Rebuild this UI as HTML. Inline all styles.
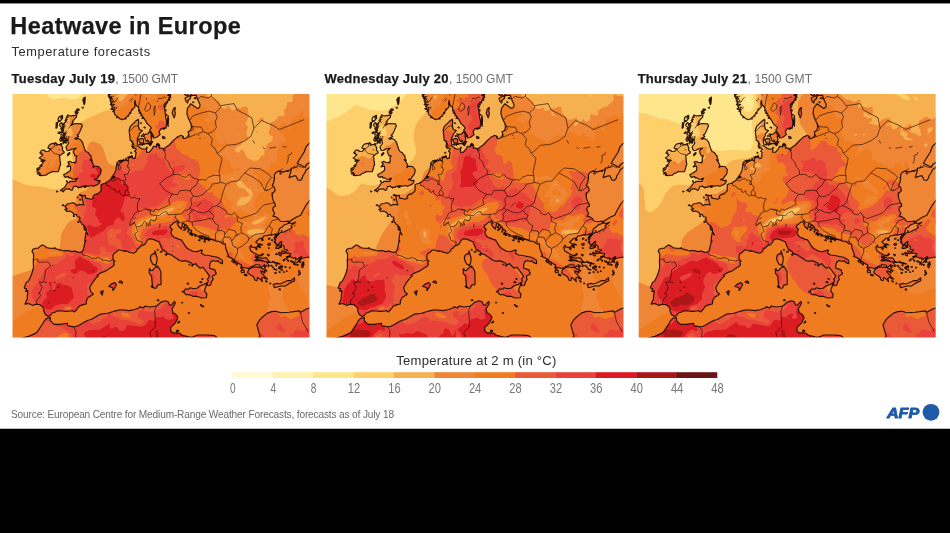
<!DOCTYPE html>
<html lang="en"><head><meta charset="utf-8"><title>Heatwave in Europe</title>
<style>
html,body{margin:0;padding:0;background:#fff}
body{width:950px;height:533px;position:relative;overflow:hidden}
.top{position:absolute;left:0;top:0;width:950px;height:3.4px;background:#000}
.bot{position:absolute;left:0;top:428.7px;width:950px;height:105px;background:#000}
svg{position:absolute;left:0;top:0}
text{font-family:"Liberation Sans",sans-serif;fill:#1a1a1a;white-space:pre}
.b{font-weight:bold}
.g{fill:#6e6e6e}
.d{fill:#2e2e2e}
.num{fill:#777}
.src{fill:#6a6a6a}
.afp{font-weight:bold;font-style:italic;fill:#1f5aa8;stroke:#1f5aa8;stroke-width:0.9px;stroke-linejoin:round}
.b{stroke:#1a1a1a;stroke-width:0.25px}
</style></head><body>
<svg width="950" height="533" viewBox="0 0 950 533">
<defs>
<filter id="soft" x="-5%" y="-5%" width="110%" height="110%"><feGaussianBlur stdDeviation="0.5"/></filter>
<clipPath id="frame"><rect x="0" y="0" width="297" height="243.5"/></clipPath>
<clipPath id="landclip"><path clip-rule="evenodd" d="M48.0 96.6 L49.3 95.4 L51.7 93.8 L52.5 92.7 L55.0 88.7 L56.8 88.3 L57.3 87.2 L60.8 87.4 L63.4 87.5 L63.5 86.3 L65.1 84.2 L63.4 84.5 L62.5 85.4 L59.6 85.0 L58.3 83.8 L56.4 84.1 L56.0 82.5 L54.3 82.9 L53.1 83.4 L51.8 82.6 L51.2 80.5 L53.0 79.7 L54.6 78.8 L57.9 76.5 L58.1 73.8 L57.8 72.0 L54.5 72.9 L56.8 70.1 L55.4 68.3 L57.1 67.4 L59.4 68.3 L61.3 68.5 L63.2 68.9 L62.7 68.0 L63.6 67.6 L63.6 65.8 L63.5 64.3 L64.6 61.8 L62.7 61.9 L60.8 58.0 L61.1 56.7 L63.7 54.2 L61.0 54.8 L58.8 55.4 L57.0 56.2 L54.7 56.5 L53.4 53.0 L54.9 51.0 L56.1 49.2 L55.3 47.5 L55.6 44.8 L53.5 45.0 L50.4 50.0 L51.3 46.2 L51.9 43.1 L52.5 40.4 L49.0 37.2 L51.0 35.0 L51.7 32.6 L51.3 31.2 L52.0 28.7 L53.8 27.2 L53.5 24.2 L55.4 20.9 L56.5 21.5 L58.1 22.0 L59.9 21.5 L62.0 21.6 L62.7 21.0 L64.2 21.4 L63.9 23.1 L61.3 25.8 L59.7 28.1 L60.7 28.1 L59.5 29.6 L58.7 31.2 L60.3 30.4 L63.0 29.5 L68.8 29.9 L69.9 31.7 L68.5 34.8 L67.9 36.5 L66.7 38.7 L66.1 40.1 L64.6 40.9 L66.1 42.5 L62.2 44.8 L63.3 45.1 L65.4 44.4 L68.2 45.8 L68.9 47.1 L69.9 48.0 L71.8 54.1 L72.1 55.0 L73.0 56.8 L73.4 57.4 L75.9 58.7 L77.0 60.6 L78.6 62.0 L78.1 62.4 L79.7 66.8 L77.6 65.7 L78.8 66.9 L81.1 70.7 L80.4 73.6 L81.9 72.4 L86.1 72.5 L88.5 75.4 L88.7 76.5 L87.9 80.1 L86.8 81.3 L85.7 82.8 L84.7 84.5 L83.4 85.1 L81.8 85.6 L83.8 85.9 L85.2 86.6 L87.5 86.4 L87.2 88.5 L85.1 90.6 L82.9 91.2 L81.2 92.3 L79.0 91.5 L75.4 92.3 L73.8 91.7 L71.2 92.1 L69.5 92.3 L69.0 93.3 L68.4 93.4 L66.3 93.1 L66.2 94.0 L63.6 92.0 L61.0 92.8 L60.4 94.4 L59.6 96.2 L58.8 96.2 L56.8 94.9 L54.1 94.8 L51.7 96.3 L50.8 97.9 L49.3 96.5Z M42.8 48.5 L44.8 50.1 L43.9 51.2 L46.2 50.5 L48.6 50.6 L50.2 54.1 L49.8 55.8 L51.7 58.2 L51.2 59.1 L49.6 59.8 L48.2 61.2 L46.9 61.8 L47.3 63.9 L47.6 67.2 L48.1 70.7 L47.3 72.1 L46.9 74.3 L45.8 77.6 L42.7 77.7 L39.7 77.5 L37.7 78.8 L35.4 79.6 L33.8 81.2 L31.8 81.3 L29.2 81.6 L26.8 81.4 L28.2 79.9 L24.8 79.9 L26.8 78.3 L24.4 78.0 L24.6 76.7 L26.8 75.6 L24.2 75.1 L25.7 73.8 L27.6 74.1 L27.2 72.9 L29.7 71.7 L27.5 71.6 L29.0 70.7 L30.5 68.4 L31.5 66.9 L32.7 66.2 L29.9 65.9 L26.8 63.9 L28.7 62.4 L30.4 60.9 L27.4 58.9 L29.0 56.2 L30.0 56.1 L32.2 56.4 L32.9 57.5 L35.9 57.3 L38.2 54.9 L35.8 54.3 L35.3 53.9 L36.8 51.1 L38.2 50.0 L39.7 49.6 L41.5 49.3 L42.0 50.9Z M108.7 -28.6 L107.7 -24.0 L104.9 -20.0 L99.9 -14.0 L96.6 -9.1 L96.5 -0.2 L97.9 5.1 L99.3 9.5 L99.8 13.9 L101.8 17.7 L102.1 20.4 L104.2 22.2 L107.3 24.8 L109.6 25.6 L111.4 25.0 L113.7 23.7 L116.7 20.4 L118.3 17.7 L120.0 15.1 L121.2 14.4 L122.6 12.6 L122.1 9.0 L122.6 6.4 L123.2 10.4 L124.9 12.6 L126.0 12.9 L126.1 14.4 L128.6 19.9 L131.6 24.7 L133.0 26.6 L134.4 29.4 L138.1 32.8 L138.8 34.0 L137.1 36.2 L138.7 38.2 L141.0 41.8 L140.7 43.9 L142.3 43.7 L143.4 43.6 L145.4 42.4 L147.6 40.6 L146.6 37.5 L147.7 36.2 L148.5 34.8 L152.0 33.9 L153.4 34.3 L154.3 28.6 L153.2 23.1 L152.7 18.8 L152.1 14.7 L151.5 11.2 L152.0 9.9 L155.2 8.6 L155.1 7.2 L157.1 2.8 L157.0 -1.4 L155.2 -4.1 L153.0 -5.8 L147.5 -7.3 L145.1 -12.2 L144.4 -15.7 L143.3 -22.0 L146.2 -31.4 L151.4 -40.0 L148.2 -58.0 L120.7 -67.7Z M157.6 -62.0 L161.5 -49.0 L156.1 -33.1 L158.3 -25.3 L161.3 -19.7 L161.9 -16.1 L163.1 -11.8 L166.8 -11.3 L169.8 -9.6 L172.5 -8.0 L174.0 -10.4 L177.0 -12.0 L179.1 -14.1 L181.4 -16.7 L183.1 -19.0 L186.2 -21.1 L188.3 -22.7 L190.9 -25.6 L197.1 -22.9 L199.7 -22.6 L195.8 -20.1 L194.2 -17.7 L193.5 -14.3 L188.9 -11.9 L184.1 -10.9 L180.9 -8.1 L178.5 -6.0 L177.7 -1.7 L179.1 1.4 L183.8 1.2 L185.1 5.6 L187.5 10.6 L187.2 13.2 L185.1 14.4 L181.8 12.2 L178.2 9.8 L174.9 14.5 L174.4 19.5 L175.4 22.9 L177.5 27.7 L178.4 29.5 L179.0 33.1 L177.9 36.8 L175.6 37.6 L176.2 40.4 L175.0 43.1 L172.5 44.5 L171.1 44.5 L170.2 43.7 L171.1 42.6 L168.6 41.5 L168.1 41.4 L164.7 43.1 L161.8 45.6 L159.9 47.5 L156.7 51.0 L150.8 54.9 L149.3 54.1 L146.7 54.3 L147.2 51.8 L146.5 50.2 L145.1 49.3 L143.8 50.8 L144.1 53.0 L141.0 52.2 L139.5 55.1 L136.9 58.1 L134.0 58.3 L134.1 54.7 L129.8 55.0 L128.4 54.3 L125.5 52.1 L125.1 49.9 L124.6 45.9 L125.8 45.1 L124.8 44.1 L126.4 42.4 L127.0 39.6 L129.8 36.6 L126.8 35.5 L125.9 32.0 L126.2 27.9 L125.9 25.3 L123.2 27.1 L117.9 32.3 L116.6 36.3 L117.3 42.5 L117.7 46.4 L119.6 47.0 L120.6 50.2 L119.7 52.1 L123.8 55.3 L122.1 57.2 L123.6 58.5 L123.2 60.8 L122.9 63.9 L120.9 64.6 L119.4 63.0 L115.7 64.2 L115.8 66.6 L114.9 66.9 L114.1 65.9 L111.1 66.7 L107.3 69.1 L105.8 70.8 L104.1 71.3 L103.4 75.9 L102.1 79.2 L101.4 80.3 L99.5 83.0 L98.3 84.9 L97.1 86.4 L95.5 87.4 L92.6 89.2 L89.9 90.0 L88.4 90.9 L88.6 92.2 L88.5 96.9 L86.0 99.4 L82.0 100.9 L80.9 101.7 L80.5 103.5 L81.3 104.0 L80.4 104.5 L78.6 105.3 L76.5 104.7 L74.0 104.2 L73.3 104.4 L72.8 102.3 L72.8 101.4 L70.8 101.8 L69.0 101.1 L69.7 104.3 L70.8 109.2 L71.4 111.0 L69.4 110.5 L68.4 110.7 L66.6 110.4 L64.3 111.6 L62.4 109.3 L60.2 108.7 L57.1 109.5 L55.0 109.8 L52.3 112.4 L53.1 113.4 L54.8 114.9 L52.3 115.2 L54.4 117.5 L57.0 117.1 L60.2 118.6 L61.6 120.9 L63.5 120.3 L64.9 122.7 L67.0 123.0 L67.6 124.5 L66.7 125.4 L68.4 128.2 L69.3 130.0 L71.5 131.5 L72.9 133.2 L73.6 135.0 L73.9 138.0 L75.6 140.9 L73.6 138.4 L72.7 143.5 L72.3 146.9 L73.3 146.7 L72.2 148.9 L71.9 150.7 L70.8 155.6 L69.9 157.1 L68.5 158.1 L67.1 158.5 L62.2 157.1 L59.3 157.6 L55.4 156.5 L51.5 156.9 L49.3 156.5 L47.3 155.9 L43.4 154.8 L42.4 153.7 L41.7 154.3 L37.9 154.2 L34.6 153.8 L30.8 151.1 L29.6 151.1 L28.3 151.9 L26.5 153.3 L25.7 154.1 L23.1 154.2 L20.3 155.2 L19.5 157.7 L20.7 158.8 L21.1 161.4 L21.0 163.9 L20.7 166.7 L20.8 168.6 L21.0 173.6 L19.8 178.1 L18.3 182.3 L16.0 186.9 L13.6 188.7 L11.8 193.7 L12.2 194.5 L14.1 194.9 L13.2 197.4 L15.5 196.9 L14.8 201.8 L14.7 205.0 L12.5 210.0 L12.8 210.2 L14.9 209.6 L16.0 209.6 L17.9 210.3 L20.3 211.6 L22.4 210.6 L24.2 210.3 L27.4 210.8 L30.1 212.7 L31.2 214.8 L31.3 217.1 L32.8 220.5 L35.8 222.5 L37.8 221.6 L39.6 219.0 L41.7 218.5 L45.4 216.8 L49.5 217.0 L52.1 217.3 L55.8 217.3 L60.0 216.8 L62.0 217.9 L64.3 215.5 L67.0 211.9 L71.5 210.4 L73.7 210.0 L73.9 206.9 L75.6 203.6 L78.2 201.9 L80.9 200.1 L80.0 199.1 L78.2 197.7 L77.8 196.1 L77.1 193.6 L78.1 191.8 L79.7 188.9 L82.5 185.4 L83.0 184.4 L85.8 182.1 L84.6 181.4 L88.5 178.7 L92.2 177.4 L94.8 176.1 L96.7 174.6 L99.0 173.2 L101.2 171.5 L101.8 170.5 L101.2 169.0 L101.5 167.8 L102.4 167.2 L101.3 166.2 L100.7 165.5 L100.4 163.9 L100.4 162.0 L101.1 159.8 L103.2 158.5 L104.5 157.3 L105.9 156.0 L107.2 156.0 L109.3 156.5 L112.1 157.4 L112.7 156.5 L113.4 157.3 L115.5 157.4 L116.8 158.2 L117.2 158.4 L119.4 158.8 L120.8 159.3 L122.3 158.7 L124.2 156.8 L124.5 155.4 L126.2 154.0 L126.9 153.9 L127.7 152.4 L128.6 152.1 L129.1 151.5 L130.9 151.1 L132.4 150.2 L133.5 148.5 L134.9 146.0 L137.6 144.6 L139.6 145.3 L140.8 145.4 L143.9 146.7 L146.8 148.0 L147.7 150.8 L149.9 156.0 L151.6 155.8 L151.6 156.9 L153.5 157.5 L154.7 160.0 L155.5 159.6 L159.1 161.0 L159.9 161.8 L163.3 164.0 L166.6 166.3 L169.9 167.5 L171.2 166.8 L173.6 166.9 L176.4 167.9 L179.0 169.1 L180.3 170.6 L180.1 171.2 L181.8 170.2 L182.9 169.5 L185.1 172.0 L187.8 174.2 L190.2 173.2 L191.8 175.0 L194.6 178.6 L197.1 182.2 L194.9 185.4 L195.8 186.9 L194.9 188.8 L194.7 190.3 L195.3 191.5 L196.1 191.6 L198.1 191.0 L199.0 187.9 L200.7 185.3 L199.9 183.4 L200.1 182.0 L203.4 180.3 L203.8 178.9 L203.1 178.7 L202.5 175.9 L200.8 175.4 L197.3 174.3 L197.0 173.1 L197.4 169.9 L197.9 168.3 L200.2 166.5 L202.7 167.3 L205.6 166.9 L206.8 168.4 L210.0 169.7 L210.0 166.4 L208.0 164.9 L204.9 163.3 L199.7 162.2 L196.3 161.5 L191.8 161.0 L188.7 159.1 L189.8 156.4 L188.6 156.1 L187.7 156.5 L184.2 157.6 L181.6 157.5 L179.6 157.1 L176.9 155.5 L175.4 154.7 L173.2 152.7 L172.2 151.1 L170.5 148.3 L168.8 145.9 L166.4 145.4 L164.9 144.5 L163.9 144.1 L161.5 143.2 L160.2 142.3 L159.1 140.6 L158.4 138.1 L159.8 135.5 L157.7 133.5 L157.7 131.6 L159.4 130.6 L160.6 129.4 L162.0 128.3 L163.7 127.9 L164.4 126.8 L166.0 127.6 L166.0 128.6 L165.0 129.0 L164.9 129.9 L165.8 131.6 L166.3 132.8 L168.1 134.3 L168.8 135.1 L169.6 132.1 L170.0 129.6 L170.9 129.4 L172.8 130.4 L174.4 131.6 L176.5 135.3 L179.3 136.7 L178.5 138.6 L180.3 139.9 L183.6 140.9 L184.2 142.1 L186.4 142.0 L187.7 141.8 L189.5 141.9 L191.9 142.5 L195.2 143.8 L196.7 144.5 L197.5 145.1 L200.4 145.9 L201.5 146.2 L204.0 147.1 L206.5 147.4 L208.6 148.4 L209.8 149.7 L211.1 149.9 L212.8 149.8 L213.2 154.2 L214.4 157.3 L215.9 161.5 L214.7 162.2 L218.7 163.9 L221.1 165.2 L221.6 166.4 L224.0 167.7 L225.7 169.2 L229.1 171.1 L229.2 173.4 L232.8 173.7 L235.7 174.5 L238.3 173.5 L238.5 172.8 L242.5 171.4 L242.6 170.8 L244.2 170.7 L247.4 171.0 L248.1 173.2 L246.3 173.4 L245.2 173.1 L240.7 173.3 L238.5 173.7 L238.3 174.3 L236.0 175.9 L235.0 178.6 L237.3 180.6 L241.1 182.8 L242.2 185.6 L242.7 186.3 L244.3 186.6 L244.7 185.7 L244.9 183.5 L246.4 184.3 L248.1 185.6 L249.8 187.6 L249.2 184.3 L250.6 183.3 L253.7 185.0 L255.0 185.0 L253.0 183.4 L250.2 180.1 L248.5 178.3 L248.2 176.8 L248.8 177.0 L251.5 177.9 L252.0 177.1 L253.1 175.4 L252.2 174.8 L250.5 175.3 L248.5 173.5 L250.7 171.9 L251.7 170.8 L252.8 171.4 L254.3 172.0 L256.6 172.4 L256.7 171.7 L255.1 169.5 L255.1 168.2 L252.6 167.6 L250.7 167.2 L248.1 166.8 L245.7 166.4 L243.9 166.9 L242.2 166.4 L244.6 164.9 L244.2 164.3 L243.0 163.3 L243.1 161.6 L244.9 163.3 L246.4 161.7 L243.6 160.0 L241.6 158.9 L240.0 157.9 L238.5 157.2 L237.6 155.0 L237.0 153.5 L237.8 152.7 L238.7 151.1 L239.2 153.1 L242.3 153.4 L244.0 155.7 L244.6 154.2 L242.9 153.5 L244.9 152.4 L248.0 153.7 L247.4 152.4 L245.2 151.5 L246.6 150.6 L250.1 151.0 L248.1 149.9 L245.8 150.2 L244.9 149.4 L243.3 148.2 L244.1 147.2 L247.2 144.4 L249.4 144.2 L250.1 143.9 L251.6 141.7 L254.6 141.6 L257.1 140.7 L258.5 141.1 L258.8 141.3 L264.0 139.7 L261.5 143.9 L262.2 146.2 L262.5 146.4 L263.7 151.0 L265.5 150.2 L269.2 147.3 L268.5 150.5 L270.8 151.6 L271.7 152.6 L271.5 155.3 L275.1 156.0 L272.9 157.6 L269.0 156.7 L269.9 159.6 L273.7 158.9 L278.3 159.9 L277.4 162.6 L280.4 164.1 L283.2 163.6 L283.0 166.0 L289.1 162.6 L284.0 169.0 L289.6 164.3 L293.9 163.5 L296.4 163.0 L299.3 164.9 L302.0 164.2 L305.1 161.4 L307.3 161.1 L306.6 157.4 L306.1 154.7 L311.4 152.8 L316.5 152.0 L319.9 152.8 L324.5 152.5 L328.8 148.9 L331.0 145.2 L334.1 138.8 L342.3 134.1 L382.2 108.8 L362.2 13.3 L311.4 -65.8 L225.3 -113.5Z M-46.7 281.3 L-15.4 277.4 L-6.1 268.0 L-4.4 258.0 L1.7 251.7 L9.3 244.2 L16.7 242.1 L23.5 239.1 L25.3 237.1 L30.5 229.2 L31.8 226.9 L34.0 224.3 L37.9 223.6 L37.7 226.3 L38.9 227.8 L41.7 230.4 L47.4 230.4 L54.9 229.2 L55.0 230.6 L55.2 231.7 L60.5 232.6 L63.1 232.7 L67.0 231.0 L72.9 227.5 L75.7 226.2 L78.6 225.5 L88.1 220.1 L95.0 219.2 L101.5 217.3 L103.0 216.9 L107.9 215.7 L116.9 216.6 L122.2 215.5 L128.2 213.2 L127.4 212.6 L130.7 214.0 L132.7 212.0 L137.4 213.0 L142.6 212.3 L144.8 211.5 L148.1 208.4 L152.7 206.8 L155.6 207.7 L156.8 210.9 L158.4 211.3 L162.1 207.4 L162.8 209.3 L160.5 213.4 L159.6 214.1 L160.5 219.1 L162.1 219.3 L164.4 221.4 L165.4 223.7 L163.0 228.8 L158.1 233.6 L158.5 237.4 L160.8 238.9 L167.3 239.3 L170.0 241.5 L171.3 241.5 L176.0 242.8 L179.5 243.2 L185.2 241.0 L194.7 241.0 L202.1 241.6 L212.1 249.9 L240.2 249.6 L247.5 242.3 L244.3 230.8 L247.2 225.8 L249.8 223.2 L254.8 219.1 L259.1 217.6 L263.4 217.2 L268.3 218.7 L276.5 218.3 L286.8 216.9 L288.0 218.3 L294.0 215.0 L305.6 211.7 L321.6 208.5 L327.3 201.5 L334.4 194.3 L345.2 189.7 L355.3 185.4 L359.9 176.9 L357.7 163.0 L353.4 149.4 L345.0 138.8 L342.3 134.1 L440.4 128.7 L384.6 285.0 L57.8 372.4Z M136.8 37.9 L138.3 39.2 L139.0 41.3 L138.8 43.6 L139.2 45.4 L138.3 47.9 L136.8 48.2 L133.5 47.0 L132.8 45.8 L132.0 43.2 L130.9 42.5 L132.4 40.4 L134.5 40.0 L135.6 39.3Z M128.3 44.4 L130.6 44.8 L131.2 46.6 L131.2 48.8 L128.7 49.3 L126.9 47.8 L126.1 45.7Z M132.8 49.4 L135.9 49.8 L137.8 51.6 L138.8 50.1 L140.2 47.5 L138.0 47.9 L136.3 49.2Z M150.1 42.3 L152.4 43.3 L152.3 44.5 L150.4 44.4Z M162.9 13.6 L162.3 16.7 L162.9 19.8 L161.7 23.8 L161.0 22.3 L159.7 19.0 L160.6 15.8 L161.6 14.1Z M155.6 21.5 L156.0 25.8 L155.6 32.4 L155.0 29.8 L155.1 25.1Z M172.8 3.7 L176.5 2.0 L178.5 2.3 L177.6 4.7 L175.4 6.5 L175.2 9.0 L173.5 7.3 L172.7 5.2Z M173.7 -1.3 L175.7 -0.9 L175.6 1.1 L173.8 1.4 L172.1 0.6Z M102.2 188.6 L104.0 190.3 L102.3 194.0 L101.3 194.8 L99.1 193.3 L96.2 192.5 L98.7 190.1Z M108.6 187.0 L110.0 188.1 L109.9 189.3 L106.6 188.5 L106.8 187.4Z M90.5 196.7 L90.8 197.6 L89.4 199.2 L87.9 198.6 L88.7 197.2Z M142.5 156.7 L143.2 159.3 L144.7 164.5 L144.0 169.2 L143.2 171.4 L140.3 170.2 L138.6 167.3 L137.8 163.8 L138.7 160.9 L141.2 159.4 L142.3 159.7Z M143.4 172.5 L146.8 174.2 L148.4 178.0 L148.4 183.1 L148.6 186.7 L148.4 190.8 L145.4 190.9 L143.6 194.2 L141.7 194.2 L140.1 192.6 L139.8 190.3 L139.3 185.4 L138.9 181.8 L136.8 179.4 L136.8 176.2 L139.7 176.7 L142.2 174.0Z M194.3 188.8 L193.8 191.5 L191.9 196.6 L194.4 200.2 L193.8 203.8 L188.8 204.0 L184.4 202.3 L180.5 202.3 L176.2 200.5 L173.5 200.7 L171.6 198.8 L171.6 196.5 L173.2 194.8 L176.0 195.3 L177.6 193.7 L180.9 194.8 L184.3 194.2 L187.6 191.7 L191.6 190.2Z M260.7 190.2 L264.8 189.4 L266.8 190.0 L270.7 188.7 L275.2 186.6 L278.4 186.6 L282.0 183.8 L282.1 186.8 L278.0 188.8 L272.0 192.3 L269.4 191.8 L264.6 193.0 L261.8 193.7 L261.1 191.5Z M246.7 163.5 L248.3 164.3 L251.4 163.9 L253.8 163.8 L256.2 167.2 L258.9 168.5 L255.3 168.1 L251.6 167.3 L249.5 166.2 L245.2 165.6 L245.3 164.1Z M291.0 167.7 L291.5 170.5 L290.1 173.9 L289.0 172.7 L289.5 169.5Z M266.0 150.9 L268.4 151.5 L269.2 153.1 L265.6 154.4 L263.5 154.4 L263.4 153.2Z M266.7 158.3 L268.7 159.9 L268.5 162.0 L266.9 161.3 L265.9 159.2Z M274.0 162.8 L277.4 161.6 L276.7 162.9 L274.5 163.7Z M229.2 175.6 L231.5 176.4 L231.8 178.5 L229.1 178.7 L228.5 177.0Z M220.3 166.0 L221.1 166.3 L222.7 168.6 L223.3 169.2 L221.2 168.7 L219.1 167.1Z M232.0 180.1 L234.6 181.0 L233.9 181.8 L232.0 181.2Z M255.9 149.6 L257.6 149.3 L257.7 150.7 L256.0 151.5 L255.1 150.4Z M249.3 144.7 L250.5 145.2 L250.4 146.4 L249.0 146.3Z M256.0 144.6 L257.4 144.1 L257.3 144.9 L255.9 145.3Z M268.7 171.3 L270.2 172.6 L269.4 173.7 L268.1 172.8Z M266.8 172.7 L267.9 173.7 L266.7 174.3Z M260.1 167.4 L262.7 168.2 L262.9 169.1 L260.3 168.3Z M263.4 169.1 L265.6 169.3 L264.7 170.0Z M262.5 178.4 L263.9 178.7 L262.6 179.6Z M282.6 167.5 L281.3 169.2 L281.0 170.3 L282.4 168.8Z M286.3 176.2 L288.0 179.4 L287.5 180.1 L286.4 178.1Z M253.3 186.3 L254.9 187.8 L253.6 187.9Z M272.8 164.6 L270.9 166.8 L270.6 166.2Z M255.1 160.3 L256.7 161.1 L255.9 161.9Z M338.1 146.9 L336.2 153.7 L338.5 154.9 L333.2 162.1 L328.5 164.1 L325.8 161.5 L329.4 158.2 L331.1 154.9Z M57.1 58.5 L57.4 59.6 L55.0 61.7 L55.1 60.3Z M49.9 21.3 L50.1 24.2 L47.7 27.1 L46.1 27.8 L45.5 25.9 L46.1 23.3Z M45.1 28.3 L44.9 30.8 L44.5 33.4 L43.6 33.3 L43.7 28.8Z M49.2 28.6 L50.0 31.3 L50.7 34.5 L48.9 33.4 L47.0 31.4 L47.5 29.7Z M49.6 38.0 L51.6 39.9 L50.4 41.2 L48.3 40.9 L48.6 39.2Z M49.0 44.3 L49.3 46.9 L48.1 47.2 L47.2 45.7 L47.8 44.5Z M51.3 42.6 L49.9 45.6 L49.5 44.6 L50.3 42.9Z M53.5 46.6 L53.8 49.1 L52.6 49.0 L52.6 47.2Z M63.9 16.8 L65.6 18.2 L64.8 20.0 L62.8 19.4 L62.8 17.2Z M66.1 14.9 L66.9 16.0 L65.4 16.4Z M72.7 3.1 L72.6 6.0 L72.4 8.2 L71.6 10.7 L70.9 8.2 L70.3 5.9 L71.1 4.2Z M72.6 91.8 L73.8 92.7 L72.6 93.5 L71.1 92.7Z M67.4 105.1 L68.5 106.0 L67.1 106.0Z M65.2 102.9 L65.6 103.7 L64.8 103.6Z M60.8 121.7 L61.8 122.5 L60.9 122.4Z M71.6 134.1 L72.8 136.2 L71.9 135.7Z M189.2 211.5 L191.2 212.2 L190.4 212.9 L189.2 212.2Z M148.7 157.3 L149.7 157.5 L148.6 158.2 L147.6 157.9Z M164.6 236.1 L166.3 236.7 L165.2 237.8 L163.9 237.6Z M169.3 208.2 L170.2 208.8 L169.3 208.9Z M104.4 69.3 L104.0 71.0 L104.7 70.5Z M106.4 66.7 L108.5 67.2 L108.4 66.3Z M158.2 -8.0 L160.5 -7.9 L160.7 -6.1 L158.6 -5.8Z M166.6 227.0 L167.2 228.2 L165.3 229.1Z M228.7 172.2 L229.9 174.1 L228.8 174.5 L228.3 173.3Z M101.2 17.5 L100.3 17.7 L100.5 17.0Z M99.4 15.4 L98.3 14.8 L99.5 14.4Z M99.3 12.6 L99.2 11.7 L100.2 12.1Z M99.2 10.9 L97.7 10.7 L98.7 9.7Z M99.3 8.7 L98.3 8.9 L98.6 8.2Z M98.5 7.4 L97.4 6.8 L98.5 6.4Z M97.1 4.7 L97.0 3.8 L98.0 4.2Z M97.4 3.0 L95.9 2.7 L96.9 1.8Z M96.7 0.9 L95.7 1.1 L96.0 0.3Z M96.6 -1.4 L95.5 -2.0 L96.7 -2.4Z M95.7 -4.1 L95.6 -5.0 L96.6 -4.7Z M96.7 -6.8 L95.2 -7.1 L96.2 -8.0Z M102.3 16.1 L101.4 16.2 L101.7 15.5Z M102.3 14.2 L101.2 13.7 L102.4 13.2Z M100.9 11.1 L100.8 10.2 L101.8 10.6Z M101.4 8.0 L99.9 7.8 L100.9 6.8Z M100.1 5.1 L99.2 5.2 L99.4 4.5Z M98.9 3.8 L97.8 3.2 L98.9 2.7Z M97.8 0.2 L97.7 -0.7 L98.7 -0.4Z M98.7 -3.4 L97.2 -3.7 L98.2 -4.6Z M98.9 -11.0 L97.9 -10.8 L98.2 -11.5Z M100.7 -13.5 L99.6 -14.0 L100.7 -14.5Z M104.3 23.8 L104.2 22.9 L105.2 23.3Z M113.6 25.0 L112.0 24.8 L113.0 23.9Z M116.2 22.1 L115.2 22.2 L115.5 21.5Z M118.2 19.4 L117.1 18.8 L118.2 18.4Z M119.2 16.3 L119.1 15.4 L120.2 15.8Z M131.0 24.4 L129.4 24.1 L130.4 23.2Z M129.3 21.6 L128.4 21.8 L128.7 21.0Z M127.7 19.5 L126.6 19.0 L127.8 18.5Z M126.1 16.9 L126.0 16.0 L127.0 16.4Z M157.4 6.2 L155.9 6.0 L156.9 5.1Z M158.3 3.6 L157.4 3.8 L157.7 3.1Z M158.0 2.2 L156.9 1.6 L158.0 1.2Z M157.6 0.2 L157.5 -0.7 L158.5 -0.3Z M158.3 -1.7 L156.8 -1.9 L157.8 -2.8Z M154.5 20.9 L153.6 21.0 L153.9 20.3Z M153.4 16.9 L152.3 16.3 L153.5 15.8Z M152.2 13.2 L152.1 12.3 L153.1 12.7Z M151.4 35.2 L149.9 35.0 L150.9 34.0Z M152.2 34.6 L151.3 34.8 L151.5 34.0Z M153.5 11.2 L152.4 10.6 L153.6 10.2Z M153.6 9.0 L153.5 8.1 L154.6 8.5Z M156.8 1.7 L155.2 1.5 L156.3 0.5Z M155.8 -5.0 L154.9 -4.8 L155.2 -5.5Z M163.9 -7.6 L162.8 -8.1 L164.0 -8.6Z M165.9 -6.7 L165.8 -7.6 L166.9 -7.2Z M168.5 -8.3 L167.0 -8.6 L168.0 -9.5Z M170.2 -7.5 L169.3 -7.3 L169.6 -8.0Z M165.6 -9.2 L164.5 -9.7 L165.6 -10.2Z M168.4 -9.6 L168.3 -10.5 L169.3 -10.2Z M173.9 -8.6 L172.4 -8.8 L173.4 -9.8Z M176.5 -11.1 L175.6 -11.0 L175.9 -11.7Z M179.8 -13.3 L178.7 -13.9 L179.9 -14.3Z M182.3 -16.8 L182.2 -17.7 L183.2 -17.3Z M186.6 -19.5 L185.1 -19.7 L186.1 -20.6Z M163.0 -8.5 L162.1 -8.3 L162.4 -9.1Z M163.1 -6.3 L162.0 -6.9 L163.1 -7.3Z M164.9 -10.6 L164.8 -11.5 L165.8 -11.2Z M158.6 -6.0 L157.1 -6.3 L158.1 -7.2Z M129.1 29.2 L128.2 29.4 L128.4 28.7Z M132.5 34.1 L131.4 33.6 L132.6 33.1Z M129.0 42.4 L128.9 41.5 L129.9 41.9Z M128.1 50.9 L126.6 50.7 L127.6 49.7Z M132.2 50.3 L131.3 50.4 L131.5 49.7Z M130.1 51.3 L129.0 50.7 L130.2 50.2Z M139.0 48.4 L138.9 47.5 L139.9 47.9Z M138.4 50.3 L136.8 50.1 L137.8 49.1Z M135.0 53.8 L134.0 54.0 L134.3 53.3Z M145.8 51.9 L144.7 51.3 L145.9 50.8Z M144.9 50.5 L144.8 49.6 L145.8 50.0Z M139.8 42.4 L138.3 42.2 L139.3 41.2Z M135.8 46.8 L134.8 47.0 L135.1 46.3Z M131.1 49.9 L130.0 49.3 L131.2 48.9Z M130.6 40.7 L130.5 39.8 L131.5 40.2Z M46.9 39.4 L45.4 39.2 L46.4 38.2Z M48.0 38.3 L47.1 38.5 L47.4 37.8Z M49.2 35.3 L48.1 34.7 L49.3 34.3Z M49.2 36.2 L49.1 35.3 L50.2 35.7Z M49.5 43.7 L48.0 43.5 L49.0 42.5Z M51.3 46.7 L50.4 46.9 L50.7 46.1Z M54.3 46.0 L53.2 45.5 L54.4 45.0Z M43.5 34.2 L43.4 33.3 L44.4 33.7Z M49.7 24.1 L48.2 23.9 L49.2 22.9Z M51.2 30.6 L50.3 30.8 L50.6 30.1Z M53.5 26.8 L52.5 26.2 L53.6 25.8Z M51.0 42.6 L50.9 41.7 L51.9 42.1Z M52.5 41.8 L51.0 41.5 L52.0 40.6Z M51.3 33.3 L50.4 33.5 L50.7 32.8Z M51.8 30.2 L50.7 29.6 L51.9 29.2Z M53.6 25.9 L53.5 25.0 L54.6 25.4Z M55.6 23.3 L54.1 23.1 L55.1 22.2Z M47.1 27.1 L46.2 27.2 L46.5 26.5Z M44.8 32.1 L43.7 31.5 L44.8 31.1Z M50.3 37.2 L50.2 36.3 L51.3 36.7Z M53.5 39.6 L52.0 39.4 L53.0 38.5Z M52.7 44.1 L51.7 44.3 L52.0 43.6Z M52.3 48.5 L51.2 48.0 L52.4 47.5Z M54.4 46.5 L54.3 45.6 L55.3 46.0Z M65.5 16.0 L63.9 15.8 L64.9 14.8Z M64.8 17.8 L63.9 18.0 L64.2 17.3Z M63.8 19.5 L62.7 19.0 L63.8 18.5Z M71.7 7.3 L71.6 6.4 L72.6 6.8Z M72.6 5.5 L71.1 5.3 L72.1 4.4Z M72.3 9.6 L71.4 9.8 L71.7 9.1Z M70.6 14.2 L69.5 13.6 L70.7 13.2Z M172.2 132.1 L172.1 131.2 L173.1 131.5Z M172.2 133.7 L170.7 133.5 L171.7 132.5Z M174.5 133.9 L173.6 134.1 L173.9 133.4Z M176.5 136.3 L175.4 135.7 L176.6 135.2Z M177.3 140.5 L177.2 139.6 L178.2 139.9Z M178.7 139.6 L177.2 139.4 L178.2 138.4Z M180.1 141.4 L179.2 141.6 L179.5 140.9Z M189.8 143.5 L188.7 143.0 L189.8 142.5Z M189.9 144.9 L189.8 144.0 L190.8 144.3Z M187.5 146.8 L186.0 146.5 L187.0 145.6Z M192.5 145.8 L191.6 146.0 L191.9 145.3Z M196.7 146.8 L195.6 146.2 L196.8 145.7Z M195.1 145.6 L195.0 144.7 L196.0 145.1Z M193.0 148.0 L191.4 147.7 L192.4 146.8Z M187.6 143.3 L186.6 143.4 L186.9 142.7Z M173.0 135.8 L171.9 135.2 L173.1 134.7Z M175.4 138.2 L175.3 137.3 L176.3 137.7Z M179.8 141.0 L178.2 140.8 L179.2 139.8Z M183.1 142.0 L182.1 142.2 L182.4 141.5Z M188.5 145.1 L187.4 144.5 L188.5 144.0Z M191.9 144.3 L191.7 143.4 L192.8 143.7Z M194.6 145.4 L193.0 145.2 L194.0 144.2Z M172.0 136.1 L171.1 136.3 L171.4 135.6Z M259.2 172.2 L258.1 171.7 L259.3 171.2Z M260.1 173.7 L260.0 172.8 L261.0 173.1Z M262.5 175.5 L261.0 175.3 L262.0 174.3Z M264.4 176.0 L263.5 176.1 L263.8 175.4Z M264.1 171.9 L263.0 171.3 L264.2 170.9Z M266.6 170.2 L266.5 169.3 L267.5 169.7Z M270.1 176.2 L268.5 176.0 L269.5 175.1Z M271.9 178.2 L270.9 178.3 L271.2 177.6Z M273.4 173.5 L272.3 172.9 L273.4 172.4Z M277.1 174.1 L277.0 173.2 L278.0 173.6Z M280.7 168.3 L279.1 168.1 L280.1 167.1Z M279.0 167.2 L278.0 167.4 L278.3 166.7Z M276.0 167.3 L274.9 166.7 L276.1 166.3Z M284.8 171.4 L284.7 170.5 L285.7 170.9Z M288.4 168.3 L286.9 168.1 L287.9 167.1Z M286.7 180.9 L285.8 181.1 L286.0 180.4Z M247.6 162.1 L246.5 161.6 L247.7 161.1Z M248.9 161.8 L248.8 160.9 L249.8 161.2Z M250.8 160.5 L249.3 160.3 L250.3 159.4Z M256.9 154.1 L256.0 154.3 L256.2 153.6Z M259.9 146.7 L258.8 146.1 L260.0 145.7Z M261.9 148.7 L261.8 147.8 L262.9 148.2Z M264.7 160.6 L263.1 160.4 L264.1 159.4Z M253.1 173.4 L252.1 173.5 L252.4 172.8Z M252.2 172.3 L251.1 171.7 L252.3 171.2Z M253.5 177.3 L253.4 176.4 L254.4 176.7Z M252.5 178.9 L250.9 178.7 L251.9 177.7Z M230.9 176.0 L229.9 176.2 L230.2 175.5Z M224.7 171.0 L223.6 170.4 L224.8 169.9Z M257.4 189.9 L257.3 189.0 L258.3 189.3Z M268.0 195.9 L266.4 195.6 L267.4 194.7Z M274.7 177.3 L273.8 177.5 L274.1 176.7Z M267.5 178.6 L266.4 178.0 L267.5 177.5Z M266.2 174.3 L266.1 173.4 L267.1 173.8Z M267.9 175.0 L266.4 174.8 L267.4 173.8Z M274.9 165.2 L274.0 165.4 L274.2 164.7Z M272.1 166.4 L271.0 165.9 L272.1 165.4Z M282.6 171.0 L282.5 170.1 L283.6 170.5Z M282.5 169.8 L281.0 169.6 L282.0 168.7Z M268.5 159.4 L267.6 159.5 L267.9 158.8Z M267.8 153.5 L266.7 153.0 L267.8 152.5Z M275.6 163.3 L275.5 162.4 L276.5 162.8Z M290.6 170.7 L289.1 170.5 L290.1 169.5Z M287.5 178.5 L286.6 178.6 L286.9 177.9Z M256.2 161.5 L255.1 160.9 L256.3 160.5Z M261.4 168.6 L261.3 167.7 L262.3 168.1Z M265.4 169.7 L263.9 169.5 L264.9 168.5Z M177.3 170.7 L176.4 170.8 L176.6 170.1Z M179.8 172.1 L178.7 171.5 L179.8 171.0Z M188.5 188.8 L188.4 187.9 L189.4 188.3Z M176.1 190.1 L174.6 189.9 L175.6 188.9Z M170.8 197.8 L169.8 198.0 L170.1 197.3Z M176.8 219.5 L175.7 218.9 L176.8 218.4Z M188.1 211.5 L188.0 210.6 L189.0 211.0Z M154.1 161.1 L152.6 160.8 L153.6 159.9Z M145.8 155.9 L144.9 156.1 L145.2 155.3Z M137.5 175.8 L136.4 175.2 L137.6 174.7Z M144.7 172.9 L144.5 172.0 L145.6 172.4Z M141.0 193.7 L139.5 193.4 L140.5 192.5Z M139.6 192.4 L138.7 192.6 L139.0 191.8Z M190.3 185.6 L189.2 185.0 L190.3 184.6Z M187.6 188.4 L187.5 187.5 L188.5 187.9Z M51.3 111.7 L49.7 111.5 L50.7 110.6Z M72.2 132.9 L71.3 133.0 L71.5 132.3Z M66.3 128.4 L65.2 127.9 L66.4 127.4Z M44.3 98.0 L44.2 97.1 L45.3 97.5Z M29.9 67.5 L28.4 67.2 L29.4 66.3Z M29.1 59.4 L28.2 59.6 L28.5 58.8Z M48.8 50.4 L47.7 49.9 L48.8 49.4Z M54.0 87.8 L53.9 86.9 L54.9 87.3Z M68.2 101.5 L66.7 101.3 L67.7 100.4Z M105.6 68.6 L104.6 68.8 L104.9 68.0Z M107.1 67.7 L106.0 67.1 L107.1 66.7Z M108.4 67.0 L108.3 66.1 L109.4 66.5Z M111.7 66.5 L110.1 66.3 L111.1 65.3Z M113.9 64.8 L113.0 65.0 L113.3 64.2Z M116.2 64.0 L115.1 63.4 L116.2 63.0Z M117.0 63.3 L116.9 62.4 L117.9 62.8Z M120.0 62.8 L118.4 62.5 L119.4 61.6Z M119.3 58.9 L118.3 59.1 L118.6 58.3Z M121.1 54.3 L120.0 53.7 L121.1 53.3Z M119.6 52.6 L119.5 51.7 L120.5 52.0Z M121.2 50.4 L119.6 50.2 L120.6 49.2Z M120.0 47.7 L119.1 47.9 L119.3 47.2Z M100.9 83.0 L99.8 82.4 L100.9 82.0Z M99.8 84.3 L99.7 83.4 L100.8 83.8Z M102.4 83.8 L100.8 83.5 L101.9 82.6Z M178.3 1.8 L177.4 2.0 L177.6 1.2Z M176.7 -1.1 L175.6 -1.7 L176.8 -2.1Z M180.5 8.7 L180.4 7.8 L181.4 8.2Z M183.4 4.6 L181.8 4.4 L182.9 3.4Z M269.6 137.0 L268.7 137.2 L268.9 136.5Z M90.0 200.9 L89.0 200.3 L90.1 199.8Z M100.3 196.4 L100.2 195.5 L101.2 195.8Z M146.3 206.6 L144.7 206.4 L145.8 205.5Z M276.0 77.3 L275.1 77.4 L275.4 76.7Z M268.4 80.0 L267.3 79.4 L268.5 78.9Z M297.9 69.9 L297.8 69.0 L298.9 69.4Z M262.2 146.2 L262.9 144.5 L263.9 141.6 L265.9 138.6 L267.1 134.4 L269.8 133.0 L271.3 131.2 L276.0 129.3 L275.9 127.1 L272.8 127.5 L268.0 127.2 L266.3 125.6 L266.0 124.7 L265.0 124.0 L262.2 122.3 L260.5 122.3 L261.4 120.3 L262.2 119.4 L261.6 118.5 L260.2 115.4 L260.9 113.0 L262.8 112.4 L262.9 110.6 L261.5 108.4 L260.4 105.4 L259.9 103.8 L259.7 99.9 L262.7 96.7 L262.2 94.3 L261.0 92.4 L259.8 91.6 L261.1 88.8 L262.0 84.6 L261.9 80.7 L263.2 78.7 L265.6 77.3 L268.2 77.3 L270.2 78.1 L275.1 76.6 L277.7 76.0 L279.1 74.0 L278.5 77.1 L277.0 81.8 L276.6 83.6 L282.0 81.7 L283.5 81.9 L285.4 86.0 L288.0 86.5 L289.8 84.1 L290.2 82.0 L292.4 78.7 L293.7 75.7 L296.1 74.3 L298.5 71.4 L297.7 69.2 L297.7 68.1 L293.7 70.8 L292.8 73.3 L285.0 69.4 L284.7 69.5 L286.6 66.0 L291.7 58.0 L293.5 52.7 L299.5 47.0 L301.9 46.2 L299.2 52.9 L302.3 57.9 L302.3 66.4 L298.4 68.1 L299.0 70.0 L304.2 69.4 L307.9 68.9 L310.0 69.0 L317.7 68.0 L324.0 68.9 L332.8 67.1 L341.7 70.1 L345.7 75.0 L341.5 84.4 L336.6 87.3 L329.5 94.2 L319.5 98.4 L314.2 97.8 L308.3 98.5 L302.9 102.9 L297.5 106.0 L293.5 111.2 L289.7 118.3 L288.2 121.3 L283.6 123.3 L277.6 127.1 L276.4 128.9 L279.8 129.5 L283.1 128.2 L278.5 131.6 L279.6 133.5 L278.4 134.4 L271.3 138.0 L267.6 138.8 L264.7 141.8 L263.4 144.0 L262.5 146.4Z"/></clipPath>
<path id="coast" fill="none" stroke="#1c0a04" stroke-opacity="0.95" stroke-width="1.15" stroke-linejoin="round" d="M48.0 96.6 L49.3 95.4 L51.7 93.8 L52.5 92.7 L55.0 88.7 L56.8 88.3 L57.3 87.2 L60.8 87.4 L63.4 87.5 L63.5 86.3 L65.1 84.2 L63.4 84.5 L62.5 85.4 L59.6 85.0 L58.3 83.8 L56.4 84.1 L56.0 82.5 L54.3 82.9 L53.1 83.4 L51.8 82.6 L51.2 80.5 L53.0 79.7 L54.6 78.8 L57.9 76.5 L58.1 73.8 L57.8 72.0 L54.5 72.9 L56.8 70.1 L55.4 68.3 L57.1 67.4 L59.4 68.3 L61.3 68.5 L63.2 68.9 L62.7 68.0 L63.6 67.6 L63.6 65.8 L63.5 64.3 L64.6 61.8 L62.7 61.9 L60.8 58.0 L61.1 56.7 L63.7 54.2 L61.0 54.8 L58.8 55.4 L57.0 56.2 L54.7 56.5 L53.4 53.0 L54.9 51.0 L56.1 49.2 L55.3 47.5 L55.6 44.8 L53.5 45.0 L50.4 50.0 L51.3 46.2 L51.9 43.1 L52.5 40.4 L49.0 37.2 L51.0 35.0 L51.7 32.6 L51.3 31.2 L52.0 28.7 L53.8 27.2 L53.5 24.2 L55.4 20.9 L56.5 21.5 L58.1 22.0 L59.9 21.5 L62.0 21.6 L62.7 21.0 L64.2 21.4 L63.9 23.1 L61.3 25.8 L59.7 28.1 L60.7 28.1 L59.5 29.6 L58.7 31.2 L60.3 30.4 L63.0 29.5 L68.8 29.9 L69.9 31.7 L68.5 34.8 L67.9 36.5 L66.7 38.7 L66.1 40.1 L64.6 40.9 L66.1 42.5 L62.2 44.8 L63.3 45.1 L65.4 44.4 L68.2 45.8 L68.9 47.1 L69.9 48.0 L71.8 54.1 L72.1 55.0 L73.0 56.8 L73.4 57.4 L75.9 58.7 L77.0 60.6 L78.6 62.0 L78.1 62.4 L79.7 66.8 L77.6 65.7 L78.8 66.9 L81.1 70.7 L80.4 73.6 L81.9 72.4 L86.1 72.5 L88.5 75.4 L88.7 76.5 L87.9 80.1 L86.8 81.3 L85.7 82.8 L84.7 84.5 L83.4 85.1 L81.8 85.6 L83.8 85.9 L85.2 86.6 L87.5 86.4 L87.2 88.5 L85.1 90.6 L82.9 91.2 L81.2 92.3 L79.0 91.5 L75.4 92.3 L73.8 91.7 L71.2 92.1 L69.5 92.3 L69.0 93.3 L68.4 93.4 L66.3 93.1 L66.2 94.0 L63.6 92.0 L61.0 92.8 L60.4 94.4 L59.6 96.2 L58.8 96.2 L56.8 94.9 L54.1 94.8 L51.7 96.3 L50.8 97.9 L49.3 96.5Z M42.8 48.5 L44.8 50.1 L43.9 51.2 L46.2 50.5 L48.6 50.6 L50.2 54.1 L49.8 55.8 L51.7 58.2 L51.2 59.1 L49.6 59.8 L48.2 61.2 L46.9 61.8 L47.3 63.9 L47.6 67.2 L48.1 70.7 L47.3 72.1 L46.9 74.3 L45.8 77.6 L42.7 77.7 L39.7 77.5 L37.7 78.8 L35.4 79.6 L33.8 81.2 L31.8 81.3 L29.2 81.6 L26.8 81.4 L28.2 79.9 L24.8 79.9 L26.8 78.3 L24.4 78.0 L24.6 76.7 L26.8 75.6 L24.2 75.1 L25.7 73.8 L27.6 74.1 L27.2 72.9 L29.7 71.7 L27.5 71.6 L29.0 70.7 L30.5 68.4 L31.5 66.9 L32.7 66.2 L29.9 65.9 L26.8 63.9 L28.7 62.4 L30.4 60.9 L27.4 58.9 L29.0 56.2 L30.0 56.1 L32.2 56.4 L32.9 57.5 L35.9 57.3 L38.2 54.9 L35.8 54.3 L35.3 53.9 L36.8 51.1 L38.2 50.0 L39.7 49.6 L41.5 49.3 L42.0 50.9Z M108.7 -28.6 L107.7 -24.0 L104.9 -20.0 L99.9 -14.0 L96.6 -9.1 L96.5 -0.2 L97.9 5.1 L99.3 9.5 L99.8 13.9 L101.8 17.7 L102.1 20.4 L104.2 22.2 L107.3 24.8 L109.6 25.6 L111.4 25.0 L113.7 23.7 L116.7 20.4 L118.3 17.7 L120.0 15.1 L121.2 14.4 L122.6 12.6 L122.1 9.0 L122.6 6.4 L123.2 10.4 L124.9 12.6 L126.0 12.9 L126.1 14.4 L128.6 19.9 L131.6 24.7 L133.0 26.6 L134.4 29.4 L138.1 32.8 L138.8 34.0 L137.1 36.2 L138.7 38.2 L141.0 41.8 L140.7 43.9 L142.3 43.7 L143.4 43.6 L145.4 42.4 L147.6 40.6 L146.6 37.5 L147.7 36.2 L148.5 34.8 L152.0 33.9 L153.4 34.3 L154.3 28.6 L153.2 23.1 L152.7 18.8 L152.1 14.7 L151.5 11.2 L152.0 9.9 L155.2 8.6 L155.1 7.2 L157.1 2.8 L157.0 -1.4 L155.2 -4.1 L153.0 -5.8 L147.5 -7.3 L145.1 -12.2 L144.4 -15.7 L143.3 -22.0 L146.2 -31.4 L151.4 -40.0 L148.2 -58.0 L120.7 -67.7Z M157.6 -62.0 L161.5 -49.0 L156.1 -33.1 L158.3 -25.3 L161.3 -19.7 L161.9 -16.1 L163.1 -11.8 L166.8 -11.3 L169.8 -9.6 L172.5 -8.0 L174.0 -10.4 L177.0 -12.0 L179.1 -14.1 L181.4 -16.7 L183.1 -19.0 L186.2 -21.1 L188.3 -22.7 L190.9 -25.6 L197.1 -22.9 L199.7 -22.6 L195.8 -20.1 L194.2 -17.7 L193.5 -14.3 L188.9 -11.9 L184.1 -10.9 L180.9 -8.1 L178.5 -6.0 L177.7 -1.7 L179.1 1.4 L183.8 1.2 L185.1 5.6 L187.5 10.6 L187.2 13.2 L185.1 14.4 L181.8 12.2 L178.2 9.8 L174.9 14.5 L174.4 19.5 L175.4 22.9 L177.5 27.7 L178.4 29.5 L179.0 33.1 L177.9 36.8 L175.6 37.6 L176.2 40.4 L175.0 43.1 L172.5 44.5 L171.1 44.5 L170.2 43.7 L171.1 42.6 L168.6 41.5 L168.1 41.4 L164.7 43.1 L161.8 45.6 L159.9 47.5 L156.7 51.0 L150.8 54.9 L149.3 54.1 L146.7 54.3 L147.2 51.8 L146.5 50.2 L145.1 49.3 L143.8 50.8 L144.1 53.0 L141.0 52.2 L139.5 55.1 L136.9 58.1 L134.0 58.3 L134.1 54.7 L129.8 55.0 L128.4 54.3 L125.5 52.1 L125.1 49.9 L124.6 45.9 L125.8 45.1 L124.8 44.1 L126.4 42.4 L127.0 39.6 L129.8 36.6 L126.8 35.5 L125.9 32.0 L126.2 27.9 L125.9 25.3 L123.2 27.1 L117.9 32.3 L116.6 36.3 L117.3 42.5 L117.7 46.4 L119.6 47.0 L120.6 50.2 L119.7 52.1 L123.8 55.3 L122.1 57.2 L123.6 58.5 L123.2 60.8 L122.9 63.9 L120.9 64.6 L119.4 63.0 L115.7 64.2 L115.8 66.6 L114.9 66.9 L114.1 65.9 L111.1 66.7 L107.3 69.1 L105.8 70.8 L104.1 71.3 L103.4 75.9 L102.1 79.2 L101.4 80.3 L99.5 83.0 L98.3 84.9 L97.1 86.4 L95.5 87.4 L92.6 89.2 L89.9 90.0 L88.4 90.9 L88.6 92.2 L88.5 96.9 L86.0 99.4 L82.0 100.9 L80.9 101.7 L80.5 103.5 L81.3 104.0 L80.4 104.5 L78.6 105.3 L76.5 104.7 L74.0 104.2 L73.3 104.4 L72.8 102.3 L72.8 101.4 L70.8 101.8 L69.0 101.1 L69.7 104.3 L70.8 109.2 L71.4 111.0 L69.4 110.5 L68.4 110.7 L66.6 110.4 L64.3 111.6 L62.4 109.3 L60.2 108.7 L57.1 109.5 L55.0 109.8 L52.3 112.4 L53.1 113.4 L54.8 114.9 L52.3 115.2 L54.4 117.5 L57.0 117.1 L60.2 118.6 L61.6 120.9 L63.5 120.3 L64.9 122.7 L67.0 123.0 L67.6 124.5 L66.7 125.4 L68.4 128.2 L69.3 130.0 L71.5 131.5 L72.9 133.2 L73.6 135.0 L73.9 138.0 L75.6 140.9 L73.6 138.4 L72.7 143.5 L72.3 146.9 L73.3 146.7 L72.2 148.9 L71.9 150.7 L70.8 155.6 L69.9 157.1 L68.5 158.1 L67.1 158.5 L62.2 157.1 L59.3 157.6 L55.4 156.5 L51.5 156.9 L49.3 156.5 L47.3 155.9 L43.4 154.8 L42.4 153.7 L41.7 154.3 L37.9 154.2 L34.6 153.8 L30.8 151.1 L29.6 151.1 L28.3 151.9 L26.5 153.3 L25.7 154.1 L23.1 154.2 L20.3 155.2 L19.5 157.7 L20.7 158.8 L21.1 161.4 L21.0 163.9 L20.7 166.7 L20.8 168.6 L21.0 173.6 L19.8 178.1 L18.3 182.3 L16.0 186.9 L13.6 188.7 L11.8 193.7 L12.2 194.5 L14.1 194.9 L13.2 197.4 L15.5 196.9 L14.8 201.8 L14.7 205.0 L12.5 210.0 L12.8 210.2 L14.9 209.6 L16.0 209.6 L17.9 210.3 L20.3 211.6 L22.4 210.6 L24.2 210.3 L27.4 210.8 L30.1 212.7 L31.2 214.8 L31.3 217.1 L32.8 220.5 L35.8 222.5 L37.8 221.6 L39.6 219.0 L41.7 218.5 L45.4 216.8 L49.5 217.0 L52.1 217.3 L55.8 217.3 L60.0 216.8 L62.0 217.9 L64.3 215.5 L67.0 211.9 L71.5 210.4 L73.7 210.0 L73.9 206.9 L75.6 203.6 L78.2 201.9 L80.9 200.1 L80.0 199.1 L78.2 197.7 L77.8 196.1 L77.1 193.6 L78.1 191.8 L79.7 188.9 L82.5 185.4 L83.0 184.4 L85.8 182.1 L84.6 181.4 L88.5 178.7 L92.2 177.4 L94.8 176.1 L96.7 174.6 L99.0 173.2 L101.2 171.5 L101.8 170.5 L101.2 169.0 L101.5 167.8 L102.4 167.2 L101.3 166.2 L100.7 165.5 L100.4 163.9 L100.4 162.0 L101.1 159.8 L103.2 158.5 L104.5 157.3 L105.9 156.0 L107.2 156.0 L109.3 156.5 L112.1 157.4 L112.7 156.5 L113.4 157.3 L115.5 157.4 L116.8 158.2 L117.2 158.4 L119.4 158.8 L120.8 159.3 L122.3 158.7 L124.2 156.8 L124.5 155.4 L126.2 154.0 L126.9 153.9 L127.7 152.4 L128.6 152.1 L129.1 151.5 L130.9 151.1 L132.4 150.2 L133.5 148.5 L134.9 146.0 L137.6 144.6 L139.6 145.3 L140.8 145.4 L143.9 146.7 L146.8 148.0 L147.7 150.8 L149.9 156.0 L151.6 155.8 L151.6 156.9 L153.5 157.5 L154.7 160.0 L155.5 159.6 L159.1 161.0 L159.9 161.8 L163.3 164.0 L166.6 166.3 L169.9 167.5 L171.2 166.8 L173.6 166.9 L176.4 167.9 L179.0 169.1 L180.3 170.6 L180.1 171.2 L181.8 170.2 L182.9 169.5 L185.1 172.0 L187.8 174.2 L190.2 173.2 L191.8 175.0 L194.6 178.6 L197.1 182.2 L194.9 185.4 L195.8 186.9 L194.9 188.8 L194.7 190.3 L195.3 191.5 L196.1 191.6 L198.1 191.0 L199.0 187.9 L200.7 185.3 L199.9 183.4 L200.1 182.0 L203.4 180.3 L203.8 178.9 L203.1 178.7 L202.5 175.9 L200.8 175.4 L197.3 174.3 L197.0 173.1 L197.4 169.9 L197.9 168.3 L200.2 166.5 L202.7 167.3 L205.6 166.9 L206.8 168.4 L210.0 169.7 L210.0 166.4 L208.0 164.9 L204.9 163.3 L199.7 162.2 L196.3 161.5 L191.8 161.0 L188.7 159.1 L189.8 156.4 L188.6 156.1 L187.7 156.5 L184.2 157.6 L181.6 157.5 L179.6 157.1 L176.9 155.5 L175.4 154.7 L173.2 152.7 L172.2 151.1 L170.5 148.3 L168.8 145.9 L166.4 145.4 L164.9 144.5 L163.9 144.1 L161.5 143.2 L160.2 142.3 L159.1 140.6 L158.4 138.1 L159.8 135.5 L157.7 133.5 L157.7 131.6 L159.4 130.6 L160.6 129.4 L162.0 128.3 L163.7 127.9 L164.4 126.8 L166.0 127.6 L166.0 128.6 L165.0 129.0 L164.9 129.9 L165.8 131.6 L166.3 132.8 L168.1 134.3 L168.8 135.1 L169.6 132.1 L170.0 129.6 L170.9 129.4 L172.8 130.4 L174.4 131.6 L176.5 135.3 L179.3 136.7 L178.5 138.6 L180.3 139.9 L183.6 140.9 L184.2 142.1 L186.4 142.0 L187.7 141.8 L189.5 141.9 L191.9 142.5 L195.2 143.8 L196.7 144.5 L197.5 145.1 L200.4 145.9 L201.5 146.2 L204.0 147.1 L206.5 147.4 L208.6 148.4 L209.8 149.7 L211.1 149.9 L212.8 149.8 L213.2 154.2 L214.4 157.3 L215.9 161.5 L214.7 162.2 L218.7 163.9 L221.1 165.2 L221.6 166.4 L224.0 167.7 L225.7 169.2 L229.1 171.1 L229.2 173.4 L232.8 173.7 L235.7 174.5 L238.3 173.5 L238.5 172.8 L242.5 171.4 L242.6 170.8 L244.2 170.7 L247.4 171.0 L248.1 173.2 L246.3 173.4 L245.2 173.1 L240.7 173.3 L238.5 173.7 L238.3 174.3 L236.0 175.9 L235.0 178.6 L237.3 180.6 L241.1 182.8 L242.2 185.6 L242.7 186.3 L244.3 186.6 L244.7 185.7 L244.9 183.5 L246.4 184.3 L248.1 185.6 L249.8 187.6 L249.2 184.3 L250.6 183.3 L253.7 185.0 L255.0 185.0 L253.0 183.4 L250.2 180.1 L248.5 178.3 L248.2 176.8 L248.8 177.0 L251.5 177.9 L252.0 177.1 L253.1 175.4 L252.2 174.8 L250.5 175.3 L248.5 173.5 L250.7 171.9 L251.7 170.8 L252.8 171.4 L254.3 172.0 L256.6 172.4 L256.7 171.7 L255.1 169.5 L255.1 168.2 L252.6 167.6 L250.7 167.2 L248.1 166.8 L245.7 166.4 L243.9 166.9 L242.2 166.4 L244.6 164.9 L244.2 164.3 L243.0 163.3 L243.1 161.6 L244.9 163.3 L246.4 161.7 L243.6 160.0 L241.6 158.9 L240.0 157.9 L238.5 157.2 L237.6 155.0 L237.0 153.5 L237.8 152.7 L238.7 151.1 L239.2 153.1 L242.3 153.4 L244.0 155.7 L244.6 154.2 L242.9 153.5 L244.9 152.4 L248.0 153.7 L247.4 152.4 L245.2 151.5 L246.6 150.6 L250.1 151.0 L248.1 149.9 L245.8 150.2 L244.9 149.4 L243.3 148.2 L244.1 147.2 L247.2 144.4 L249.4 144.2 L250.1 143.9 L251.6 141.7 L254.6 141.6 L257.1 140.7 L258.5 141.1 L258.8 141.3 L264.0 139.7 L261.5 143.9 L262.2 146.2 L262.5 146.4 L263.7 151.0 L265.5 150.2 L269.2 147.3 L268.5 150.5 L270.8 151.6 L271.7 152.6 L271.5 155.3 L275.1 156.0 L272.9 157.6 L269.0 156.7 L269.9 159.6 L273.7 158.9 L278.3 159.9 L277.4 162.6 L280.4 164.1 L283.2 163.6 L283.0 166.0 L289.1 162.6 L284.0 169.0 L289.6 164.3 L293.9 163.5 L296.4 163.0 L299.3 164.9 L302.0 164.2 L305.1 161.4 L307.3 161.1 L306.6 157.4 L306.1 154.7 L311.4 152.8 L316.5 152.0 L319.9 152.8 L324.5 152.5 L328.8 148.9 L331.0 145.2 L334.1 138.8 L342.3 134.1 L382.2 108.8 L362.2 13.3 L311.4 -65.8 L225.3 -113.5Z M-46.7 281.3 L-15.4 277.4 L-6.1 268.0 L-4.4 258.0 L1.7 251.7 L9.3 244.2 L16.7 242.1 L23.5 239.1 L25.3 237.1 L30.5 229.2 L31.8 226.9 L34.0 224.3 L37.9 223.6 L37.7 226.3 L38.9 227.8 L41.7 230.4 L47.4 230.4 L54.9 229.2 L55.0 230.6 L55.2 231.7 L60.5 232.6 L63.1 232.7 L67.0 231.0 L72.9 227.5 L75.7 226.2 L78.6 225.5 L88.1 220.1 L95.0 219.2 L101.5 217.3 L103.0 216.9 L107.9 215.7 L116.9 216.6 L122.2 215.5 L128.2 213.2 L127.4 212.6 L130.7 214.0 L132.7 212.0 L137.4 213.0 L142.6 212.3 L144.8 211.5 L148.1 208.4 L152.7 206.8 L155.6 207.7 L156.8 210.9 L158.4 211.3 L162.1 207.4 L162.8 209.3 L160.5 213.4 L159.6 214.1 L160.5 219.1 L162.1 219.3 L164.4 221.4 L165.4 223.7 L163.0 228.8 L158.1 233.6 L158.5 237.4 L160.8 238.9 L167.3 239.3 L170.0 241.5 L171.3 241.5 L176.0 242.8 L179.5 243.2 L185.2 241.0 L194.7 241.0 L202.1 241.6 L212.1 249.9 L240.2 249.6 L247.5 242.3 L244.3 230.8 L247.2 225.8 L249.8 223.2 L254.8 219.1 L259.1 217.6 L263.4 217.2 L268.3 218.7 L276.5 218.3 L286.8 216.9 L288.0 218.3 L294.0 215.0 L305.6 211.7 L321.6 208.5 L327.3 201.5 L334.4 194.3 L345.2 189.7 L355.3 185.4 L359.9 176.9 L357.7 163.0 L353.4 149.4 L345.0 138.8 L342.3 134.1 L440.4 128.7 L384.6 285.0 L57.8 372.4Z M136.8 37.9 L138.3 39.2 L139.0 41.3 L138.8 43.6 L139.2 45.4 L138.3 47.9 L136.8 48.2 L133.5 47.0 L132.8 45.8 L132.0 43.2 L130.9 42.5 L132.4 40.4 L134.5 40.0 L135.6 39.3Z M128.3 44.4 L130.6 44.8 L131.2 46.6 L131.2 48.8 L128.7 49.3 L126.9 47.8 L126.1 45.7Z M132.8 49.4 L135.9 49.8 L137.8 51.6 L138.8 50.1 L140.2 47.5 L138.0 47.9 L136.3 49.2Z M150.1 42.3 L152.4 43.3 L152.3 44.5 L150.4 44.4Z M162.9 13.6 L162.3 16.7 L162.9 19.8 L161.7 23.8 L161.0 22.3 L159.7 19.0 L160.6 15.8 L161.6 14.1Z M155.6 21.5 L156.0 25.8 L155.6 32.4 L155.0 29.8 L155.1 25.1Z M172.8 3.7 L176.5 2.0 L178.5 2.3 L177.6 4.7 L175.4 6.5 L175.2 9.0 L173.5 7.3 L172.7 5.2Z M173.7 -1.3 L175.7 -0.9 L175.6 1.1 L173.8 1.4 L172.1 0.6Z M102.2 188.6 L104.0 190.3 L102.3 194.0 L101.3 194.8 L99.1 193.3 L96.2 192.5 L98.7 190.1Z M108.6 187.0 L110.0 188.1 L109.9 189.3 L106.6 188.5 L106.8 187.4Z M90.5 196.7 L90.8 197.6 L89.4 199.2 L87.9 198.6 L88.7 197.2Z M142.5 156.7 L143.2 159.3 L144.7 164.5 L144.0 169.2 L143.2 171.4 L140.3 170.2 L138.6 167.3 L137.8 163.8 L138.7 160.9 L141.2 159.4 L142.3 159.7Z M143.4 172.5 L146.8 174.2 L148.4 178.0 L148.4 183.1 L148.6 186.7 L148.4 190.8 L145.4 190.9 L143.6 194.2 L141.7 194.2 L140.1 192.6 L139.8 190.3 L139.3 185.4 L138.9 181.8 L136.8 179.4 L136.8 176.2 L139.7 176.7 L142.2 174.0Z M194.3 188.8 L193.8 191.5 L191.9 196.6 L194.4 200.2 L193.8 203.8 L188.8 204.0 L184.4 202.3 L180.5 202.3 L176.2 200.5 L173.5 200.7 L171.6 198.8 L171.6 196.5 L173.2 194.8 L176.0 195.3 L177.6 193.7 L180.9 194.8 L184.3 194.2 L187.6 191.7 L191.6 190.2Z M260.7 190.2 L264.8 189.4 L266.8 190.0 L270.7 188.7 L275.2 186.6 L278.4 186.6 L282.0 183.8 L282.1 186.8 L278.0 188.8 L272.0 192.3 L269.4 191.8 L264.6 193.0 L261.8 193.7 L261.1 191.5Z M246.7 163.5 L248.3 164.3 L251.4 163.9 L253.8 163.8 L256.2 167.2 L258.9 168.5 L255.3 168.1 L251.6 167.3 L249.5 166.2 L245.2 165.6 L245.3 164.1Z M291.0 167.7 L291.5 170.5 L290.1 173.9 L289.0 172.7 L289.5 169.5Z M266.0 150.9 L268.4 151.5 L269.2 153.1 L265.6 154.4 L263.5 154.4 L263.4 153.2Z M266.7 158.3 L268.7 159.9 L268.5 162.0 L266.9 161.3 L265.9 159.2Z M274.0 162.8 L277.4 161.6 L276.7 162.9 L274.5 163.7Z M229.2 175.6 L231.5 176.4 L231.8 178.5 L229.1 178.7 L228.5 177.0Z M220.3 166.0 L221.1 166.3 L222.7 168.6 L223.3 169.2 L221.2 168.7 L219.1 167.1Z M232.0 180.1 L234.6 181.0 L233.9 181.8 L232.0 181.2Z M255.9 149.6 L257.6 149.3 L257.7 150.7 L256.0 151.5 L255.1 150.4Z M249.3 144.7 L250.5 145.2 L250.4 146.4 L249.0 146.3Z M256.0 144.6 L257.4 144.1 L257.3 144.9 L255.9 145.3Z M268.7 171.3 L270.2 172.6 L269.4 173.7 L268.1 172.8Z M266.8 172.7 L267.9 173.7 L266.7 174.3Z M260.1 167.4 L262.7 168.2 L262.9 169.1 L260.3 168.3Z M263.4 169.1 L265.6 169.3 L264.7 170.0Z M262.5 178.4 L263.9 178.7 L262.6 179.6Z M282.6 167.5 L281.3 169.2 L281.0 170.3 L282.4 168.8Z M286.3 176.2 L288.0 179.4 L287.5 180.1 L286.4 178.1Z M253.3 186.3 L254.9 187.8 L253.6 187.9Z M272.8 164.6 L270.9 166.8 L270.6 166.2Z M255.1 160.3 L256.7 161.1 L255.9 161.9Z M338.1 146.9 L336.2 153.7 L338.5 154.9 L333.2 162.1 L328.5 164.1 L325.8 161.5 L329.4 158.2 L331.1 154.9Z M57.1 58.5 L57.4 59.6 L55.0 61.7 L55.1 60.3Z M49.9 21.3 L50.1 24.2 L47.7 27.1 L46.1 27.8 L45.5 25.9 L46.1 23.3Z M45.1 28.3 L44.9 30.8 L44.5 33.4 L43.6 33.3 L43.7 28.8Z M49.2 28.6 L50.0 31.3 L50.7 34.5 L48.9 33.4 L47.0 31.4 L47.5 29.7Z M49.6 38.0 L51.6 39.9 L50.4 41.2 L48.3 40.9 L48.6 39.2Z M49.0 44.3 L49.3 46.9 L48.1 47.2 L47.2 45.7 L47.8 44.5Z M51.3 42.6 L49.9 45.6 L49.5 44.6 L50.3 42.9Z M53.5 46.6 L53.8 49.1 L52.6 49.0 L52.6 47.2Z M63.9 16.8 L65.6 18.2 L64.8 20.0 L62.8 19.4 L62.8 17.2Z M66.1 14.9 L66.9 16.0 L65.4 16.4Z M72.7 3.1 L72.6 6.0 L72.4 8.2 L71.6 10.7 L70.9 8.2 L70.3 5.9 L71.1 4.2Z M72.6 91.8 L73.8 92.7 L72.6 93.5 L71.1 92.7Z M67.4 105.1 L68.5 106.0 L67.1 106.0Z M65.2 102.9 L65.6 103.7 L64.8 103.6Z M60.8 121.7 L61.8 122.5 L60.9 122.4Z M71.6 134.1 L72.8 136.2 L71.9 135.7Z M189.2 211.5 L191.2 212.2 L190.4 212.9 L189.2 212.2Z M148.7 157.3 L149.7 157.5 L148.6 158.2 L147.6 157.9Z M164.6 236.1 L166.3 236.7 L165.2 237.8 L163.9 237.6Z M169.3 208.2 L170.2 208.8 L169.3 208.9Z M104.4 69.3 L104.0 71.0 L104.7 70.5Z M106.4 66.7 L108.5 67.2 L108.4 66.3Z M158.2 -8.0 L160.5 -7.9 L160.7 -6.1 L158.6 -5.8Z M166.6 227.0 L167.2 228.2 L165.3 229.1Z M228.7 172.2 L229.9 174.1 L228.8 174.5 L228.3 173.3Z M101.2 17.5 L100.3 17.7 L100.5 17.0Z M99.4 15.4 L98.3 14.8 L99.5 14.4Z M99.3 12.6 L99.2 11.7 L100.2 12.1Z M99.2 10.9 L97.7 10.7 L98.7 9.7Z M99.3 8.7 L98.3 8.9 L98.6 8.2Z M98.5 7.4 L97.4 6.8 L98.5 6.4Z M97.1 4.7 L97.0 3.8 L98.0 4.2Z M97.4 3.0 L95.9 2.7 L96.9 1.8Z M96.7 0.9 L95.7 1.1 L96.0 0.3Z M96.6 -1.4 L95.5 -2.0 L96.7 -2.4Z M95.7 -4.1 L95.6 -5.0 L96.6 -4.7Z M96.7 -6.8 L95.2 -7.1 L96.2 -8.0Z M102.3 16.1 L101.4 16.2 L101.7 15.5Z M102.3 14.2 L101.2 13.7 L102.4 13.2Z M100.9 11.1 L100.8 10.2 L101.8 10.6Z M101.4 8.0 L99.9 7.8 L100.9 6.8Z M100.1 5.1 L99.2 5.2 L99.4 4.5Z M98.9 3.8 L97.8 3.2 L98.9 2.7Z M97.8 0.2 L97.7 -0.7 L98.7 -0.4Z M98.7 -3.4 L97.2 -3.7 L98.2 -4.6Z M98.9 -11.0 L97.9 -10.8 L98.2 -11.5Z M100.7 -13.5 L99.6 -14.0 L100.7 -14.5Z M104.3 23.8 L104.2 22.9 L105.2 23.3Z M113.6 25.0 L112.0 24.8 L113.0 23.9Z M116.2 22.1 L115.2 22.2 L115.5 21.5Z M118.2 19.4 L117.1 18.8 L118.2 18.4Z M119.2 16.3 L119.1 15.4 L120.2 15.8Z M131.0 24.4 L129.4 24.1 L130.4 23.2Z M129.3 21.6 L128.4 21.8 L128.7 21.0Z M127.7 19.5 L126.6 19.0 L127.8 18.5Z M126.1 16.9 L126.0 16.0 L127.0 16.4Z M157.4 6.2 L155.9 6.0 L156.9 5.1Z M158.3 3.6 L157.4 3.8 L157.7 3.1Z M158.0 2.2 L156.9 1.6 L158.0 1.2Z M157.6 0.2 L157.5 -0.7 L158.5 -0.3Z M158.3 -1.7 L156.8 -1.9 L157.8 -2.8Z M154.5 20.9 L153.6 21.0 L153.9 20.3Z M153.4 16.9 L152.3 16.3 L153.5 15.8Z M152.2 13.2 L152.1 12.3 L153.1 12.7Z M151.4 35.2 L149.9 35.0 L150.9 34.0Z M152.2 34.6 L151.3 34.8 L151.5 34.0Z M153.5 11.2 L152.4 10.6 L153.6 10.2Z M153.6 9.0 L153.5 8.1 L154.6 8.5Z M156.8 1.7 L155.2 1.5 L156.3 0.5Z M155.8 -5.0 L154.9 -4.8 L155.2 -5.5Z M163.9 -7.6 L162.8 -8.1 L164.0 -8.6Z M165.9 -6.7 L165.8 -7.6 L166.9 -7.2Z M168.5 -8.3 L167.0 -8.6 L168.0 -9.5Z M170.2 -7.5 L169.3 -7.3 L169.6 -8.0Z M165.6 -9.2 L164.5 -9.7 L165.6 -10.2Z M168.4 -9.6 L168.3 -10.5 L169.3 -10.2Z M173.9 -8.6 L172.4 -8.8 L173.4 -9.8Z M176.5 -11.1 L175.6 -11.0 L175.9 -11.7Z M179.8 -13.3 L178.7 -13.9 L179.9 -14.3Z M182.3 -16.8 L182.2 -17.7 L183.2 -17.3Z M186.6 -19.5 L185.1 -19.7 L186.1 -20.6Z M163.0 -8.5 L162.1 -8.3 L162.4 -9.1Z M163.1 -6.3 L162.0 -6.9 L163.1 -7.3Z M164.9 -10.6 L164.8 -11.5 L165.8 -11.2Z M158.6 -6.0 L157.1 -6.3 L158.1 -7.2Z M129.1 29.2 L128.2 29.4 L128.4 28.7Z M132.5 34.1 L131.4 33.6 L132.6 33.1Z M129.0 42.4 L128.9 41.5 L129.9 41.9Z M128.1 50.9 L126.6 50.7 L127.6 49.7Z M132.2 50.3 L131.3 50.4 L131.5 49.7Z M130.1 51.3 L129.0 50.7 L130.2 50.2Z M139.0 48.4 L138.9 47.5 L139.9 47.9Z M138.4 50.3 L136.8 50.1 L137.8 49.1Z M135.0 53.8 L134.0 54.0 L134.3 53.3Z M145.8 51.9 L144.7 51.3 L145.9 50.8Z M144.9 50.5 L144.8 49.6 L145.8 50.0Z M139.8 42.4 L138.3 42.2 L139.3 41.2Z M135.8 46.8 L134.8 47.0 L135.1 46.3Z M131.1 49.9 L130.0 49.3 L131.2 48.9Z M130.6 40.7 L130.5 39.8 L131.5 40.2Z M46.9 39.4 L45.4 39.2 L46.4 38.2Z M48.0 38.3 L47.1 38.5 L47.4 37.8Z M49.2 35.3 L48.1 34.7 L49.3 34.3Z M49.2 36.2 L49.1 35.3 L50.2 35.7Z M49.5 43.7 L48.0 43.5 L49.0 42.5Z M51.3 46.7 L50.4 46.9 L50.7 46.1Z M54.3 46.0 L53.2 45.5 L54.4 45.0Z M43.5 34.2 L43.4 33.3 L44.4 33.7Z M49.7 24.1 L48.2 23.9 L49.2 22.9Z M51.2 30.6 L50.3 30.8 L50.6 30.1Z M53.5 26.8 L52.5 26.2 L53.6 25.8Z M51.0 42.6 L50.9 41.7 L51.9 42.1Z M52.5 41.8 L51.0 41.5 L52.0 40.6Z M51.3 33.3 L50.4 33.5 L50.7 32.8Z M51.8 30.2 L50.7 29.6 L51.9 29.2Z M53.6 25.9 L53.5 25.0 L54.6 25.4Z M55.6 23.3 L54.1 23.1 L55.1 22.2Z M47.1 27.1 L46.2 27.2 L46.5 26.5Z M44.8 32.1 L43.7 31.5 L44.8 31.1Z M50.3 37.2 L50.2 36.3 L51.3 36.7Z M53.5 39.6 L52.0 39.4 L53.0 38.5Z M52.7 44.1 L51.7 44.3 L52.0 43.6Z M52.3 48.5 L51.2 48.0 L52.4 47.5Z M54.4 46.5 L54.3 45.6 L55.3 46.0Z M65.5 16.0 L63.9 15.8 L64.9 14.8Z M64.8 17.8 L63.9 18.0 L64.2 17.3Z M63.8 19.5 L62.7 19.0 L63.8 18.5Z M71.7 7.3 L71.6 6.4 L72.6 6.8Z M72.6 5.5 L71.1 5.3 L72.1 4.4Z M72.3 9.6 L71.4 9.8 L71.7 9.1Z M70.6 14.2 L69.5 13.6 L70.7 13.2Z M172.2 132.1 L172.1 131.2 L173.1 131.5Z M172.2 133.7 L170.7 133.5 L171.7 132.5Z M174.5 133.9 L173.6 134.1 L173.9 133.4Z M176.5 136.3 L175.4 135.7 L176.6 135.2Z M177.3 140.5 L177.2 139.6 L178.2 139.9Z M178.7 139.6 L177.2 139.4 L178.2 138.4Z M180.1 141.4 L179.2 141.6 L179.5 140.9Z M189.8 143.5 L188.7 143.0 L189.8 142.5Z M189.9 144.9 L189.8 144.0 L190.8 144.3Z M187.5 146.8 L186.0 146.5 L187.0 145.6Z M192.5 145.8 L191.6 146.0 L191.9 145.3Z M196.7 146.8 L195.6 146.2 L196.8 145.7Z M195.1 145.6 L195.0 144.7 L196.0 145.1Z M193.0 148.0 L191.4 147.7 L192.4 146.8Z M187.6 143.3 L186.6 143.4 L186.9 142.7Z M173.0 135.8 L171.9 135.2 L173.1 134.7Z M175.4 138.2 L175.3 137.3 L176.3 137.7Z M179.8 141.0 L178.2 140.8 L179.2 139.8Z M183.1 142.0 L182.1 142.2 L182.4 141.5Z M188.5 145.1 L187.4 144.5 L188.5 144.0Z M191.9 144.3 L191.7 143.4 L192.8 143.7Z M194.6 145.4 L193.0 145.2 L194.0 144.2Z M172.0 136.1 L171.1 136.3 L171.4 135.6Z M259.2 172.2 L258.1 171.7 L259.3 171.2Z M260.1 173.7 L260.0 172.8 L261.0 173.1Z M262.5 175.5 L261.0 175.3 L262.0 174.3Z M264.4 176.0 L263.5 176.1 L263.8 175.4Z M264.1 171.9 L263.0 171.3 L264.2 170.9Z M266.6 170.2 L266.5 169.3 L267.5 169.7Z M270.1 176.2 L268.5 176.0 L269.5 175.1Z M271.9 178.2 L270.9 178.3 L271.2 177.6Z M273.4 173.5 L272.3 172.9 L273.4 172.4Z M277.1 174.1 L277.0 173.2 L278.0 173.6Z M280.7 168.3 L279.1 168.1 L280.1 167.1Z M279.0 167.2 L278.0 167.4 L278.3 166.7Z M276.0 167.3 L274.9 166.7 L276.1 166.3Z M284.8 171.4 L284.7 170.5 L285.7 170.9Z M288.4 168.3 L286.9 168.1 L287.9 167.1Z M286.7 180.9 L285.8 181.1 L286.0 180.4Z M247.6 162.1 L246.5 161.6 L247.7 161.1Z M248.9 161.8 L248.8 160.9 L249.8 161.2Z M250.8 160.5 L249.3 160.3 L250.3 159.4Z M256.9 154.1 L256.0 154.3 L256.2 153.6Z M259.9 146.7 L258.8 146.1 L260.0 145.7Z M261.9 148.7 L261.8 147.8 L262.9 148.2Z M264.7 160.6 L263.1 160.4 L264.1 159.4Z M253.1 173.4 L252.1 173.5 L252.4 172.8Z M252.2 172.3 L251.1 171.7 L252.3 171.2Z M253.5 177.3 L253.4 176.4 L254.4 176.7Z M252.5 178.9 L250.9 178.7 L251.9 177.7Z M230.9 176.0 L229.9 176.2 L230.2 175.5Z M224.7 171.0 L223.6 170.4 L224.8 169.9Z M257.4 189.9 L257.3 189.0 L258.3 189.3Z M268.0 195.9 L266.4 195.6 L267.4 194.7Z M274.7 177.3 L273.8 177.5 L274.1 176.7Z M267.5 178.6 L266.4 178.0 L267.5 177.5Z M266.2 174.3 L266.1 173.4 L267.1 173.8Z M267.9 175.0 L266.4 174.8 L267.4 173.8Z M274.9 165.2 L274.0 165.4 L274.2 164.7Z M272.1 166.4 L271.0 165.9 L272.1 165.4Z M282.6 171.0 L282.5 170.1 L283.6 170.5Z M282.5 169.8 L281.0 169.6 L282.0 168.7Z M268.5 159.4 L267.6 159.5 L267.9 158.8Z M267.8 153.5 L266.7 153.0 L267.8 152.5Z M275.6 163.3 L275.5 162.4 L276.5 162.8Z M290.6 170.7 L289.1 170.5 L290.1 169.5Z M287.5 178.5 L286.6 178.6 L286.9 177.9Z M256.2 161.5 L255.1 160.9 L256.3 160.5Z M261.4 168.6 L261.3 167.7 L262.3 168.1Z M265.4 169.7 L263.9 169.5 L264.9 168.5Z M177.3 170.7 L176.4 170.8 L176.6 170.1Z M179.8 172.1 L178.7 171.5 L179.8 171.0Z M188.5 188.8 L188.4 187.9 L189.4 188.3Z M176.1 190.1 L174.6 189.9 L175.6 188.9Z M170.8 197.8 L169.8 198.0 L170.1 197.3Z M176.8 219.5 L175.7 218.9 L176.8 218.4Z M188.1 211.5 L188.0 210.6 L189.0 211.0Z M154.1 161.1 L152.6 160.8 L153.6 159.9Z M145.8 155.9 L144.9 156.1 L145.2 155.3Z M137.5 175.8 L136.4 175.2 L137.6 174.7Z M144.7 172.9 L144.5 172.0 L145.6 172.4Z M141.0 193.7 L139.5 193.4 L140.5 192.5Z M139.6 192.4 L138.7 192.6 L139.0 191.8Z M190.3 185.6 L189.2 185.0 L190.3 184.6Z M187.6 188.4 L187.5 187.5 L188.5 187.9Z M51.3 111.7 L49.7 111.5 L50.7 110.6Z M72.2 132.9 L71.3 133.0 L71.5 132.3Z M66.3 128.4 L65.2 127.9 L66.4 127.4Z M44.3 98.0 L44.2 97.1 L45.3 97.5Z M29.9 67.5 L28.4 67.2 L29.4 66.3Z M29.1 59.4 L28.2 59.6 L28.5 58.8Z M48.8 50.4 L47.7 49.9 L48.8 49.4Z M54.0 87.8 L53.9 86.9 L54.9 87.3Z M68.2 101.5 L66.7 101.3 L67.7 100.4Z M105.6 68.6 L104.6 68.8 L104.9 68.0Z M107.1 67.7 L106.0 67.1 L107.1 66.7Z M108.4 67.0 L108.3 66.1 L109.4 66.5Z M111.7 66.5 L110.1 66.3 L111.1 65.3Z M113.9 64.8 L113.0 65.0 L113.3 64.2Z M116.2 64.0 L115.1 63.4 L116.2 63.0Z M117.0 63.3 L116.9 62.4 L117.9 62.8Z M120.0 62.8 L118.4 62.5 L119.4 61.6Z M119.3 58.9 L118.3 59.1 L118.6 58.3Z M121.1 54.3 L120.0 53.7 L121.1 53.3Z M119.6 52.6 L119.5 51.7 L120.5 52.0Z M121.2 50.4 L119.6 50.2 L120.6 49.2Z M120.0 47.7 L119.1 47.9 L119.3 47.2Z M100.9 83.0 L99.8 82.4 L100.9 82.0Z M99.8 84.3 L99.7 83.4 L100.8 83.8Z M102.4 83.8 L100.8 83.5 L101.9 82.6Z M178.3 1.8 L177.4 2.0 L177.6 1.2Z M176.7 -1.1 L175.6 -1.7 L176.8 -2.1Z M180.5 8.7 L180.4 7.8 L181.4 8.2Z M183.4 4.6 L181.8 4.4 L182.9 3.4Z M269.6 137.0 L268.7 137.2 L268.9 136.5Z M90.0 200.9 L89.0 200.3 L90.1 199.8Z M100.3 196.4 L100.2 195.5 L101.2 195.8Z M146.3 206.6 L144.7 206.4 L145.8 205.5Z M276.0 77.3 L275.1 77.4 L275.4 76.7Z M268.4 80.0 L267.3 79.4 L268.5 78.9Z M297.9 69.9 L297.8 69.0 L298.9 69.4Z M262.2 146.2 L262.9 144.5 L263.9 141.6 L265.9 138.6 L267.1 134.4 L269.8 133.0 L271.3 131.2 L276.0 129.3 L275.9 127.1 L272.8 127.5 L268.0 127.2 L266.3 125.6 L266.0 124.7 L265.0 124.0 L262.2 122.3 L260.5 122.3 L261.4 120.3 L262.2 119.4 L261.6 118.5 L260.2 115.4 L260.9 113.0 L262.8 112.4 L262.9 110.6 L261.5 108.4 L260.4 105.4 L259.9 103.8 L259.7 99.9 L262.7 96.7 L262.2 94.3 L261.0 92.4 L259.8 91.6 L261.1 88.8 L262.0 84.6 L261.9 80.7 L263.2 78.7 L265.6 77.3 L268.2 77.3 L270.2 78.1 L275.1 76.6 L277.7 76.0 L279.1 74.0 L278.5 77.1 L277.0 81.8 L276.6 83.6 L282.0 81.7 L283.5 81.9 L285.4 86.0 L288.0 86.5 L289.8 84.1 L290.2 82.0 L292.4 78.7 L293.7 75.7 L296.1 74.3 L298.5 71.4 L297.7 69.2 L297.7 68.1 L293.7 70.8 L292.8 73.3 L285.0 69.4 L284.7 69.5 L286.6 66.0 L291.7 58.0 L293.5 52.7 L299.5 47.0 L301.9 46.2 L299.2 52.9 L302.3 57.9 L302.3 66.4 L298.4 68.1 L299.0 70.0 L304.2 69.4 L307.9 68.9 L310.0 69.0 L317.7 68.0 L324.0 68.9 L332.8 67.1 L341.7 70.1 L345.7 75.0 L341.5 84.4 L336.6 87.3 L329.5 94.2 L319.5 98.4 L314.2 97.8 L308.3 98.5 L302.9 102.9 L297.5 106.0 L293.5 111.2 L289.7 118.3 L288.2 121.3 L283.6 123.3 L277.6 127.1 L276.4 128.9 L279.8 129.5 L283.1 128.2 L278.5 131.6 L279.6 133.5 L278.4 134.4 L271.3 138.0 L267.6 138.8 L264.7 141.8 L263.4 144.0 L262.5 146.4Z"/>
<path id="borders" fill="none" stroke="#1c0a04" stroke-opacity="0.8" stroke-width="0.8" stroke-linejoin="round" d="M20.7 167.0 L22.5 165.4 L25.5 165.2 L25.2 167.4 L27.0 168.4 L31.8 167.9 L36.1 168.2 L38.1 172.0 L32.8 176.2 L32.2 183.4 L30.4 188.4 L26.8 188.1 L29.7 193.5 L26.7 199.0 L28.5 201.5 L26.4 203.5 L24.0 206.9 L24.2 210.3 M68.5 158.1 L69.7 158.9 L70.6 161.0 L75.2 162.0 L79.4 164.3 L84.4 164.3 L84.8 163.1 L89.8 165.1 L89.8 166.7 L91.6 166.0 L93.5 166.4 L96.8 167.2 L100.2 165.8 L101.3 166.2 M93.7 88.9 L94.1 91.5 L97.2 92.1 L98.1 93.8 L100.5 95.2 L102.7 95.3 L103.2 98.0 L105.2 98.3 L107.0 96.4 L107.4 99.5 L111.0 101.9 L113.0 101.2 M113.0 101.2 L116.3 101.8 L116.7 98.4 L114.2 95.9 L112.3 98.1 L113.0 101.2 M116.3 101.8 L119.3 104.1 L122.4 103.3 L123.8 104.5 L127.5 104.7 L125.5 108.3 L124.7 113.0 L125.5 117.4 M97.9 86.0 L100.4 87.0 L102.7 85.9 L104.3 84.7 L106.7 84.9 L108.2 86.2 L111.6 86.8 L111.2 90.6 L113.0 90.4 M113.0 90.4 L115.1 92.9 L115.5 94.0 L114.2 95.9 M113.0 90.4 L112.3 87.8 L113.4 84.5 L111.5 80.8 L115.5 79.8 L116.8 76.4 L116.1 73.1 L114.6 73.1 L116.5 67.9 L115.3 66.9 M125.3 52.0 L121.4 51.9 M150.7 55.0 L153.0 60.1 L152.6 64.4 L156.1 68.1 L157.7 72.8 L160.7 76.2 L160.7 80.6 M160.7 80.6 L153.9 83.9 L149.1 87.8 L147.2 89.6 L150.1 93.5 L152.8 96.6 L157.6 99.2 L159.9 100.3 M159.9 100.3 L158.1 102.6 L156.2 106.0 L157.5 110.5 L152.7 112.7 L146.0 115.9 L142.5 115.2 L141.3 118.0 L138.3 115.9 M138.3 115.9 L134.3 115.7 L131.2 114.8 L129.1 117.1 L125.5 117.4 M125.5 117.4 L122.1 119.4 L120.1 123.5 L117.6 128.3 L117.1 131.5 L118.5 131.3 L122.0 128.7 L122.9 131.3 L123.9 132.8 M123.9 132.8 L128.9 131.9 L132.0 126.9 L136.2 131.9 L137.4 127.4 L138.1 125.5 L142.4 127.1 L144.1 124.0 L143.7 121.4 M143.7 121.4 L138.2 120.9 L137.6 118.6 L138.3 115.9 M123.9 132.8 L124.9 137.4 L122.3 140.4 L124.6 146.5 L129.7 148.1 L129.3 151.5 M143.7 121.4 L147.0 121.4 L149.7 118.8 L153.7 117.3 L155.7 120.8 L163.8 120.3 M163.8 120.3 L162.6 123.4 L164.4 125.3 L166.6 128.0 M163.8 120.3 L169.5 119.8 L171.3 117.0 L177.2 115.0 L177.4 113.3 M177.4 113.3 L179.4 111.5 L178.2 105.3 L180.5 102.3 L180.6 101.8 L177.9 97.0 M177.9 97.0 L174.3 96.2 L167.2 96.7 L165.2 100.5 L159.9 100.3 M160.7 80.6 L166.2 80.3 L169.8 82.5 L173.0 83.4 L177.3 80.2 L180.1 83.6 L186.0 85.9 M186.0 85.9 L183.3 91.5 L179.3 94.2 L177.9 97.0 M186.0 85.9 L189.9 85.5 L192.9 86.3 L195.8 83.3 L201.2 81.3 L207.3 81.7 M180.6 101.8 L185.0 102.8 L190.6 100.4 L193.8 97.0 L197.9 94.1 L199.9 90.0 L205.3 89.3 L207.5 88.4 M207.3 81.7 L207.5 88.4 M207.3 81.7 L206.6 77.7 L208.6 69.0 L209.5 64.2 L204.7 59.4 M204.7 59.4 L202.6 54.5 L198.6 51.3 L199.9 44.9 L195.4 39.5 M195.4 39.5 L190.7 37.6 M190.7 37.6 L176.6 43.1 L175.6 42.5 M190.7 37.6 L188.8 33.1 L185.0 33.0 L180.6 32.5 L179.3 33.2 M177.0 26.5 L180.2 22.0 L189.1 18.8 L196.8 17.2 L202.9 18.9 M195.4 39.5 L199.7 38.1 L203.9 33.7 L202.8 27.8 L204.8 22.8 L202.9 18.9 M202.9 18.9 L208.5 13.3 L207.6 11.7 M185.1 5.6 L188.3 2.4 L195.2 4.0 L198.8 2.5 M198.8 2.5 L203.7 6.7 L207.6 11.7 M198.8 2.5 L199.2 -1.1 L193.8 -8.8 L194.7 -13.9 M207.6 11.7 L221.6 9.6 L224.7 16.0 L233.1 20.4 L239.4 23.9 L241.4 34.3 M204.7 59.4 L207.6 57.2 L213.9 51.3 L223.7 50.4 L232.3 46.8 L238.5 42.2 L241.4 34.3 M241.4 34.3 L249.2 26.6 L260.0 31.2 L267.0 35.5 L277.2 31.4 L291.5 25.7 M207.5 88.4 L212.4 89.3 L213.2 90.5 M213.2 90.5 L209.6 101.1 L207.8 108.6 L204.1 111.6 M204.1 111.6 L200.0 112.9 L196.5 116.3 M196.5 116.3 L191.5 119.1 L185.8 118.0 L180.9 115.7 L179.5 116.4 M179.5 116.4 L177.4 113.3 M165.3 129.2 L170.3 128.2 L175.8 126.8 L177.4 122.8 L176.3 119.9 L179.7 117.0 L179.5 116.4 M175.8 126.8 L179.5 128.1 L183.9 127.0 L188.4 126.6 L196.5 124.5 L200.1 125.0 M179.5 128.1 L180.2 131.8 L184.1 136.3 L191.1 140.3 L196.2 142.1 L196.6 144.5 M197.1 144.6 L203.1 146.0 M196.5 116.3 L198.9 119.4 L201.6 121.3 L200.1 125.0 M200.1 125.0 L202.7 129.5 L206.2 131.6 L205.1 135.8 L205.6 136.1 M205.6 136.1 L202.9 139.9 L203.1 146.0 M205.6 136.1 L211.7 137.3 L212.3 139.9 M212.3 139.9 L211.6 143.1 L210.0 146.0 L211.1 149.7 M211.6 143.1 L217.5 143.3 L219.2 147.0 M212.3 139.9 L216.3 135.1 L222.8 136.9 L224.3 140.7 L222.7 142.3 M219.2 147.0 L220.1 151.4 L224.5 154.1 L225.0 154.4 M225.0 154.4 L225.0 158.7 L223.2 162.2 L221.8 167.1 M225.0 154.4 L230.1 151.9 L235.3 147.4 L236.2 145.1 M219.2 147.0 L222.7 142.3 L229.1 138.8 M229.1 138.8 L235.3 142.0 L236.2 145.1 M229.1 138.8 L228.2 133.8 L230.1 129.6 L224.9 127.4 L224.6 122.2 M224.6 122.2 L221.7 118.5 L219.4 120.9 L214.8 119.8 L213.7 116.9 L208.4 113.6 L204.1 111.6 M236.2 145.1 L242.3 140.5 L251.8 139.1 L255.2 133.0 L256.7 132.1 M256.7 132.1 L259.9 134.7 L258.5 141.1 M256.7 132.1 L259.2 127.0 L266.0 124.7 M224.6 122.2 L228.1 124.6 L237.6 121.4 L243.9 119.0 L251.1 111.0 L261.8 108.9 M213.2 90.5 L219.1 87.5 L225.5 87.0 L232.2 78.8 M232.2 78.8 L241.4 83.7 L248.0 88.3 L252.3 96.5 M232.2 78.8 L237.7 74.0 L247.6 74.8 L256.5 80.6 L258.8 83.4 L254.3 90.1 L252.3 96.5 M252.3 96.5 L256.4 96.0 L260.8 92.6 M126.0 12.9 L127.5 5.3 L128.7 -0.5 L126.9 -4.7 L125.0 -10.7 L122.8 -18.5 L121.4 -26.4 M43.2 51.5 L39.7 54.0 L38.2 56.2 L42.3 59.7 L47.3 60.5 M60.5 232.6 L63.3 236.3 L63.2 244.6 L66.0 256.5 L65.6 260.2 M144.0 211.6 L142.2 216.4 L142.8 227.8 L142.8 232.8 L137.2 238.6 L139.7 246.5 L145.2 252.1 M171.3 241.5 L171.6 247.6 L164.8 255.4 M288.0 218.3 L290.0 227.8 L295.8 237.9 M102.1 8.3 L103.6 6.3 L104.6 4.4 L106.1 3.3 M99.2 -1.3 L102.1 -1.6 L104.8 -2.4 L106.8 -3.1 M103.1 15.4 L104.2 14.4 L104.4 12.5 M97.9 -8.4 L101.1 -8.7 L103.5 -8.5 M101.6 -13.2 L104.5 -12.7 M98.9 3.2 L101.3 2.1 M117.2 37.1 L119.7 34.9 L121.3 32.8 L123.9 31.9 L125.9 32.0 M51.9 40.0 L53.6 37.9 L54.4 36.6 M53.0 45.4 L53.6 43.3 L54.6 42.0 M52.3 31.1 L53.2 32.5 M54.3 27.7 L55.1 28.7 M55.5 44.3 L56.0 42.6 M58.8 30.3 L57.3 32.9 L56.1 34.5 M178.6 29.4 L180.2 32.7 L180.9 35.3 L178.6 36.9 M176.4 40.3 L176.8 42.1 L175.1 44.1 M150.9 55.1 L151.4 56.3 L152.8 56.5 L152.7 55.1 M184.5 112.6 L187.0 110.1 L189.0 108.3 M118.2 130.9 L120.1 128.9 L122.5 128.2 M138.1 116.4 L135.5 115.5 L133.9 114.8 M147.0 133.5 L147.6 129.8 M133.8 133.0 L134.6 129.3 M138.0 131.4 L137.6 128.8 M121.0 125.2 L122.9 123.2 M145.4 4.5 L149.0 4.4 L151.7 3.1 L153.6 3.5 M144.5 7.6 L146.0 6.7 M256.8 54.2 L261.2 53.6 L263.6 53.1 M274.9 61.7 L278.4 60.4 L279.2 58.2 M275.9 62.1 L275.4 66.8 L274.3 69.6 M242.1 49.5 L240.3 46.4 M250.1 53.1 L252.4 54.8 M270.0 53.1 L273.9 52.6 M262.0 84.6 L260.3 83.5 M265.6 77.3 L268.2 76.2 L270.1 74.5 M279.3 73.9 L283.5 73.2 L284.5 71.4 L288.6 73.0 L291.5 73.7 M280.9 73.9 L285.5 72.9 M280.9 75.0 L282.2 71.4 M31.2 187.8 L34.6 188.6 M40.7 196.6 L42.9 196.3 M44.6 193.3 L46.8 193.1 M60.5 184.5 L61.0 183.2 M79.9 176.5 L81.6 176.9 M25.4 200.2 L26.7 199.0 M39.8 172.0 L40.9 171.2 M41.0 188.4 L43.1 188.2 M159.8 152.3 L160.8 152.0 M159.6 157.2 L160.4 157.0 M209.0 147.3 L211.4 147.9 M222.6 153.8 L222.4 152.5 M224.8 154.0 L225.4 154.7 M281.3 132.2 L283.2 131.2 M276.7 137.4 L278.0 136.7 M272.8 139.2 L273.7 138.7 M46.5 56.4 L47.1 55.1 M31.6 64.2 L31.7 63.4 M36.0 69.4 L36.2 69.9 M56.5 43.5 L56.3 42.1 M143.7 61.4 L144.0 60.4 M185.9 42.0 L186.5 40.8 M186.9 44.5 L188.0 44.5 M254.2 97.3 L254.7 95.5 M259.1 99.7 L259.9 98.2 M259.2 101.7 L259.0 100.8 M121.2 -3.5 L122.6 -1.1 L123.6 1.5 M119.3 5.9 L119.8 4.0 M119.1 6.9 L117.3 6.3 M137.1 -6.2 L138.4 -6.1 M134.1 5.6 L134.1 3.8 M135.3 8.6 L138.2 11.1 L137.8 14.9 L133.9 17.6 L132.0 15.3 L133.5 12.2 L134.4 10.2Z M142.5 11.9 L142.6 16.5 L141.6 21.3 L141.8 19.4 L141.3 14.9Z M193.0 -9.5 L195.0 -6.4 L196.6 -3.2 L200.0 -1.5 L197.4 -4.7 L195.0 -8.5Z M106.4 71.2 L108.6 74.2 L106.6 76.2 L105.8 73.5Z"/>
</defs>
<g transform="translate(12.5 94)" clip-path="url(#frame)"><g filter="url(#soft)"><rect x="-4" y="-4" width="305" height="252" fill="#fde68c"/><path fill="#fdd06c" fill-rule="evenodd" d="M-1.0 -2.0 32.9 -2.0 35.2 2.0 39.0 4.8 42.0 5.2 50.0 3.7 60.0 5.8 63.0 5.3 66.0 3.9 69.9 1.0 72.5 -2.0 299.0 -2.0 299.0 245.0 -2.0 245.0 -2.0 -2.0Z"/><path fill="#f7b04f" fill-rule="evenodd" d="M147.0 -1.7 299.0 -2.0 299.0 245.0 -2.0 245.0 -2.0 84.0 12.0 90.4 17.0 91.8 29.0 92.8 38.0 94.9 42.0 95.3 49.0 94.2 54.0 92.3 56.0 90.6 58.0 88.0 60.4 81.0 60.9 75.0 59.3 59.0 60.6 43.0 62.3 36.0 66.0 30.5 69.0 28.0 74.0 25.1 83.0 20.7 95.0 15.8 98.0 16.0 107.0 20.1 109.0 20.3 114.0 15.4 119.0 12.0 142.6 1.0Z"/><path fill="#ef8636" fill-rule="evenodd" d="M296.0 5.9 299.0 5.3 299.0 245.0 -2.0 245.0 -2.0 182.7 17.0 176.5 30.0 170.7 40.0 164.3 43.0 161.4 45.5 158.0 47.7 152.0 48.4 142.0 49.2 139.0 55.3 129.0 58.0 127.0 63.1 125.0 65.6 122.0 65.9 118.0 63.5 108.0 64.2 103.0 66.0 100.1 68.0 98.3 74.2 96.0 76.0 92.4 78.0 84.0 78.8 78.0 78.2 73.0 75.4 64.0 74.5 59.0 74.9 53.0 77.0 48.9 79.0 47.8 81.0 47.6 84.0 48.4 87.0 50.1 89.0 52.0 91.0 55.1 94.3 66.0 96.0 69.0 100.0 71.4 107.0 71.7 125.0 64.4 139.0 59.7 154.0 55.4 181.0 49.1 209.8 40.0 232.0 31.5 273.0 13.5 285.0 9.2Z"/><path fill="#f07c20" fill-rule="evenodd" d="M119.0 104.9 126.0 104.8 146.0 107.1 176.0 109.6 190.0 111.6 203.0 114.6 220.0 120.4 236.0 128.5 251.6 139.0 263.0 149.5 270.0 147.7 275.0 147.4 281.0 148.5 286.0 150.8 288.7 153.0 291.0 155.9 292.5 159.0 293.2 162.0 293.3 165.0 292.6 169.0 286.7 181.0 285.7 186.0 287.0 192.0 293.9 202.0 296.1 207.0 296.3 212.0 293.7 219.0 292.0 221.0 290.0 222.3 287.0 222.9 284.0 222.5 280.0 220.4 277.0 217.8 272.3 211.0 270.3 205.0 270.8 195.0 268.1 187.0 267.6 179.0 266.1 172.0 266.6 163.0 265.0 158.6 263.0 156.2 262.0 156.0 260.0 157.2 258.0 161.1 257.3 171.0 255.5 179.0 255.2 191.0 257.6 203.0 255.2 214.0 254.4 224.0 254.9 230.0 256.0 234.6 258.0 239.3 261.4 245.0 -2.0 245.0 -2.0 229.5 4.0 224.4 13.0 218.6 39.0 205.2 47.0 200.6 55.0 194.7 61.8 188.0 65.6 183.0 69.2 177.0 79.1 155.0 103.0 117.8 107.0 112.5 111.0 108.7 115.0 106.2Z"/><g clip-path="url(#landclip)"><rect x="-4" y="-4" width="305" height="252" fill="#fdd06c"/><path fill="#f7b04f" fill-rule="evenodd" d="M-1.0 -2.0 5.3 -2.0 5.4 4.0 7.0 5.3 11.0 7.1 13.1 6.0 13.8 5.0 13.9 4.0 10.5 1.0 9.7 -2.0 28.4 -2.0 29.0 -0.9 30.0 -0.4 31.7 -1.0 32.4 -2.0 212.8 -2.0 214.0 -0.1 216.0 0.8 216.7 0.0 216.4 -2.0 299.0 -2.0 299.0 245.0 -2.0 245.0 -2.0 -2.0ZM26.9 8.0 25.9 9.0 25.2 12.0 25.3 13.0 26.0 13.6 29.1 12.0 30.4 10.0 30.2 9.0 29.0 7.9ZM45.8 11.0 45.0 11.4 44.1 13.0 45.0 14.1 46.2 14.0 47.1 13.0 47.0 11.3ZM40.7 18.0 39.4 20.0 39.8 21.0 42.0 21.9 43.0 21.4 43.3 20.0 42.0 18.1ZM7.4 32.0 7.0 33.0 7.3 35.0 8.6 36.0 10.0 35.6 10.4 34.0 10.0 32.7 9.0 31.6ZM153.0 117.0 150.3 118.0 148.7 119.0 151.0 119.1 154.6 117.0Z"/><path fill="#ef8636" fill-rule="evenodd" d="M46.0 -2.0 46.0 -1.8 45.8 -2.0ZM92.0 -2.0 99.2 -2.0 100.0 -1.5 101.0 -2.0 107.3 -2.0 106.7 0.0 103.8 2.0 103.9 3.0 105.2 5.0 107.0 6.7 108.0 7.1 109.0 6.9 111.0 5.3 115.4 0.0 116.3 -2.0 193.1 -2.0 194.0 0.9 197.0 3.6 198.0 4.1 202.0 4.2 207.0 8.0 207.9 9.0 207.4 12.0 208.0 13.0 211.0 14.3 213.0 14.6 214.1 14.0 215.0 12.2 216.0 11.9 217.0 12.7 218.0 15.1 219.0 16.2 220.0 16.4 222.0 15.6 224.0 13.9 228.0 13.9 232.0 12.7 234.0 12.7 235.5 14.0 235.5 18.0 236.5 21.0 236.5 22.0 234.4 27.0 233.1 29.0 233.1 30.0 235.5 33.0 233.8 39.0 234.3 41.0 235.8 44.0 235.3 45.0 231.0 47.2 228.0 51.2 224.0 52.7 222.9 54.0 222.3 56.0 223.0 57.3 226.0 59.0 228.3 56.0 229.0 55.5 230.0 55.7 232.4 59.0 234.0 62.9 234.9 64.0 241.0 66.8 243.0 67.2 246.0 66.0 249.0 61.9 251.7 61.0 251.9 57.0 254.2 51.0 255.0 49.7 259.0 47.5 260.0 46.1 260.0 42.0 257.0 41.0 256.0 39.0 257.8 33.0 257.6 29.0 262.3 27.0 264.2 25.0 266.0 22.0 270.0 22.2 271.8 21.0 272.1 20.0 271.4 17.0 271.6 16.0 274.0 13.5 274.4 9.0 275.0 8.3 279.0 8.1 280.0 7.0 280.4 6.0 280.0 3.0 281.5 0.0 281.7 -2.0 298.0 -2.0 299.0 -0.8 299.0 245.0 -2.0 245.0 -2.0 133.4 0.0 133.8 2.3 133.0 3.9 131.0 4.4 128.0 4.3 127.0 1.8 124.0 1.2 122.0 1.4 120.0 2.5 117.0 -2.0 113.4 -2.0 94.0 2.0 95.0 5.0 93.5 12.0 92.4 15.3 90.0 17.2 88.0 17.3 87.0 14.0 82.8 11.0 81.9 9.8 81.0 9.4 80.0 9.7 79.0 11.0 78.4 15.0 79.2 16.2 79.0 17.2 78.0 17.7 76.0 17.2 73.0 18.0 72.2 21.0 71.6 25.0 69.2 25.8 65.0 29.0 58.1 32.0 56.0 32.4 55.0 30.9 53.0 31.6 50.0 35.0 45.8 38.0 43.6 39.2 42.0 39.3 40.0 37.4 38.0 37.3 37.0 38.0 35.9 40.0 35.7 40.4 39.0 41.0 39.6 44.0 40.6 46.0 42.1 52.0 40.9 58.0 42.2 59.9 41.0 60.4 40.0 60.2 38.0 58.6 33.0 56.7 30.0 57.6 26.0 56.3 22.0 56.7 20.0 58.6 16.0 58.9 14.0 58.5 11.0 59.3 9.0 60.6 8.0 62.0 7.8 64.0 8.9 64.3 10.0 64.0 11.0 60.1 14.0 59.5 19.0 60.8 21.0 63.0 22.0 65.0 22.1 68.0 20.8 73.0 19.8 73.9 19.0 75.2 16.0 80.2 14.0 80.1 11.0 81.0 9.3 83.0 8.6 90.0 7.8 91.0 7.3 92.1 5.0 91.2 -2.0ZM225.8 20.0 225.9 21.0 227.0 21.1 226.0 19.9ZM225.9 39.0 225.6 40.0 226.0 40.2 227.1 39.0ZM218.5 84.0 218.6 85.0 220.0 85.4 221.5 85.0 220.5 84.0ZM223.5 87.0 225.0 92.5 226.0 93.8 230.0 94.0 232.0 94.6 236.0 99.6 237.8 101.0 234.0 102.9 230.0 102.7 229.0 103.0 225.0 107.4 224.3 109.0 224.3 111.0 225.0 111.8 228.0 111.7 232.0 110.7 237.3 107.0 238.1 106.0 239.3 102.0 240.4 101.0 240.4 100.0 238.0 95.3 234.0 92.9 229.0 86.9 226.0 86.4ZM20.1 88.0 21.0 88.5 21.6 88.0 21.0 87.4ZM158.6 114.0 149.0 117.5 140.0 123.8 129.8 127.0 124.0 132.0 123.5 133.0 123.3 137.0 124.0 141.9 125.2 134.0 126.0 132.7 131.0 128.9 141.0 125.1 145.0 122.4 153.0 119.6 160.0 116.0 161.1 115.0 160.8 114.0 160.0 113.6ZM251.6 123.0 242.0 126.9 239.8 129.0 239.8 130.0 241.0 130.6 243.0 130.5 249.0 128.1 253.0 124.0 253.2 123.0ZM241.1 135.0 236.0 136.3 235.0 137.0 234.6 138.0 235.0 139.5 236.0 140.3 238.0 140.8 245.0 141.2 251.0 139.1 251.9 138.0 252.0 137.0 251.0 135.5 244.0 134.7ZM249.0 23.6 250.0 23.6 251.4 25.0 251.1 27.0 244.6 28.0 244.7 27.0ZM244.0 37.0 245.0 38.0 244.0 39.2 243.5 38.0ZM11.0 56.4 13.0 56.0 15.0 57.0 16.0 60.0 15.7 61.0 12.0 63.9 11.4 66.0 10.0 67.1 8.0 67.6 7.0 67.0 6.0 64.0 7.0 62.8 10.5 63.0 10.7 62.0 10.0 58.0ZM10.0 73.8 11.0 73.0 11.6 74.0 11.0 74.6 10.0 74.4Z"/><path fill="#f07c20" fill-rule="evenodd" d="M127.0 -1.5 130.5 1.0 134.0 4.5 137.0 5.4 140.0 4.6 143.0 4.9 144.0 4.3 144.4 3.0 143.6 1.0 143.9 0.0 147.0 -0.0 148.0 -0.6 148.7 -2.0 163.6 -2.0 164.0 1.0 165.0 4.0 166.0 5.6 167.0 6.1 168.0 6.1 171.0 4.0 172.0 3.8 173.0 4.2 175.0 6.6 176.0 6.3 179.0 2.9 181.0 1.9 183.0 1.6 183.9 2.0 184.2 3.0 184.0 7.0 188.0 14.6 189.7 14.0 191.0 12.4 192.0 12.3 192.9 13.0 193.5 16.0 195.6 20.0 195.9 22.0 195.7 23.0 195.0 23.6 192.1 25.0 191.5 26.0 192.0 26.7 195.0 28.3 196.0 28.4 199.0 25.7 201.0 25.4 203.0 25.9 204.0 27.0 204.1 30.0 202.1 34.0 203.3 38.0 203.0 41.3 204.2 44.0 203.7 47.0 204.6 48.0 209.0 50.3 211.0 49.2 212.0 48.0 213.6 48.0 214.5 49.0 213.0 55.3 211.0 56.3 207.0 56.4 206.0 57.2 206.0 59.4 207.0 60.4 210.3 62.0 212.0 64.2 215.0 66.0 217.0 68.0 218.0 73.1 219.0 74.0 222.9 75.0 222.6 76.0 221.6 77.0 218.7 79.0 213.1 81.0 211.0 80.3 208.0 77.8 207.0 77.8 203.8 80.0 197.7 82.0 194.2 85.0 194.0 86.0 196.0 87.1 200.0 87.2 204.8 88.0 207.8 90.0 211.5 96.0 212.0 99.0 215.0 104.7 219.6 108.0 220.2 109.0 220.2 110.0 218.5 113.0 218.8 115.0 219.7 116.0 222.0 116.6 226.0 116.4 230.0 117.5 234.0 118.8 237.0 121.0 240.3 122.0 240.8 123.0 240.7 124.0 239.5 126.0 237.3 128.0 234.0 128.3 228.0 128.0 226.1 129.0 225.8 130.0 226.0 131.0 227.0 131.8 230.0 132.2 234.0 131.9 236.3 133.0 231.4 138.0 231.3 140.0 233.4 142.0 238.0 144.2 245.0 145.7 247.0 145.3 248.5 143.0 252.0 140.7 253.7 139.0 254.4 137.0 253.6 134.0 252.0 132.0 250.0 131.5 249.7 131.0 252.0 129.8 254.2 126.0 257.0 123.8 257.5 122.0 257.0 120.9 255.0 119.6 248.0 121.9 246.0 122.0 244.5 121.0 244.0 117.8 242.4 115.0 241.9 108.0 242.3 106.0 244.2 104.0 246.0 100.5 248.0 98.1 252.5 98.0 254.0 96.9 255.1 95.0 255.1 94.0 254.0 92.4 251.0 91.3 246.0 93.9 244.4 94.0 245.7 91.0 245.5 83.0 245.0 81.7 244.0 80.8 243.0 80.6 241.0 81.3 240.1 80.0 241.5 74.0 242.0 73.3 243.0 73.5 248.0 76.0 256.0 75.4 257.7 74.0 257.8 73.0 257.0 70.0 257.9 69.0 262.0 69.5 263.2 69.0 265.4 63.0 264.4 59.0 265.0 56.2 267.6 53.0 268.9 49.0 273.0 47.5 274.3 46.0 274.1 45.0 270.9 43.0 269.2 39.0 266.0 36.0 266.2 34.0 269.3 31.0 271.0 28.3 272.0 28.0 274.7 31.0 275.6 33.0 276.0 35.8 277.0 35.1 277.2 33.0 278.4 30.0 279.5 25.0 280.0 24.5 283.0 24.0 284.6 23.0 287.5 20.0 288.8 17.0 290.0 16.8 291.0 17.9 290.4 22.0 292.0 23.8 292.9 24.0 295.0 22.9 297.0 20.0 299.0 19.0 299.0 78.2 297.0 77.9 294.0 74.9 293.5 73.0 293.7 69.0 293.0 66.8 292.0 66.0 288.0 65.3 287.1 67.0 286.9 74.0 286.0 76.4 285.0 77.1 284.0 76.9 281.0 75.0 279.0 75.0 276.2 77.0 273.8 78.0 273.0 79.3 272.2 83.0 272.7 84.0 277.0 85.2 278.0 85.0 280.0 83.3 283.0 84.5 287.0 84.0 290.4 82.0 292.0 79.6 293.0 79.0 296.0 79.5 299.0 80.8 299.0 245.0 -2.0 245.0 -2.0 161.8 1.0 159.5 4.5 158.0 6.7 156.0 10.0 154.6 11.9 152.0 15.0 151.8 16.0 151.2 16.3 150.0 15.7 147.0 18.6 142.0 21.0 139.7 23.3 140.0 23.4 138.0 25.7 133.0 25.2 132.0 23.0 131.2 21.2 129.0 20.7 127.0 21.0 124.0 25.0 124.2 28.0 125.9 32.0 125.7 33.3 125.0 33.9 124.0 33.8 123.0 32.3 120.0 33.0 118.3 34.0 117.9 36.0 119.9 37.0 120.1 38.0 119.4 39.5 117.0 39.7 116.0 39.0 115.0 37.0 114.1 35.0 114.0 33.0 115.6 31.0 114.5 30.7 113.0 32.4 110.0 32.0 108.8 31.1 108.0 31.7 107.0 34.0 106.1 36.0 104.2 40.0 105.1 41.6 104.0 42.1 100.0 43.6 97.0 43.4 95.0 42.0 92.5 40.0 92.2 39.0 91.1 37.5 88.0 38.0 86.6 40.5 84.0 41.5 81.0 43.3 78.0 42.0 77.1 37.9 79.0 36.7 80.0 35.3 83.0 34.0 83.4 33.0 82.5 32.1 80.0 34.0 77.0 33.3 74.0 33.5 72.0 34.0 71.5 35.0 71.7 37.0 73.5 39.0 74.4 41.0 74.2 42.3 72.0 43.6 67.0 46.1 64.0 47.0 61.8 49.8 59.0 52.7 54.0 56.0 53.0 59.0 50.4 62.5 49.0 63.2 48.0 65.0 42.5 67.8 39.0 69.7 35.0 72.0 33.4 74.0 33.5 75.5 33.0 76.8 29.0 78.0 27.4 80.0 26.7 84.0 27.4 89.0 25.6 92.0 23.4 93.0 23.1 97.0 23.3 100.0 21.3 103.5 20.0 104.4 19.0 105.2 16.0 108.0 14.7 111.0 12.3 115.1 11.0 115.7 10.0 115.9 6.0 117.0 4.3 121.0 0.9 124.7 0.0ZM133.1 11.0 134.0 12.5 135.0 13.2 135.6 13.0 135.7 12.0 135.0 11.0 134.0 10.7ZM198.9 33.0 198.5 34.0 199.0 34.3 200.6 34.0ZM184.5 35.0 183.9 36.0 183.9 40.0 185.0 40.9 188.7 38.0 189.2 36.0 188.5 35.0 187.0 34.4ZM127.3 36.0 126.9 37.0 128.0 37.3 129.0 36.0 128.0 35.5ZM190.9 40.0 191.3 41.0 193.1 41.0 193.0 39.9 192.0 39.6ZM206.7 53.0 205.8 54.0 206.0 55.9 207.0 55.7 207.9 54.0 207.6 53.0ZM49.8 62.0 48.6 63.0 49.0 64.0 50.1 64.0 50.4 63.0ZM275.4 91.0 276.0 91.2 276.0 90.5ZM165.1 110.0 162.4 112.0 159.0 112.4 150.0 115.2 139.0 122.9 130.0 125.7 125.0 129.3 122.5 132.0 122.0 136.0 122.4 141.0 124.8 148.0 126.0 148.3 126.5 147.0 125.6 141.0 126.4 135.0 127.0 133.6 132.0 130.6 141.0 126.7 145.0 124.0 147.0 123.4 151.0 123.8 153.0 122.9 157.9 119.0 162.0 116.7 164.0 114.3 167.0 114.3 168.0 114.0 170.6 111.0 170.4 110.0 169.0 109.3 167.0 109.3ZM284.3 114.0 282.0 114.6 279.0 114.7 278.2 116.0 281.0 117.2 282.9 119.0 285.0 118.8 286.6 117.0 286.6 115.0 286.0 113.9ZM183.1 135.0 184.9 137.0 187.0 138.2 195.0 140.6 197.2 140.0 196.2 138.0 193.1 136.0 186.0 134.7ZM291.9 135.0 293.0 136.3 294.0 136.0 293.0 134.9ZM203.8 142.0 206.0 144.2 211.0 146.7 213.0 150.3 218.0 153.2 224.0 157.9 226.5 162.0 228.4 164.0 230.0 164.9 231.8 165.0 231.8 164.0 230.0 159.9 228.0 157.0 225.0 153.9 223.5 151.0 224.0 148.4 226.3 148.0 227.4 147.0 228.2 144.0 227.8 142.0 226.0 141.8 225.0 142.6 223.0 146.4 222.0 147.1 218.0 146.0 214.0 142.0 208.0 141.1 205.0 141.4ZM22.9 157.0 22.1 158.0 23.0 159.0 24.8 158.0 25.2 157.0 24.0 156.7ZM36.5 158.0 36.0 159.0 36.7 160.0 40.0 160.5 45.5 160.0 49.0 159.0 41.0 157.9ZM88.1 165.0 88.9 166.0 90.6 167.0 94.0 168.1 95.6 168.0 96.5 167.0 96.6 166.0 96.1 165.0 95.0 164.6 91.0 164.5ZM141.9 166.0 142.0 166.2 142.1 166.0 142.0 165.8ZM190.5 194.0 190.0 195.0 191.0 195.3 191.1 194.0ZM50.3 243.0 50.0 244.0 52.5 243.0 52.0 242.6ZM224.0 74.0 226.0 73.4 227.0 73.8 227.8 75.0 227.5 76.0 226.0 76.7 224.0 76.0 223.0 75.0ZM233.0 84.9 234.0 84.9 235.1 86.0 235.4 87.0 235.0 88.1 234.0 88.1 232.8 87.0 232.5 86.0ZM215.0 88.5 217.0 88.6 218.0 89.0 218.6 90.0 218.2 92.0 217.0 93.6 216.0 93.5 213.9 90.0 214.2 89.0ZM239.0 90.0 240.3 90.0 241.0 91.0 240.0 91.5 239.0 91.0ZM-1.1 99.0 -1.0 100.0 -2.0 100.7 -2.0 98.2Z"/><path fill="#eb5a38" fill-rule="evenodd" d="M147.0 11.0 151.0 10.5 153.0 10.9 153.9 12.0 154.0 14.0 150.0 16.3 148.0 15.8 145.3 14.0 144.8 13.0 145.0 11.7ZM155.0 23.7 158.0 24.3 160.7 26.0 161.0 29.0 160.0 30.6 159.0 30.9 156.7 28.0 154.0 27.5 153.4 25.0 154.0 24.0ZM148.0 26.5 149.0 26.4 153.5 28.0 157.9 32.0 158.3 37.0 163.0 44.0 162.3 48.0 163.4 51.0 163.7 54.0 164.2 55.0 166.9 57.0 170.0 60.5 175.0 61.2 178.0 64.4 179.0 65.0 182.0 65.1 186.0 68.2 186.8 70.0 187.9 77.0 187.1 81.0 186.0 84.0 186.6 88.0 187.1 89.0 192.0 93.3 195.0 97.7 197.0 98.7 200.0 97.9 201.1 99.0 201.1 101.0 201.8 102.0 205.0 103.7 210.0 107.7 211.2 112.0 214.6 117.0 215.3 119.0 214.7 121.0 212.6 122.0 212.0 122.6 212.0 123.3 213.0 124.1 216.0 122.8 220.0 122.2 223.7 125.0 224.2 126.0 224.1 127.0 223.0 128.7 216.0 135.9 214.0 136.3 211.0 135.1 207.7 137.0 206.0 137.4 200.0 135.8 196.0 133.6 180.0 131.2 178.0 130.2 175.0 127.3 170.9 123.0 169.9 121.0 170.1 119.0 174.3 111.0 174.0 108.6 173.0 107.6 171.0 106.8 165.0 106.8 162.0 107.6 158.0 109.7 153.0 110.7 140.1 118.0 137.0 121.1 128.0 124.3 123.8 127.0 120.3 131.0 119.1 138.0 119.6 140.0 122.0 143.7 124.0 148.8 125.0 149.8 127.0 150.3 128.2 150.0 129.0 149.0 128.1 145.0 127.9 141.0 129.6 136.0 130.7 135.0 137.0 131.2 142.0 130.0 145.0 128.6 152.0 128.9 155.0 127.6 159.3 127.0 160.7 126.0 161.0 122.9 162.0 122.1 163.0 122.1 164.0 123.4 164.4 127.0 165.2 129.0 167.0 131.7 168.0 132.2 170.0 132.1 174.0 132.8 177.1 134.0 180.5 140.0 180.0 144.0 180.7 147.0 180.6 149.0 180.8 150.0 182.0 151.2 185.0 152.3 189.0 150.6 191.0 150.6 192.9 152.0 194.0 154.4 195.0 154.9 196.0 154.1 197.0 154.3 201.0 157.9 211.0 161.7 214.0 161.2 216.0 158.7 218.0 158.1 219.7 159.0 220.5 160.0 220.2 164.0 221.0 165.3 222.0 165.7 226.0 165.4 232.0 168.6 235.6 170.0 238.0 171.7 240.0 172.2 240.6 171.0 240.4 168.0 238.0 164.0 239.1 163.0 241.3 159.0 243.0 158.4 250.0 159.9 252.0 162.9 253.0 162.6 254.3 161.0 253.2 158.0 257.1 153.0 257.5 150.0 259.2 147.0 259.3 146.0 259.0 145.0 258.0 144.2 254.8 144.0 258.0 140.0 259.0 139.7 267.0 141.2 271.1 139.0 273.0 135.6 274.0 135.7 274.7 137.0 276.0 137.6 279.0 135.3 280.0 135.2 282.0 136.8 283.7 140.0 286.0 141.6 290.0 140.0 291.0 140.3 294.6 143.0 299.0 143.0 299.0 152.4 297.6 154.0 297.2 156.0 297.9 158.0 299.0 158.9 299.0 245.0 55.0 245.0 56.0 243.0 56.0 241.0 55.0 239.6 53.0 238.9 49.0 240.1 45.0 242.7 39.0 245.0 16.5 245.0 16.1 244.0 15.0 243.6 13.2 244.0 13.2 245.0 11.8 245.0 12.7 244.0 12.8 243.0 11.4 237.0 11.1 233.0 8.7 230.0 8.1 228.0 8.2 226.0 9.4 223.0 9.0 221.1 7.0 220.5 1.0 220.8 -2.0 220.3 -2.0 215.5 1.4 215.0 1.5 214.0 0.0 211.6 -2.0 211.0 -2.0 205.7 0.0 205.6 0.7 205.0 0.5 204.0 -1.4 202.0 -1.6 201.0 0.0 199.8 1.0 199.9 4.0 203.0 5.0 203.5 10.0 202.8 10.4 200.0 11.9 197.0 11.0 194.0 11.4 193.0 15.7 189.0 15.1 183.0 15.4 182.0 19.2 181.0 19.2 180.0 16.1 176.0 16.9 175.0 20.0 174.4 22.0 173.3 25.0 167.3 27.0 165.2 29.0 164.5 32.0 165.0 36.0 163.0 49.0 161.9 50.0 161.4 51.0 160.0 51.0 157.6 50.0 156.2 49.0 155.8 43.0 156.2 37.0 154.8 33.0 154.9 32.0 154.0 31.7 153.0 32.3 150.0 32.1 148.0 32.8 147.0 34.0 146.8 39.0 147.6 41.0 145.7 42.0 145.3 44.0 145.7 46.8 140.0 47.8 136.0 52.0 132.8 53.7 130.0 57.2 127.0 59.0 124.2 61.0 124.0 62.0 123.1 64.6 118.0 64.1 116.0 62.0 113.7 61.3 112.0 61.7 109.0 61.3 106.0 62.0 104.5 64.2 103.0 64.7 101.0 63.0 99.0 60.4 98.0 59.7 94.0 56.0 89.9 54.0 89.0 53.2 88.0 53.2 87.0 54.0 85.8 60.0 82.7 61.0 81.3 60.3 76.0 62.1 72.0 60.5 69.0 60.4 68.0 61.0 67.0 64.0 66.3 65.9 64.0 66.2 62.0 65.6 60.0 65.8 59.0 69.0 57.4 74.6 52.0 75.3 50.0 73.5 48.0 75.0 45.6 77.0 44.7 84.0 44.1 87.0 42.8 90.0 43.5 91.0 43.2 92.7 40.0 92.6 39.0 90.8 37.0 91.0 35.6 92.0 35.1 95.0 36.2 99.0 35.2 102.0 36.4 103.3 38.0 104.0 39.8 105.0 40.3 107.0 40.1 111.0 38.2 115.0 39.6 116.0 40.4 116.7 42.0 116.6 43.0 115.3 45.0 114.9 47.0 116.2 50.0 116.0 52.0 119.6 56.0 120.0 57.0 119.8 61.0 121.0 62.9 123.0 64.4 127.0 61.4 127.8 59.0 131.2 55.0 131.9 53.0 130.7 49.0 131.0 48.0 132.0 47.5 135.0 49.7 140.0 48.4 144.0 50.8 147.0 50.1 150.0 51.0 152.0 50.4 155.1 51.0 155.5 50.0 153.0 45.6 152.0 45.3 148.0 46.3 146.0 44.5 145.0 42.0 144.9 41.0 146.6 38.0 146.6 37.0 145.0 34.5 142.6 33.0 142.4 32.0 143.0 31.4 145.0 31.2 146.4 28.0ZM118.8 70.0 119.2 71.0 120.0 71.5 121.0 71.5 121.6 71.0 121.0 69.5 120.0 69.0ZM167.6 81.0 167.4 82.0 169.0 83.5 174.0 85.8 176.0 86.1 177.3 85.0 176.9 83.0 176.3 82.0 175.0 81.3 170.0 80.5ZM98.0 140.0 98.0 142.7 99.0 143.2 99.4 141.0 99.0 139.4ZM163.8 151.0 164.0 152.0 165.0 152.9 167.4 154.0 167.3 153.0 166.6 152.0 165.0 151.0ZM72.8 160.0 72.1 161.0 72.2 162.0 73.0 162.7 77.0 163.6 82.0 166.1 87.0 167.1 95.0 170.1 97.0 169.4 98.2 168.0 98.4 166.0 98.1 165.0 96.0 163.1 82.0 162.4 78.0 161.5 74.0 159.9ZM139.7 163.0 139.3 164.0 139.7 168.0 141.0 169.4 143.0 169.4 144.6 167.0 143.9 164.0 143.4 163.0 142.0 162.2ZM250.4 166.0 249.8 167.0 250.0 167.5 251.4 168.0 252.0 167.5 252.0 166.6 251.0 165.6ZM257.8 174.0 257.8 175.0 258.0 175.4 258.6 175.0 258.2 174.0ZM246.9 183.0 247.0 183.1 248.2 183.0 247.0 182.4ZM268.9 187.0 266.0 187.9 264.2 190.0 263.5 192.0 264.0 193.1 265.0 193.5 269.0 193.5 274.0 192.7 275.5 192.0 276.0 191.0 276.2 189.0 275.0 187.0 273.0 186.5ZM189.6 192.0 188.2 193.0 187.9 194.0 188.5 196.0 190.0 197.3 192.0 197.1 193.2 196.0 193.6 194.0 192.0 192.1ZM211.3 201.0 211.5 202.0 213.0 202.6 216.1 202.0 216.2 201.0 215.0 200.7 212.0 200.5ZM265.2 213.0 264.7 215.0 264.8 217.0 266.3 219.0 267.1 222.0 268.0 223.3 269.0 223.5 272.0 221.8 277.0 224.7 279.0 224.9 283.0 223.0 285.0 222.8 286.2 222.0 286.5 221.0 285.7 217.0 283.0 214.3 281.9 214.0 281.0 214.9 280.0 217.7 279.0 217.8 266.0 212.7ZM52.5 214.0 53.0 215.4 56.0 215.6 57.7 215.0 57.8 214.0 57.0 213.1 56.0 213.1ZM109.2 219.0 108.7 220.0 108.8 221.0 111.0 222.7 115.0 223.5 117.6 223.0 117.0 221.0 115.0 219.5 110.0 218.6ZM286.2 227.0 287.0 227.5 287.0 226.9ZM112.0 33.5 112.2 34.0 112.0 35.4 111.5 35.0 111.4 34.0ZM165.0 43.0 167.2 43.0 168.2 44.0 168.0 45.0 166.0 45.4 163.1 44.0 164.0 43.9ZM299.0 88.9 299.0 96.7 296.8 97.0 295.0 98.4 294.5 98.0 296.0 91.2 297.0 89.9ZM265.0 106.6 267.0 108.0 270.0 108.4 271.0 109.5 271.3 112.0 271.0 113.7 270.0 115.9 269.0 116.7 267.0 116.4 265.9 115.0 265.5 111.0 263.9 109.0 263.7 108.0 264.0 107.0ZM54.0 108.8 55.0 108.6 56.1 109.0 56.9 110.0 57.0 111.0 56.0 112.4 54.0 113.2 53.0 112.8 52.7 112.0 53.1 110.0ZM299.0 113.0 299.0 113.0 299.0 125.3 295.1 121.0 294.7 120.0 295.0 118.0 296.0 116.1ZM261.0 114.9 261.5 116.0 260.0 117.4 259.6 116.0 260.0 115.0ZM-1.0 227.9 -0.4 229.0 -1.0 230.0 -2.0 230.4 -2.0 227.4ZM-1.0 239.0 0.7 240.0 0.6 241.0 -2.0 242.1 -2.0 239.0Z"/><path fill="#e8433a" fill-rule="evenodd" d="M84.0 54.9 85.5 55.0 86.8 56.0 86.7 57.0 84.8 60.0 84.5 61.0 85.0 62.2 87.0 62.1 92.0 59.2 93.9 60.0 94.3 61.0 97.0 63.1 99.0 67.0 100.0 68.1 102.0 68.2 106.0 66.2 108.0 66.1 109.9 71.0 108.7 74.0 108.9 76.0 112.0 78.8 116.0 80.1 118.0 79.4 121.0 77.1 127.0 77.1 129.0 76.4 130.9 75.0 132.3 73.0 133.0 70.2 135.3 68.0 134.5 65.0 134.9 63.0 136.3 61.0 138.0 60.0 143.0 60.4 146.0 62.7 149.0 63.5 151.4 65.0 153.9 70.0 153.9 72.0 158.0 77.9 160.3 75.0 161.4 72.0 162.0 71.5 166.0 72.1 171.0 70.7 172.0 71.4 172.2 73.0 171.0 76.0 169.3 77.0 164.0 78.5 161.5 81.0 161.2 84.0 160.1 86.0 159.8 88.0 160.8 89.0 164.0 90.0 165.0 91.0 165.2 92.0 164.0 93.1 158.0 93.3 156.7 95.0 157.2 96.0 161.7 99.0 161.3 100.0 159.0 101.7 155.6 102.0 153.0 105.5 150.0 107.5 147.0 110.6 144.0 112.3 142.0 112.7 139.0 112.5 137.0 113.6 135.0 115.7 131.0 114.0 129.0 114.0 128.0 114.6 127.1 116.0 126.2 120.0 121.5 123.0 117.7 128.0 116.9 130.0 116.3 134.0 114.3 138.0 114.5 140.0 118.9 144.0 120.0 147.2 123.0 152.9 127.0 154.8 128.2 156.0 128.9 158.0 128.4 159.0 127.0 159.2 123.0 155.4 120.0 154.3 118.0 155.2 115.0 159.3 113.0 159.7 112.0 159.5 110.3 158.0 109.3 155.0 108.9 150.0 108.0 146.5 107.0 145.5 104.0 144.4 103.2 143.0 104.0 140.9 105.0 139.9 108.0 138.6 109.4 137.0 109.1 135.0 107.0 134.4 103.0 135.7 99.0 134.7 97.3 135.0 95.9 136.0 94.5 139.0 94.7 144.0 96.4 149.0 98.0 150.7 101.6 152.0 102.9 153.0 105.1 155.0 105.4 156.0 105.0 156.3 101.0 157.4 100.0 158.5 99.0 158.7 97.0 157.9 94.0 158.5 93.0 157.2 92.8 154.0 91.0 152.6 89.0 152.5 87.9 153.0 87.4 154.0 88.4 159.0 88.0 160.1 86.0 160.6 82.0 160.5 74.0 158.2 71.7 159.0 70.7 161.0 70.8 162.0 72.0 163.6 76.6 165.0 81.0 167.4 86.5 169.0 87.9 170.0 89.2 172.0 89.9 176.0 91.0 177.3 96.0 180.2 97.0 179.8 99.0 177.6 100.0 177.1 101.0 177.4 103.0 179.0 104.5 182.0 107.6 185.0 108.4 185.0 109.0 183.3 110.0 182.9 112.8 185.0 114.3 188.0 114.0 190.0 113.0 191.7 112.0 191.8 107.0 189.4 106.0 189.4 105.0 190.5 104.5 192.0 104.7 193.0 106.5 196.0 105.0 200.1 103.0 201.7 102.4 201.0 103.0 199.0 102.9 198.0 102.0 196.5 101.0 196.1 100.0 196.5 98.0 198.9 97.0 199.3 93.0 198.7 89.0 195.1 84.0 193.0 81.0 188.3 80.0 187.6 79.0 187.7 74.2 191.0 74.1 192.0 75.8 195.0 75.7 196.0 74.3 198.0 74.8 200.0 76.3 201.0 81.0 201.0 83.7 202.0 85.6 204.0 85.6 207.0 86.9 208.0 90.0 208.4 94.0 207.4 95.0 208.0 94.1 211.0 98.4 217.0 98.4 221.0 99.1 222.0 104.0 223.2 106.0 224.6 110.0 225.9 115.0 226.2 128.0 230.1 130.0 229.6 130.8 228.0 130.7 227.0 130.0 225.8 126.1 224.0 125.0 222.0 126.0 218.2 128.0 216.5 130.0 216.0 135.0 217.8 137.0 218.1 142.0 217.2 148.0 214.4 155.0 208.1 158.0 207.8 160.0 208.4 162.0 208.1 162.9 206.0 164.0 204.8 171.0 207.4 174.0 207.4 178.0 211.4 180.0 212.5 180.6 214.0 178.0 217.0 178.0 218.0 179.0 218.7 182.0 217.6 184.0 217.8 186.9 216.0 188.7 214.0 188.8 212.0 186.6 207.0 187.2 206.0 191.0 204.2 194.0 204.2 195.4 206.0 196.9 211.0 195.6 213.0 195.0 217.0 194.0 218.2 191.0 217.1 190.0 217.6 188.4 221.0 185.0 221.2 184.0 222.0 183.6 223.0 184.0 224.0 192.0 223.5 195.0 222.7 197.0 223.0 199.9 227.0 201.0 230.0 203.0 231.4 204.1 231.0 207.9 226.0 209.0 220.5 212.8 219.0 214.0 216.0 217.5 214.0 218.0 213.1 218.3 215.0 219.3 216.0 224.0 217.2 227.0 217.3 231.0 215.8 232.0 216.0 233.7 218.0 234.0 220.0 230.6 226.0 230.2 231.0 230.0 231.3 229.0 230.8 226.0 228.3 224.0 228.7 222.8 230.0 223.5 231.0 227.9 233.0 227.0 239.0 228.0 241.9 229.0 242.7 233.0 242.2 234.3 243.0 235.4 245.0 214.1 245.0 214.0 243.8 213.0 243.5 212.7 245.0 58.0 245.0 59.5 241.0 59.0 240.0 55.0 236.8 50.5 235.0 49.0 232.8 43.7 233.0 43.3 232.0 43.7 230.0 41.0 223.6 40.0 223.5 39.5 224.0 39.0 227.4 37.0 228.1 32.0 227.1 31.2 225.0 30.3 224.0 28.2 224.0 27.7 225.0 28.5 228.0 27.0 228.6 22.0 226.0 18.0 225.5 16.0 224.0 15.8 223.0 16.4 222.0 18.0 221.0 20.0 221.1 23.0 223.7 24.0 223.9 26.5 223.0 27.4 221.0 27.3 218.0 26.0 216.4 25.0 216.1 22.0 217.6 21.0 217.6 20.0 216.9 19.6 216.0 20.0 214.0 22.0 212.6 22.4 211.0 21.9 207.0 19.4 203.0 18.6 198.0 19.0 196.8 22.0 192.6 24.8 190.0 25.5 185.0 30.6 181.0 31.7 176.0 35.8 174.0 39.3 171.0 45.0 169.3 48.0 167.3 52.7 164.0 53.6 163.0 54.1 161.0 55.0 160.2 58.0 162.4 60.0 162.2 61.0 161.0 63.1 155.0 62.5 153.0 60.1 149.0 64.4 146.0 65.3 144.0 64.5 143.0 61.4 142.0 60.1 141.0 59.0 136.0 59.2 135.0 60.0 134.1 65.0 134.6 66.0 133.6 66.7 132.0 66.0 129.0 66.3 128.0 70.0 125.6 71.3 124.0 71.8 120.0 73.7 113.0 73.3 107.0 72.2 102.0 67.7 94.0 66.8 87.0 65.4 83.0 65.5 81.0 69.8 78.0 70.1 76.0 69.0 73.0 71.0 66.9 73.0 65.6 76.0 65.8 79.9 64.0 80.9 63.0 80.8 59.0 82.5 56.0ZM50.1 179.0 43.0 183.0 42.4 184.0 42.8 185.0 44.0 185.2 47.7 184.0 52.7 182.0 54.0 181.0 54.1 180.0 53.0 178.8ZM54.6 212.0 52.0 212.4 51.0 213.3 50.7 215.0 52.0 216.7 57.0 217.4 59.6 216.0 59.9 214.0 59.0 212.7 57.0 211.7ZM70.0 214.0 69.0 214.3 68.0 215.7 67.4 218.0 67.7 221.0 66.1 224.0 66.4 225.0 67.5 226.0 70.0 226.1 73.0 224.6 74.0 224.8 78.0 228.8 81.0 229.7 88.1 227.0 89.7 226.0 92.0 223.7 95.0 223.3 96.0 222.0 95.5 221.0 92.0 217.5 87.0 215.0 85.5 215.0 83.5 218.0 82.0 218.8 81.0 218.6 79.0 216.7 74.0 218.3 73.0 218.1 71.8 217.0 71.0 214.9ZM212.5 226.0 211.5 228.0 212.0 229.8 214.5 227.0 214.0 225.4ZM211.4 232.0 211.0 233.0 211.2 235.0 212.0 236.2 213.0 236.2 213.7 235.0 213.6 234.0 212.0 231.3ZM160.0 67.4 162.0 67.1 162.8 68.0 161.0 69.8 160.0 70.1 159.0 69.0ZM191.0 104.4 193.0 104.2 196.0 106.6 200.0 108.2 200.6 110.0 201.3 115.0 201.0 119.0 198.0 125.4 197.0 125.5 196.2 125.0 194.0 122.5 193.0 122.0 190.0 122.6 188.0 120.9 187.0 121.3 187.0 123.0 189.0 123.4 189.7 124.0 189.7 126.0 188.4 127.0 184.0 127.4 182.9 127.0 181.0 125.0 180.4 124.0 180.2 121.0 177.4 119.0 177.4 117.0 180.3 113.0 180.5 111.0 179.9 109.0 180.4 108.0 182.0 107.1 187.0 107.5 188.2 107.0ZM183.1 114.0 182.6 115.0 182.5 117.0 183.0 118.0 184.0 118.4 185.8 117.0 185.9 116.0 185.0 113.7 184.0 113.0ZM148.0 131.8 157.0 132.5 160.0 133.5 162.0 135.5 162.0 139.0 160.0 140.9 158.7 144.0 158.0 144.6 157.0 144.8 151.0 144.0 146.8 145.0 147.0 146.0 152.3 153.0 151.9 154.0 150.5 155.0 150.6 158.0 150.0 159.3 146.0 160.0 140.0 159.7 137.0 159.0 136.0 158.0 136.1 157.0 137.0 156.2 141.0 155.8 142.9 154.0 143.9 151.0 143.4 148.0 143.9 145.0 138.0 143.3 133.0 142.9 132.1 142.0 132.4 140.0 134.2 137.0 138.0 134.2 140.0 133.5 144.0 133.2ZM284.0 147.9 289.0 147.3 291.4 148.0 291.9 149.0 290.7 153.0 293.1 156.0 293.8 159.0 294.5 160.0 299.0 161.3 299.0 166.4 296.7 167.0 293.0 169.6 292.0 169.6 290.0 165.0 287.0 162.4 286.0 160.5 285.0 159.9 282.0 160.4 281.0 159.9 280.5 159.0 280.7 158.0 283.3 154.0 283.1 153.0 281.5 151.0 281.6 150.0ZM286.6 154.0 286.3 155.0 287.0 155.9 288.0 155.7 288.5 155.0 288.5 154.0 288.0 153.6ZM275.0 156.4 276.0 156.3 277.0 156.9 277.3 158.0 276.0 158.4 275.0 158.0 274.6 157.0ZM168.0 169.7 169.0 169.3 170.0 169.6 175.6 175.0 175.7 177.0 175.0 178.4 174.0 178.8 170.0 178.7 162.9 177.0 162.8 175.0 164.0 172.3ZM177.0 169.8 178.0 169.1 179.0 169.1 181.0 169.9 182.1 171.0 183.4 174.0 185.4 176.0 185.2 178.0 184.0 179.6 183.0 179.7 182.2 179.0 182.6 175.0 182.0 174.0 177.0 173.0 176.6 171.0ZM189.0 173.0 189.1 173.0 189.0 173.1 189.0 173.0ZM298.0 173.0 299.0 172.9 299.0 177.4 297.0 177.6 295.8 177.0 295.6 175.0 296.0 173.9ZM235.0 174.9 236.3 176.0 236.8 180.0 236.0 181.5 234.0 182.4 233.0 182.0 233.8 178.0 233.7 176.0ZM139.0 180.0 140.1 180.0 141.4 181.0 142.0 182.0 142.1 184.0 140.7 188.0 139.0 189.5 138.0 189.8 134.8 188.0 132.4 184.0 131.8 182.0 133.0 180.5ZM232.0 185.3 232.2 186.0 232.0 187.2 231.6 187.0ZM171.0 192.9 171.2 194.0 171.0 194.3 170.3 194.0ZM112.0 193.6 113.0 193.7 116.5 197.0 116.0 198.6 114.0 200.0 113.0 199.9 112.0 199.1 110.8 197.0 110.8 195.0ZM180.0 198.0 182.0 197.5 184.0 197.7 185.3 199.0 184.6 201.0 181.0 205.0 180.0 205.1 176.3 204.0 175.5 203.0 175.5 202.0 176.9 200.0ZM162.0 199.9 162.5 200.0 162.0 200.2ZM159.0 204.8 159.1 206.0 159.0 206.3 158.6 205.0ZM206.0 208.9 206.9 210.0 207.1 211.0 206.3 215.0 205.0 216.2 203.2 216.0 201.5 211.0 202.0 209.9ZM229.0 209.9 229.7 211.0 229.7 212.0 229.0 212.8 228.0 212.3 227.7 211.0 228.0 210.3ZM266.0 229.9 268.0 229.9 269.1 231.0 270.6 234.0 272.8 237.0 272.6 238.0 272.0 238.5 270.0 238.5 264.1 235.0 264.0 233.0ZM23.0 230.7 25.0 230.8 25.5 232.0 24.0 233.6 23.0 233.8 22.2 232.0ZM293.0 234.9 295.0 234.0 299.0 235.4 299.0 245.0 278.4 245.0 277.4 242.0 277.7 241.0 280.3 240.0 282.0 236.6 283.0 236.0 286.0 235.7 290.0 237.1 291.0 237.0ZM247.0 239.0 249.0 239.4 251.0 240.7 253.5 245.0 248.4 245.0 247.5 244.0 246.0 243.6 244.8 245.0 241.7 245.0 242.0 243.5 243.9 241.0 245.0 239.9Z"/><path fill="#db1a24" fill-rule="evenodd" d="M85.0 73.0 87.0 72.8 88.0 73.5 89.0 77.4 90.0 78.5 96.0 80.5 99.0 80.8 101.0 82.0 106.0 83.5 108.2 86.0 109.0 90.3 110.0 91.3 113.0 89.7 115.0 90.4 116.3 93.0 116.2 98.0 116.7 101.0 116.0 101.7 112.3 103.0 111.7 107.0 110.7 109.0 110.5 112.0 107.8 116.0 108.0 117.3 110.0 118.5 111.0 119.7 112.5 124.0 112.2 126.0 110.0 126.8 109.0 126.3 107.0 123.8 106.0 123.4 105.0 123.7 101.9 127.0 101.0 130.2 95.0 132.4 93.1 134.0 91.0 137.2 85.0 140.1 80.0 143.6 79.0 143.8 78.0 143.2 75.8 138.0 74.9 134.0 75.0 131.7 76.0 130.8 77.0 130.7 81.0 133.0 83.0 133.5 88.4 131.0 90.0 129.0 88.0 129.3 87.0 128.3 85.1 124.0 82.9 121.0 82.8 119.0 84.0 115.0 80.0 112.4 79.1 111.0 80.8 104.0 85.8 99.0 85.8 98.0 83.3 96.0 83.3 95.0 86.6 93.0 86.9 92.0 86.3 90.0 83.5 86.0 81.0 84.1 78.0 83.3 77.4 82.0 79.0 80.0 81.0 79.8 84.0 80.8 85.4 80.0 85.1 78.0 83.0 75.0 83.2 74.0ZM89.5 122.0 90.0 122.4 90.4 122.0 90.0 121.3ZM123.0 100.7 123.5 101.0 123.1 102.0 122.0 102.0 122.0 101.0ZM145.0 136.0 153.0 135.4 154.6 136.0 155.1 137.0 154.2 139.0 152.0 140.5 150.0 141.1 141.0 141.2 139.3 140.0 140.0 137.9 141.5 137.0ZM67.0 162.5 68.0 162.4 71.0 164.9 76.5 167.0 81.0 171.6 84.0 173.2 85.0 174.7 85.1 176.0 84.1 178.0 81.0 179.7 75.0 180.2 72.0 177.3 68.0 176.3 67.0 176.4 64.9 179.0 63.0 180.0 61.0 179.9 59.6 179.0 57.8 177.0 57.7 176.0 62.0 175.1 63.0 174.2 63.2 173.0 62.4 169.0 62.6 167.0 64.0 165.0ZM37.0 187.7 38.0 187.3 39.0 188.0 39.3 189.0 39.0 195.0 38.0 194.9 37.4 192.0 36.3 190.0 36.1 189.0ZM48.0 188.8 50.0 190.7 54.0 191.3 59.0 193.6 61.2 202.0 61.3 204.0 55.2 210.0 49.0 210.1 43.0 211.4 41.9 212.0 40.0 214.5 38.0 215.4 36.0 215.4 32.3 214.0 30.3 212.0 29.6 210.0 30.9 207.0 34.0 204.0 34.5 203.0 33.6 200.0 34.0 198.0 37.5 196.0 38.0 195.0 39.0 195.0 39.5 196.0 41.0 196.7 42.0 196.4 44.0 190.1ZM161.0 215.8 162.0 216.1 164.0 218.0 166.0 218.9 170.0 218.0 172.3 219.0 171.6 225.0 170.0 226.4 168.0 226.8 167.0 228.0 167.8 232.0 169.0 233.1 174.0 231.4 179.0 232.3 180.2 234.0 181.1 241.0 182.5 245.0 174.4 245.0 173.0 243.6 171.0 243.3 169.2 244.0 168.5 245.0 73.3 245.0 73.0 242.8 71.3 240.0 73.0 237.9 78.0 236.0 87.0 235.7 97.0 229.6 97.5 230.0 97.4 233.0 98.0 234.2 99.0 234.7 100.0 234.5 102.2 233.0 104.0 232.8 105.4 234.0 107.0 236.5 109.0 237.0 110.0 236.9 113.0 234.7 115.0 231.1 128.0 232.7 131.0 232.3 133.8 230.0 136.0 226.5 138.0 226.1 141.0 227.0 142.0 226.0 143.0 223.5 144.0 223.1 148.0 223.5 151.0 221.9 152.1 224.0 154.0 225.3 157.0 225.8 160.7 225.0 161.7 224.0 160.1 221.0 159.8 218.0 160.0 216.7ZM299.0 243.9 299.0 245.0 296.7 245.0 298.0 244.1Z"/><path fill="#ab1519" fill-rule="evenodd" d="M69.0 168.8 69.3 169.0 69.0 169.4 68.6 169.0ZM70.0 169.8 70.2 170.0 70.0 170.2 69.7 170.0ZM36.0 207.8 37.4 208.0 37.5 209.0 37.0 209.6 36.0 209.9 34.8 209.0ZM143.0 235.9 145.0 236.0 146.0 237.1 146.3 242.0 147.5 245.0 142.6 245.0 142.6 242.0 143.4 240.0 142.4 237.0 142.5 236.0ZM91.0 241.7 93.2 242.0 94.1 243.0 94.6 245.0 85.7 245.0 89.0 243.7ZM155.0 244.0 156.0 244.2 157.1 245.0 154.1 245.0Z"/></g><use href="#coast"/><use href="#borders"/></g></g><g transform="translate(326.5 94)" clip-path="url(#frame)"><g filter="url(#soft)"><rect x="-4" y="-4" width="305" height="252" fill="#fde68c"/><path fill="#fdd06c" fill-rule="evenodd" d="M81.0 -1.0 81.5 -2.0 299.0 -2.0 299.0 245.0 -2.0 245.0 -2.0 27.2 4.0 26.2 11.6 23.0 18.1 19.0 28.0 11.7 30.0 11.0 40.0 14.7 47.0 16.3 55.0 16.7 61.0 15.5 66.0 13.1 71.0 9.4 75.8 5.0Z"/><path fill="#f7b04f" fill-rule="evenodd" d="M132.0 -2.0 299.0 -2.0 299.0 245.0 -2.0 245.0 -2.0 92.6 2.0 94.5 11.0 101.1 14.0 102.1 17.0 102.1 23.0 100.4 26.0 98.7 30.2 95.0 35.0 89.6 43.0 91.3 50.0 90.8 58.0 87.7 69.0 81.0 82.0 69.9 87.0 64.4 89.0 61.0 89.7 56.0 87.3 45.0 87.3 39.0 89.6 31.0 93.7 24.0 100.0 17.9 118.5 8.0 127.4 2.0Z"/><path fill="#ef8636" fill-rule="evenodd" d="M296.0 28.9 299.0 28.5 299.0 245.0 -2.0 245.0 -2.0 190.6 9.0 192.9 15.0 192.3 22.0 188.7 30.1 181.0 39.0 170.1 45.0 161.8 48.0 156.4 55.6 140.0 66.0 125.0 67.2 119.0 65.4 108.0 65.5 105.0 66.3 103.0 68.0 101.1 70.0 100.2 76.0 100.3 79.0 99.4 91.0 91.1 94.5 87.0 97.1 79.0 100.5 75.0 124.0 63.6 132.0 61.1 139.0 61.0 159.0 63.9 173.0 64.4 189.0 62.7 211.6 58.0 227.6 54.0 240.0 50.2 251.0 46.0 278.0 33.8 287.0 30.8Z"/><path fill="#f07c20" fill-rule="evenodd" d="M132.0 114.0 141.0 114.3 160.0 116.3 172.0 118.3 183.0 120.8 222.0 131.9 237.0 136.9 250.0 142.6 263.0 150.4 271.0 149.6 275.0 149.7 280.0 150.9 284.0 152.9 287.0 155.3 289.2 158.0 291.5 164.0 291.7 167.0 291.0 171.0 286.6 181.0 285.7 186.0 287.1 192.0 293.9 202.0 296.1 207.0 296.2 212.0 293.6 219.0 291.9 221.0 289.0 222.6 287.0 222.9 284.0 222.4 280.0 220.4 277.0 217.8 272.3 211.0 270.3 205.0 270.8 195.0 268.1 187.0 267.6 179.0 266.1 172.0 266.6 163.0 265.0 158.7 263.0 156.3 262.0 156.1 260.0 157.3 258.0 161.1 257.3 171.0 255.5 179.0 255.2 191.0 257.6 203.0 255.2 214.0 254.4 224.0 254.7 230.0 255.9 235.0 260.8 245.0 -2.0 245.0 -2.0 238.0 18.0 224.1 35.1 215.0 43.2 210.0 51.2 204.0 58.5 197.0 63.9 190.0 68.2 182.0 76.8 157.0 80.0 152.3 85.0 147.0 102.0 131.2 116.0 120.0 124.0 115.5Z"/><path fill="#eb5a38" fill-rule="evenodd" d="M161.0 163.9 164.0 163.4 167.0 163.6 173.9 166.0 183.0 171.6 190.4 178.0 193.3 182.0 194.8 187.0 194.0 192.0 191.0 196.3 188.0 198.4 185.0 199.6 179.0 199.9 173.0 197.7 168.0 193.6 165.0 189.7 160.9 181.0 156.6 175.0 155.3 172.0 155.5 169.0 156.5 167.0 158.7 165.0Z"/><g clip-path="url(#landclip)"><rect x="-4" y="-4" width="305" height="252" fill="#fdd06c"/><path fill="#f7b04f" fill-rule="evenodd" d="M-1.0 -2.0 4.4 -2.0 4.8 0.0 4.0 4.0 4.4 5.0 10.0 9.6 11.0 9.7 12.6 9.0 16.0 6.3 16.7 5.0 16.5 3.0 12.8 1.0 12.1 0.0 13.2 -2.0 25.0 -2.0 26.0 -1.4 27.6 1.0 27.8 3.0 24.4 6.0 21.0 7.8 17.0 7.6 16.0 8.3 15.0 13.0 12.4 15.0 9.3 19.0 10.0 21.1 11.0 21.7 13.0 21.7 14.1 21.0 16.0 17.7 19.0 15.8 20.0 16.8 21.2 20.0 20.8 22.0 18.6 25.0 18.4 26.0 18.8 28.0 14.0 31.5 12.8 31.0 11.0 26.9 5.5 30.0 4.7 31.0 3.6 35.0 5.1 37.0 5.5 38.0 5.2 39.0 4.0 39.4 1.2 39.0 1.0 40.0 2.0 41.0 3.9 45.0 6.0 46.0 7.0 45.8 7.9 45.0 8.6 42.0 10.0 40.3 12.0 40.0 14.0 41.0 15.9 43.0 16.0 44.0 12.9 49.0 13.3 50.0 18.0 49.8 20.0 50.4 20.7 52.0 19.3 55.0 19.6 56.0 21.0 56.8 22.0 56.8 23.8 56.0 27.0 52.8 29.6 49.0 33.1 45.0 36.6 43.0 37.5 42.0 37.5 41.0 35.6 37.0 37.0 33.0 37.0 32.0 35.8 31.0 36.0 30.6 37.0 30.5 38.0 30.9 44.0 27.5 47.0 27.3 49.7 30.0 49.7 32.0 48.2 34.0 43.0 36.0 42.5 37.0 43.0 38.6 47.0 40.9 52.0 40.0 53.6 41.0 57.0 42.2 59.0 41.8 60.5 40.0 60.2 38.0 58.0 32.9 55.0 30.7 51.6 30.0 53.5 26.0 52.5 21.0 54.0 17.0 53.9 16.0 53.2 15.0 50.5 13.0 50.5 12.0 51.5 10.0 51.4 8.0 50.0 6.7 49.0 6.6 46.0 8.0 44.0 8.0 42.9 7.0 42.0 4.1 41.0 4.0 39.6 6.0 39.0 10.0 38.4 11.0 37.0 11.5 35.0 11.3 33.2 8.0 29.5 5.0 28.3 3.0 32.6 0.0 33.9 -2.0 51.0 -2.0 52.0 -0.7 53.0 -0.6 54.0 -1.0 54.6 -2.0 63.7 -2.0 64.0 -1.7 64.4 -2.0 212.9 -2.0 214.0 -0.3 216.0 0.6 216.6 0.0 216.3 -2.0 248.5 -2.0 249.0 -1.3 250.0 -1.1 251.4 -2.0 299.0 -2.0 299.0 245.0 -2.0 245.0 -2.0 -2.0ZM262.5 1.0 263.0 2.0 265.0 2.6 265.3 2.0 264.3 1.0ZM3.3 14.0 2.9 16.0 4.0 17.1 5.0 17.0 5.8 16.0 5.4 14.0 5.0 13.5 4.0 13.4ZM150.4 118.0 148.7 119.0 150.0 119.3 153.0 118.0 152.0 117.6ZM30.0 15.0 31.2 16.0 31.8 19.0 31.0 20.5 29.0 21.2 27.5 20.0 27.2 18.0 28.0 16.3ZM38.0 25.5 38.8 26.0 38.0 27.1 37.0 26.0ZM23.0 28.0 24.0 27.5 25.0 27.9 25.3 29.0 23.0 32.4 22.0 32.1 20.6 29.0ZM30.0 28.5 31.1 29.0 31.2 30.0 30.0 30.6 29.2 30.0 29.4 29.0ZM18.0 35.7 20.0 35.2 20.8 36.0 19.0 39.1 18.0 39.7 16.2 37.0 17.0 36.0ZM18.0 42.1 20.0 43.9 21.9 45.0 21.0 45.5 20.0 45.4 17.5 44.0 17.2 43.0Z"/><path fill="#ef8636" fill-rule="evenodd" d="M92.0 -2.0 193.8 -2.0 194.9 1.0 198.0 4.0 202.0 4.3 206.5 8.0 207.3 9.0 206.8 12.0 207.0 13.0 211.0 14.8 213.4 15.0 216.0 12.7 218.0 16.0 219.0 16.9 220.0 17.1 222.7 16.0 225.0 14.3 228.0 14.3 232.0 12.9 234.0 13.1 234.9 14.0 236.0 19.5 241.1 25.0 243.0 25.7 245.0 25.8 249.0 24.0 250.0 24.1 251.1 25.0 251.7 27.0 251.0 27.9 248.0 28.8 247.2 30.0 247.2 31.0 248.0 31.7 249.0 31.8 250.9 31.0 252.0 28.9 255.0 27.3 256.0 25.3 257.0 24.7 257.5 26.0 259.0 27.4 260.0 27.6 262.0 26.9 263.0 26.0 264.1 24.0 263.7 21.0 265.0 20.1 266.0 20.2 269.0 21.6 271.0 21.3 271.8 20.0 271.3 17.0 277.0 13.0 280.0 12.8 282.0 10.6 285.0 8.7 286.7 7.0 287.2 6.0 287.0 2.0 288.0 0.7 289.0 0.7 291.0 2.1 299.0 2.6 299.0 245.0 -2.0 245.0 -2.0 127.1 1.0 130.3 2.0 129.9 2.8 128.0 0.2 124.0 -0.4 122.0 -0.4 120.0 0.7 118.0 0.6 117.0 -2.0 114.6 -2.0 93.8 2.0 95.1 6.0 93.7 12.0 94.2 18.0 90.2 19.0 90.4 20.8 92.0 21.2 95.0 22.0 95.6 23.0 95.8 24.6 95.0 25.0 94.0 24.9 90.0 23.6 84.0 22.0 83.2 20.0 84.2 18.0 84.2 16.7 83.0 16.8 82.0 21.0 81.1 23.0 79.4 25.0 76.0 27.0 73.9 29.6 68.0 33.2 63.0 35.0 62.2 38.0 62.4 40.0 64.1 42.0 64.5 43.9 64.0 46.0 62.3 47.0 62.1 49.0 64.1 51.0 64.7 54.0 62.8 55.0 57.6 59.0 52.4 60.0 51.6 63.0 51.1 65.1 50.0 68.0 47.1 70.0 46.0 71.0 44.7 71.3 43.0 71.3 40.0 70.0 36.0 71.0 33.8 72.0 33.1 74.0 33.9 75.0 33.8 75.4 28.0 76.4 26.0 79.0 24.3 84.0 23.1 85.8 22.0 86.5 21.0 85.9 20.0 83.4 19.0 83.1 18.0 85.9 14.0 86.0 10.9 87.0 10.2 88.0 10.2 90.0 12.0 91.0 12.3 92.0 11.2 92.8 5.0 91.4 -2.0ZM109.9 1.0 109.0 1.1 107.1 3.0 106.7 4.0 107.2 5.0 108.0 5.4 109.0 5.1 110.0 4.0 110.5 2.0ZM224.7 17.0 225.0 21.0 226.7 22.0 227.9 22.0 227.8 21.0 226.0 18.0 225.0 16.6ZM238.3 27.0 239.0 28.0 239.0 28.0 239.2 27.0ZM31.9 90.0 31.6 92.0 33.4 95.0 34.0 98.1 35.7 99.0 39.0 99.3 41.0 98.3 42.3 97.0 42.5 96.0 42.0 95.0 38.0 93.3 34.0 89.8 33.0 89.5ZM227.2 90.0 228.0 91.2 229.1 91.0 229.1 90.0 228.0 89.3ZM52.8 93.0 52.4 95.0 53.0 96.0 55.0 96.7 56.6 96.0 56.9 95.0 56.0 92.7 55.0 92.0 54.0 92.1ZM229.6 106.0 229.3 107.0 230.0 108.1 231.4 108.0 232.5 107.0 232.5 106.0 231.0 105.1ZM11.4 107.0 10.8 108.0 12.0 109.4 14.0 109.8 15.7 109.0 15.1 108.0 13.0 107.0ZM159.4 114.0 151.0 116.5 147.0 118.7 140.0 123.6 129.8 127.0 123.6 132.0 123.2 133.0 123.2 137.0 124.0 141.0 125.6 133.0 129.0 130.1 131.0 128.7 141.0 125.2 146.0 121.9 151.0 120.3 159.4 116.0 160.8 115.0 160.3 114.0ZM239.7 136.0 236.0 136.8 235.1 138.0 235.3 139.0 237.0 140.0 245.0 140.6 249.7 139.0 251.2 138.0 251.3 137.0 250.0 136.0 243.0 135.4ZM97.0 138.0 97.1 142.0 98.0 143.3 99.0 143.0 99.6 141.0 99.4 138.0 98.0 137.2ZM91.8 166.0 94.0 166.2 95.0 166.0 93.0 165.8ZM293.0 -2.0 294.0 -2.0 296.2 -2.0 295.0 0.1 294.0 0.4 292.4 -1.0 292.0 -2.0Z"/><path fill="#f07c20" fill-rule="evenodd" d="M120.0 -1.4 120.3 -2.0 180.3 -2.0 180.4 -1.0 181.0 -0.6 185.4 0.0 185.9 1.0 184.8 7.0 187.0 16.9 191.0 15.1 192.0 15.3 194.4 19.0 195.2 21.0 195.0 22.1 194.0 23.0 190.8 25.0 190.2 26.0 190.6 27.0 196.0 28.9 200.0 26.5 202.0 26.4 203.0 26.8 204.0 28.4 204.0 30.0 202.3 34.0 204.4 37.0 205.0 40.0 208.0 41.2 211.3 44.0 221.0 47.9 224.0 46.9 228.0 42.8 230.0 41.7 232.0 41.2 236.0 41.7 239.0 41.6 240.0 41.1 242.7 38.0 244.0 37.4 249.0 39.2 252.0 41.7 253.0 42.0 254.0 41.8 257.0 39.1 258.0 39.5 259.1 42.0 260.0 42.8 264.0 43.0 266.0 45.8 268.7 46.0 269.3 45.0 267.7 43.0 268.4 40.0 268.0 39.0 265.6 37.0 265.3 35.0 266.0 33.9 269.9 31.0 271.0 29.5 272.0 28.8 274.1 31.0 274.7 33.0 274.6 36.0 276.0 36.6 277.0 36.6 279.0 27.0 280.0 25.0 284.0 23.8 289.0 20.1 291.0 23.0 293.0 23.9 295.0 22.9 297.3 20.0 299.0 19.3 299.0 78.1 297.0 77.7 294.1 75.0 293.4 74.0 292.6 68.0 292.0 67.3 290.0 67.1 287.8 68.0 286.0 74.3 284.0 75.2 281.0 74.3 279.0 74.4 275.0 78.6 274.3 81.0 274.6 82.0 276.0 83.1 280.0 82.5 282.0 84.1 284.0 84.7 287.0 84.3 290.0 83.0 291.5 82.0 293.0 80.0 294.0 79.6 299.0 81.0 299.0 245.0 -2.0 245.0 -2.0 150.1 1.0 149.4 4.0 151.6 5.4 151.0 7.0 148.0 8.0 148.0 10.0 149.0 11.0 148.8 20.0 139.1 23.0 138.4 28.0 133.9 33.0 132.2 35.4 132.0 34.6 135.0 35.8 140.0 36.8 141.0 38.0 140.9 39.4 140.0 39.6 139.0 38.9 133.0 38.0 131.5 36.0 131.6 35.7 131.0 36.6 128.0 39.0 125.8 40.0 126.1 40.7 129.0 42.0 131.0 44.0 136.2 52.0 132.5 54.4 130.0 58.0 128.3 60.0 128.3 61.4 129.0 62.7 132.0 64.0 132.9 65.0 133.0 66.2 132.0 65.9 131.0 64.0 129.0 64.1 128.0 65.0 127.0 69.0 126.2 71.1 125.0 71.4 123.0 70.1 119.0 72.2 116.0 73.1 113.0 71.7 110.0 72.0 107.0 71.1 104.0 70.9 101.0 67.5 94.0 67.8 87.0 66.4 83.0 66.5 82.0 68.0 81.1 74.0 79.3 78.0 77.2 79.0 76.0 80.0 72.4 81.0 71.1 85.7 70.0 87.6 69.0 87.2 65.0 89.7 60.0 89.5 58.0 88.0 57.2 84.0 58.9 83.0 58.9 82.5 57.0 83.0 53.9 84.2 52.0 86.0 51.0 89.0 50.4 93.2 48.0 93.4 46.0 92.5 44.0 92.0 40.0 89.5 36.0 89.3 34.0 91.0 32.9 97.0 32.2 100.0 30.7 101.5 27.0 100.9 23.0 105.0 20.3 106.0 16.7 108.1 15.0 110.6 12.0 114.4 10.0 115.1 5.0ZM183.0 19.0 182.3 20.0 182.4 21.0 183.0 21.7 185.0 21.0 185.8 19.0 185.0 18.5ZM197.9 33.0 197.9 34.0 199.0 34.7 200.0 34.7 201.1 34.0 200.0 32.6 199.0 32.5ZM185.6 35.0 184.8 36.0 184.9 37.0 186.0 38.7 188.0 37.5 188.6 36.0 187.8 35.0ZM291.2 35.0 290.8 36.0 291.0 36.2 291.8 36.0 292.1 35.0ZM242.5 65.0 243.0 65.8 244.1 65.0 243.0 64.5ZM204.4 81.0 199.0 82.6 197.7 84.0 197.8 85.0 211.0 86.2 215.0 85.7 221.0 87.5 222.5 89.0 223.4 92.0 223.0 93.9 221.3 97.0 218.7 100.0 218.2 102.0 219.0 103.2 220.0 103.6 224.0 103.2 224.5 104.0 223.6 107.0 223.2 111.0 223.3 112.0 224.0 112.5 227.0 112.3 232.0 110.5 237.5 106.0 240.6 100.0 239.2 96.0 237.8 94.0 233.0 90.5 229.0 85.9 225.1 85.0 223.0 83.0 221.0 82.1 219.0 82.1 212.0 83.5 207.0 80.1ZM75.4 94.0 76.0 94.7 76.0 93.5ZM158.5 113.0 149.0 115.6 139.0 122.6 130.0 125.7 121.7 131.0 121.0 132.0 121.3 137.0 122.2 141.0 125.0 148.2 126.0 148.1 126.4 147.0 125.4 141.0 126.3 134.0 127.0 133.2 131.8 130.0 141.0 126.7 145.1 124.0 147.0 123.3 150.0 123.3 153.0 122.0 156.7 119.0 161.8 116.0 162.3 114.0 161.5 113.0 160.0 112.5ZM78.9 117.0 77.6 118.0 76.8 120.0 77.8 122.0 80.4 125.0 80.4 129.0 80.8 130.0 82.0 130.9 83.0 130.8 84.2 130.0 84.8 128.0 81.9 123.0 81.0 117.0 80.0 116.7ZM250.9 123.0 243.0 125.7 237.0 129.3 233.0 129.5 229.0 128.8 227.0 129.2 226.6 130.0 227.0 131.0 229.0 131.4 235.0 131.2 237.0 131.8 238.4 133.0 237.5 134.0 234.0 135.7 232.4 138.0 232.7 140.0 234.6 142.0 239.0 143.5 246.0 143.8 248.4 142.0 252.0 140.1 253.6 138.0 253.5 136.0 252.0 134.0 247.0 133.0 245.7 132.0 246.0 131.0 251.0 127.5 254.3 123.0 253.0 122.5ZM97.0 134.0 95.0 135.2 92.7 139.0 92.5 140.0 93.5 144.0 96.5 148.0 98.0 148.9 105.0 150.0 105.6 149.0 105.2 148.0 103.2 146.0 102.2 144.0 104.2 137.0 104.0 136.0 100.0 134.1ZM187.9 137.0 193.0 138.4 194.0 138.4 194.3 138.0 192.0 136.9 189.0 136.6ZM206.8 143.0 207.8 144.0 211.7 146.0 214.4 150.0 219.0 153.6 223.0 157.4 225.6 162.0 228.0 164.6 232.0 166.6 234.0 166.7 234.4 166.0 234.1 165.0 230.5 158.0 228.0 155.0 226.0 154.3 224.4 153.0 222.0 149.0 216.7 146.0 213.0 142.7 209.0 142.1 208.0 142.1ZM36.8 158.0 36.3 159.0 37.0 160.0 40.0 160.4 48.0 159.9 49.0 159.6 49.4 159.0 49.0 158.3 48.0 158.1ZM72.4 160.0 71.9 161.0 72.0 162.0 73.0 162.9 77.0 163.8 82.0 166.0 87.0 166.6 95.0 168.6 96.0 168.2 96.9 167.0 96.6 165.0 95.0 163.9 82.0 162.1 74.0 159.4ZM141.9 166.0 142.0 166.2 142.1 166.0 142.0 165.9ZM272.9 188.0 268.4 189.0 266.8 190.0 266.3 191.0 268.0 191.7 273.4 191.0 274.3 190.0 274.3 189.0ZM189.8 194.0 190.0 195.3 191.0 195.5 191.5 195.0 191.0 193.6ZM290.0 18.3 290.2 19.0 290.0 19.6 289.2 19.0ZM228.0 95.5 230.0 95.5 231.0 96.0 235.3 101.0 234.0 101.4 230.0 100.7 226.0 101.4 225.6 100.0 225.9 98.0 227.0 96.1ZM-1.8 98.0 -0.8 99.0 -0.6 100.0 -2.0 101.1ZM53.0 107.4 54.0 107.3 56.0 108.0 57.1 109.0 57.7 111.0 57.2 112.0 55.0 113.9 52.0 114.8 51.0 114.6 50.7 114.0 50.5 112.0 52.0 108.1ZM64.0 109.7 65.0 110.0 65.3 111.0 65.0 112.0 64.0 112.6 62.7 112.0 62.6 111.0 63.0 110.1ZM48.0 116.8 50.0 116.0 50.7 118.0 50.1 119.0 49.0 119.1 48.0 118.5 47.6 118.0ZM22.0 125.5 23.0 125.3 24.7 126.0 28.3 129.0 24.0 130.1 23.0 130.0 21.5 128.0ZM-1.0 138.8 3.0 140.9 4.3 143.0 4.6 146.0 2.0 147.9 -2.0 146.6 -2.0 138.2Z"/><path fill="#eb5a38" fill-rule="evenodd" d="M143.0 -1.9 146.0 -1.2 147.6 -2.0 162.1 -2.0 162.5 2.0 164.6 7.0 166.0 8.2 169.0 9.6 172.1 13.0 172.3 14.0 171.9 15.0 168.2 19.0 168.4 22.0 167.6 26.0 168.0 27.3 169.0 28.1 172.3 28.0 173.0 29.0 172.8 30.0 171.6 33.0 170.0 33.6 168.0 33.2 166.7 35.0 167.3 37.0 169.0 39.4 171.4 40.0 172.5 41.0 172.5 42.0 170.2 48.0 170.0 52.0 167.9 54.0 167.7 55.0 168.4 57.0 171.0 61.2 174.0 61.3 176.0 62.8 176.5 64.0 176.6 68.0 178.0 69.5 179.0 69.6 180.0 69.1 181.0 67.0 182.0 66.6 184.0 67.6 185.4 69.0 186.0 71.0 185.8 74.0 187.1 79.0 187.4 83.0 190.0 87.4 192.0 88.6 200.0 89.0 203.0 89.7 205.0 90.7 206.3 92.0 208.4 95.0 209.6 99.0 215.0 107.1 217.7 109.0 218.0 110.0 217.2 112.0 217.2 114.0 219.0 116.8 221.0 117.5 224.0 117.5 227.0 118.2 230.7 117.0 232.4 114.0 238.0 109.9 241.0 105.0 244.0 102.0 246.1 97.0 244.0 95.0 243.8 94.0 245.3 91.0 245.7 85.0 245.0 81.6 242.3 79.0 243.0 76.8 244.0 76.5 248.0 77.9 254.0 77.3 261.0 78.8 266.0 77.9 268.0 78.1 268.4 80.0 266.9 85.0 266.0 86.3 263.0 87.3 262.5 88.0 262.6 89.0 267.0 92.2 269.0 92.0 270.0 92.7 274.8 97.0 279.0 98.0 279.9 99.0 280.0 100.0 280.3 106.0 275.7 113.0 274.2 119.0 272.0 122.0 271.0 125.0 267.0 126.7 265.0 129.2 262.0 129.6 255.7 127.0 257.9 123.0 257.3 121.0 256.0 120.0 254.0 119.8 247.0 122.1 242.0 121.3 238.8 123.0 238.2 125.0 237.0 126.3 228.0 126.3 226.0 127.0 223.8 130.0 223.4 134.0 222.8 135.0 222.0 135.4 219.0 135.2 215.0 137.9 211.0 137.4 208.0 138.4 205.0 138.4 199.0 136.6 196.0 134.7 193.0 133.8 178.0 131.5 173.0 126.2 169.0 124.6 167.5 122.0 167.5 120.0 171.8 112.0 172.1 110.0 171.5 109.0 170.0 108.1 167.0 107.8 162.0 108.8 158.0 110.4 154.0 110.8 152.0 111.5 143.0 116.1 140.0 117.0 136.0 121.1 124.0 125.2 117.0 126.0 114.0 129.7 110.0 127.6 109.0 125.7 109.0 121.8 110.0 120.8 111.0 120.7 114.0 122.1 116.1 121.0 116.4 120.0 115.6 118.0 115.7 117.0 118.0 114.6 118.3 113.0 117.6 112.0 114.5 110.0 114.0 105.7 113.0 105.2 111.0 106.6 109.0 107.0 108.5 106.0 109.4 103.0 109.3 102.0 108.2 101.0 105.0 99.6 103.0 96.9 99.0 93.1 96.0 92.2 94.2 91.0 93.8 90.0 94.0 89.0 96.0 86.7 97.7 83.0 99.0 82.0 106.0 81.9 111.0 85.2 115.0 86.4 117.0 86.2 117.8 85.0 118.4 81.0 120.4 77.0 122.0 75.8 125.1 75.0 126.2 74.0 126.1 72.0 123.9 68.0 124.5 64.0 125.7 61.0 125.7 58.0 126.6 55.0 126.0 52.3 125.0 51.5 122.0 52.4 120.4 54.0 120.0 56.9 119.0 57.4 117.7 56.0 117.1 53.0 115.0 51.0 114.0 51.2 113.3 52.0 114.5 55.0 113.0 55.4 112.4 55.0 112.3 52.0 109.6 49.0 108.5 46.0 108.8 43.0 110.8 38.0 110.9 33.0 112.0 31.3 113.0 31.4 113.9 33.0 114.2 36.0 115.0 36.8 123.0 36.8 126.0 38.7 128.0 38.4 129.9 37.0 130.1 35.0 129.0 33.7 127.0 32.8 125.0 33.7 124.3 31.0 121.6 28.0 121.2 26.0 122.2 24.0 125.9 22.0 126.3 21.0 126.0 18.0 126.2 17.0 127.2 16.0 131.0 13.7 134.0 14.5 136.1 14.0 136.2 12.0 135.0 10.1 130.0 7.0 130.3 6.0 132.0 5.3 137.0 4.8 140.8 3.0 141.7 2.0 142.0 -0.8ZM167.5 80.0 166.2 81.0 166.7 82.0 169.4 84.0 175.0 85.6 176.6 85.0 177.2 84.0 177.1 82.0 175.0 80.2 171.0 79.3ZM250.1 94.0 249.6 95.0 250.0 95.3 251.0 95.8 252.3 95.0 252.0 93.7ZM298.0 88.9 299.0 88.7 299.0 102.1 297.0 101.4 293.0 101.9 292.0 100.9 292.0 97.2 294.0 94.9 296.0 90.3ZM94.0 97.0 96.0 96.4 97.0 97.0 97.8 99.0 97.0 100.7 95.0 101.4 93.0 101.2 93.0 99.0ZM103.0 110.8 104.9 111.0 105.3 112.0 103.9 113.0 102.7 112.0ZM298.0 110.9 299.0 110.4 299.0 129.1 298.0 128.9 297.3 128.0 297.0 126.0 296.0 124.0 292.1 122.0 292.4 120.0 294.0 116.3ZM162.0 120.8 164.0 120.9 165.7 122.0 167.0 125.0 168.2 126.0 169.4 130.0 170.6 131.0 177.0 132.5 178.0 133.3 179.1 136.0 181.6 139.0 182.0 143.1 183.0 144.6 186.0 145.0 189.0 147.6 194.0 150.0 195.0 150.0 197.0 149.2 198.0 149.5 200.1 155.0 207.0 159.2 212.0 160.5 213.0 160.3 216.0 157.9 217.0 157.6 218.4 158.0 220.1 160.0 219.8 164.0 220.9 166.0 222.0 166.4 226.0 166.3 238.6 173.0 240.9 175.0 242.3 178.0 244.0 180.0 245.4 185.0 250.0 185.4 253.0 186.5 259.0 185.6 260.0 185.0 261.8 183.0 262.4 181.0 261.5 178.0 262.0 175.0 261.6 174.0 260.0 171.9 256.2 169.0 254.1 165.0 254.2 164.0 256.1 161.0 256.2 160.0 254.5 158.0 254.5 157.0 256.5 153.0 256.2 148.0 253.0 146.9 252.0 146.0 251.7 145.0 252.6 143.0 255.8 140.0 258.0 137.0 259.0 136.2 262.0 137.1 265.0 136.2 268.0 136.9 269.0 136.7 270.7 133.0 270.7 129.0 272.0 128.0 273.7 129.0 276.0 131.8 277.0 132.3 279.7 131.0 281.0 131.1 281.9 132.0 282.5 134.0 285.0 138.0 286.0 138.7 290.0 138.6 295.0 141.8 299.0 142.0 299.0 153.4 297.8 156.0 298.0 157.0 299.0 158.3 299.0 189.4 298.0 190.0 297.8 191.0 298.1 192.0 299.0 192.3 299.0 245.0 -2.0 245.0 -2.0 162.9 2.0 160.8 10.0 159.8 16.0 163.4 18.0 165.4 19.0 165.8 23.0 165.1 28.0 161.8 32.0 163.8 35.0 162.4 40.0 162.7 49.0 162.0 50.7 161.0 51.6 159.0 51.4 157.0 50.0 155.1 48.0 154.8 44.0 156.0 37.0 154.9 33.0 155.7 31.9 155.0 30.9 153.0 32.5 148.0 35.0 147.9 40.0 149.8 43.0 149.3 45.0 149.6 49.0 151.0 52.0 152.9 54.8 152.0 56.2 149.0 58.0 148.1 61.0 149.7 65.0 149.1 68.0 150.8 71.0 151.4 73.1 153.0 74.5 156.0 71.1 159.0 70.6 161.0 70.7 162.0 72.0 163.7 76.5 165.0 82.0 167.5 87.0 168.3 94.0 170.8 96.0 170.8 98.5 169.0 99.2 167.0 99.2 165.0 98.3 163.0 96.0 160.5 93.3 160.0 94.0 158.3 95.0 157.4 99.7 156.0 101.0 154.5 102.0 154.2 106.0 155.1 108.0 154.7 109.0 153.5 109.5 152.0 109.8 147.0 111.6 144.0 112.2 141.0 113.0 140.2 119.0 141.9 121.0 143.0 124.0 148.8 125.0 149.7 127.0 149.8 128.0 149.0 128.2 148.0 126.9 140.0 128.0 135.9 129.0 134.4 136.3 131.0 142.0 129.6 145.0 128.1 152.0 128.1 155.0 126.3 158.0 125.6 160.1 122.0ZM59.0 153.0 58.4 154.0 59.7 155.0 61.2 155.0 61.9 154.0 61.0 152.2ZM264.9 162.0 264.4 163.0 264.8 165.0 265.0 165.3 266.0 165.2 266.0 163.2ZM139.8 163.0 139.3 164.0 139.7 168.0 141.0 169.4 143.0 169.4 144.6 167.0 143.9 164.0 143.3 163.0 142.0 162.3ZM264.6 176.0 264.1 179.0 264.6 180.0 266.0 180.2 266.7 179.0 266.7 178.0 266.0 176.4ZM264.4 186.0 262.3 191.0 262.3 194.0 261.6 196.0 263.3 200.0 267.0 202.4 267.6 204.0 267.5 206.0 266.5 209.0 263.1 212.0 262.9 213.0 263.8 217.0 266.0 220.0 267.0 222.8 268.0 223.7 269.0 223.8 272.0 222.3 278.0 225.0 280.0 224.7 283.0 223.4 286.0 222.9 287.2 221.0 286.8 217.0 282.0 212.3 281.0 211.9 280.0 212.3 279.4 216.0 278.0 216.4 271.6 213.0 270.6 212.0 270.4 211.0 272.8 204.0 271.2 199.0 271.3 197.0 271.8 196.0 273.0 195.4 278.0 195.0 279.4 194.0 278.3 190.0 278.3 187.0 277.9 186.0 276.0 185.2 267.0 185.0 265.0 185.4ZM288.6 189.0 286.0 189.9 285.0 191.0 284.9 193.0 286.0 193.9 290.1 192.0 291.1 191.0 291.0 190.0 290.0 189.0ZM78.6 190.0 77.4 191.0 77.3 192.0 78.0 193.1 80.0 193.1 80.6 192.0 80.4 191.0 80.0 190.4ZM188.3 192.0 187.6 194.0 189.0 196.8 191.0 197.5 193.0 196.3 193.8 194.0 193.0 192.3 191.0 191.4ZM239.1 192.0 238.5 196.0 239.0 197.6 240.0 197.5 241.0 196.5 241.8 194.0 241.0 191.7 240.0 191.1ZM55.9 213.0 53.0 213.8 52.7 215.0 57.0 215.7 57.9 215.0 58.0 214.0 57.0 213.0ZM109.0 219.0 108.5 220.0 109.0 221.9 111.0 223.2 116.0 224.2 119.7 224.0 119.3 223.0 116.0 219.7 111.0 218.6ZM286.2 227.0 287.0 227.5 287.0 226.9ZM289.0 125.9 290.0 126.0 290.9 127.0 290.9 128.0 289.0 130.8 287.0 131.7 285.8 131.0 285.9 129.0 287.0 127.0ZM114.0 130.6 115.0 131.6 115.4 133.0 115.0 134.9 114.0 135.4 113.3 133.0ZM245.0 161.0 248.0 161.0 249.0 161.9 249.1 163.0 248.0 164.4 247.0 165.0 246.0 164.0 244.9 162.0ZM246.0 166.8 249.0 170.0 254.1 172.0 254.9 174.0 255.0 178.0 255.6 180.0 255.0 181.1 252.0 181.1 250.9 180.0 253.7 178.0 252.0 177.4 250.0 177.7 248.0 177.2 243.5 174.0 242.5 172.0 242.6 170.0 244.0 168.3Z"/><path fill="#e8433a" fill-rule="evenodd" d="M150.0 4.8 152.8 6.0 155.0 9.8 156.7 14.0 155.3 19.0 155.5 21.0 160.1 25.0 161.0 27.0 160.7 29.0 159.0 32.6 158.2 36.0 159.9 42.0 159.7 47.0 159.0 48.9 157.0 48.5 153.0 45.0 148.0 46.3 146.0 45.2 143.7 41.0 145.1 38.0 145.0 37.0 142.0 34.8 141.2 33.0 141.9 30.0 144.2 28.0 145.8 25.0 145.5 23.0 143.4 20.0 142.9 13.0 143.2 11.0 144.0 9.7 147.0 7.9 149.0 5.0ZM139.0 49.0 140.0 48.9 141.6 50.0 142.3 51.0 143.0 54.2 144.0 54.2 146.0 52.0 147.0 51.6 149.0 52.3 152.0 54.4 155.0 54.0 156.4 55.0 155.6 57.0 156.1 59.0 158.0 61.3 159.2 64.0 162.7 67.0 160.3 72.0 158.9 73.0 158.5 74.0 158.7 75.0 159.0 75.3 162.0 74.5 164.5 76.0 164.5 77.0 162.1 80.0 162.1 82.0 165.0 85.8 166.0 89.0 168.0 92.1 171.0 93.9 173.0 94.4 177.0 92.5 178.0 92.8 178.3 95.0 181.0 97.4 182.0 97.3 185.0 94.5 190.0 94.5 195.0 98.7 199.0 100.3 201.3 103.0 208.4 108.0 209.0 110.0 208.3 111.0 206.0 111.2 204.7 112.0 203.2 119.0 200.7 123.0 200.0 126.7 199.0 127.7 196.0 127.6 193.0 124.9 192.0 125.9 191.7 128.0 191.0 128.4 183.0 129.3 181.5 129.0 177.0 126.2 175.3 124.0 174.0 120.0 174.6 116.0 176.2 112.0 175.0 107.5 173.0 106.1 167.0 105.0 163.0 103.1 162.0 103.2 159.0 105.3 158.0 105.3 156.0 104.0 155.0 104.4 150.0 107.7 146.5 111.0 143.0 112.4 139.0 112.0 135.0 113.7 131.0 111.8 127.0 111.3 126.0 110.7 123.4 105.0 121.1 102.0 121.6 100.0 126.0 92.4 126.9 90.0 126.9 89.0 125.6 86.0 124.5 80.0 128.3 77.0 129.9 75.0 130.4 73.0 130.1 69.0 135.6 52.0 137.0 50.3ZM249.0 102.9 251.0 102.7 254.0 103.5 255.0 104.1 256.1 106.0 255.7 108.0 254.1 111.0 253.5 114.0 252.7 115.0 251.0 115.8 249.0 115.5 246.0 113.5 244.8 109.0 244.8 107.0 245.5 106.0ZM264.0 106.4 265.0 106.6 265.9 109.0 264.0 109.4 263.3 109.0 262.9 108.0ZM268.0 110.0 269.0 110.6 269.2 112.0 268.0 113.4 266.9 111.0 267.0 110.5ZM260.0 113.9 261.3 115.0 261.1 116.0 260.0 117.0 259.0 116.6 258.6 115.0 259.0 114.1ZM146.0 131.8 149.0 131.2 159.0 131.4 161.0 132.1 163.0 133.6 164.9 141.0 164.0 145.6 163.0 146.0 161.0 145.3 157.0 145.9 151.0 144.8 149.7 145.0 149.0 146.0 150.0 147.2 154.3 150.0 155.1 151.0 156.0 154.1 157.0 154.5 161.0 153.9 164.0 155.7 167.1 161.0 166.0 162.9 165.0 163.0 164.0 162.3 162.0 159.4 160.0 158.1 154.0 157.6 153.0 158.0 151.0 160.4 148.0 160.7 139.0 160.0 135.7 159.0 135.0 158.0 136.0 155.3 137.0 154.7 140.0 154.9 141.2 154.0 141.6 152.0 141.0 150.9 136.0 150.9 134.1 146.0 131.1 144.0 130.5 143.0 130.2 141.0 131.0 138.4 132.6 136.0 138.0 133.3 143.0 132.8ZM136.3 145.0 136.5 146.0 138.0 146.3 138.8 146.0 139.4 145.0 138.0 144.3 137.0 144.4ZM283.0 143.9 287.0 144.8 290.0 144.8 295.0 147.1 295.3 148.0 293.4 152.0 295.7 159.0 299.0 160.6 299.0 167.9 293.0 171.3 291.0 171.0 289.1 166.0 288.0 165.0 282.0 162.6 279.0 160.3 275.0 159.5 273.1 157.0 273.0 156.0 274.0 154.5 277.0 153.8 277.6 153.0 277.0 151.5 276.1 151.0 279.0 149.0 282.0 144.2ZM125.0 154.6 127.0 154.6 128.6 156.0 129.3 158.0 129.0 159.0 127.0 158.9 126.0 158.0 124.9 156.0 124.6 155.0ZM174.0 155.7 174.6 157.0 174.0 157.8 173.0 158.3 172.0 158.2 173.0 156.0ZM184.0 158.4 186.0 158.3 187.1 159.0 188.0 166.0 187.0 166.0 186.0 165.2 184.6 163.0 182.4 161.0 182.5 160.0ZM66.0 161.0 67.0 160.8 68.0 161.4 71.0 164.8 76.0 166.6 82.0 170.6 86.0 172.0 87.3 174.0 87.7 178.0 89.0 179.3 92.0 179.7 96.0 181.1 99.0 178.0 100.0 177.4 101.0 177.5 104.0 179.0 106.0 181.2 107.0 180.6 107.0 179.0 107.6 178.0 109.0 178.4 111.0 181.1 116.4 185.0 116.9 187.0 115.0 193.0 115.3 194.0 117.9 197.0 117.3 199.0 114.0 202.3 110.0 201.8 105.0 202.4 102.0 203.6 101.0 203.4 100.4 202.0 100.7 199.0 100.0 198.7 97.0 199.6 93.0 198.0 91.0 195.0 90.6 191.0 86.0 189.8 85.2 189.0 84.7 184.0 83.9 182.0 77.0 181.1 73.0 181.8 71.0 179.9 69.0 179.9 67.0 182.4 65.5 187.0 66.0 188.9 67.7 191.0 68.4 193.0 67.7 198.0 66.7 201.0 67.0 205.0 66.5 208.0 67.5 210.0 67.0 210.9 66.0 211.2 64.0 210.3 63.0 210.6 61.0 213.3 57.0 211.5 52.0 212.6 50.9 214.0 51.4 216.0 53.0 217.0 57.0 217.5 61.0 216.3 64.0 217.3 65.0 218.4 65.5 220.0 64.8 224.0 66.0 226.0 67.0 226.6 69.0 226.9 73.0 226.2 74.0 226.5 78.0 230.0 81.0 230.9 89.9 228.0 93.0 225.4 95.9 224.0 98.0 222.2 101.8 224.0 104.0 227.0 105.0 227.2 108.0 226.5 111.0 227.2 115.0 227.0 123.0 230.1 129.0 231.2 131.1 230.0 131.8 227.0 131.0 225.0 127.0 223.1 126.4 222.0 126.5 220.0 127.3 218.0 129.0 216.8 131.0 217.0 132.4 218.0 132.7 219.0 132.0 220.0 132.0 221.0 135.0 221.0 138.1 219.0 146.5 215.0 148.5 213.0 148.8 211.0 149.4 210.0 151.0 209.2 152.1 208.0 152.3 207.0 150.9 204.0 151.0 202.8 152.0 201.3 153.0 201.3 155.0 203.1 156.0 203.1 156.9 202.0 157.4 200.0 158.0 199.4 163.0 198.0 164.8 199.0 165.1 202.0 166.7 204.0 168.0 204.6 172.0 204.9 174.0 204.1 175.5 201.0 178.0 199.1 180.6 198.0 183.0 197.9 185.0 199.0 185.0 200.4 183.1 203.0 182.9 204.0 185.0 205.8 187.0 205.8 191.0 204.1 194.0 203.8 195.0 204.1 195.7 205.0 197.0 208.5 198.0 209.5 199.0 209.5 202.2 207.0 204.0 203.9 207.0 205.7 210.4 207.0 211.0 208.0 209.0 211.0 208.4 215.0 207.0 217.1 206.0 217.6 202.0 217.9 201.0 217.2 200.0 213.8 198.0 213.1 196.6 214.0 195.2 220.0 197.0 220.5 200.0 219.6 201.0 220.1 201.2 222.0 199.6 224.0 202.0 230.1 203.0 230.5 203.9 230.0 207.0 225.7 207.6 224.0 207.5 221.0 208.0 219.6 211.7 218.0 212.6 216.0 215.5 214.0 217.8 211.0 219.0 211.1 219.6 212.0 219.6 215.0 220.9 216.0 226.0 217.3 228.3 217.0 231.0 215.9 232.0 216.2 233.5 218.0 233.9 220.0 230.7 226.0 231.0 232.0 229.0 233.4 228.0 235.3 227.5 240.0 229.0 242.2 233.0 241.9 234.0 242.4 235.6 245.0 53.4 245.0 55.2 244.0 56.1 242.0 55.4 240.0 54.0 239.3 52.0 240.0 49.5 242.0 48.5 244.0 48.9 245.0 -2.0 245.0 -2.0 199.1 0.0 198.2 1.0 198.5 4.0 201.8 6.0 202.6 10.0 201.7 10.7 201.0 11.7 198.0 11.5 197.0 9.7 194.0 9.7 193.0 12.0 188.5 12.7 185.0 11.9 182.0 12.1 181.0 16.8 179.0 18.0 176.7 24.0 174.8 27.0 171.5 29.0 171.4 33.0 173.7 35.0 173.6 39.0 170.5 45.0 169.1 51.0 165.5 61.0 164.4 63.0 163.4ZM51.6 179.0 50.0 179.6 45.6 183.0 48.0 183.0 53.1 181.0 53.5 180.0 53.0 179.2ZM175.5 206.0 176.1 208.0 178.0 210.1 179.0 210.4 180.0 210.1 181.0 211.1 182.5 216.0 184.0 216.7 185.0 216.5 187.1 215.0 188.3 212.0 187.7 210.0 186.0 207.2 185.0 206.6 184.0 207.1 181.0 209.9 179.3 206.0 177.0 205.3ZM190.5 219.0 190.0 221.0 191.0 222.4 193.0 222.4 195.0 221.0 194.9 220.0 192.0 218.6 191.0 218.4ZM225.0 229.0 224.2 230.0 225.0 231.0 227.0 231.7 228.0 231.4 227.0 229.6 226.0 228.9ZM211.7 234.0 212.0 235.3 213.0 235.3 213.0 233.9 212.0 233.2ZM179.0 170.0 180.0 170.7 180.0 171.2 179.0 171.4 178.5 171.0ZM169.0 171.3 171.0 172.4 172.4 174.0 173.1 176.0 172.4 177.0 170.0 177.3 164.2 176.0 163.9 174.0 164.7 173.0 168.0 172.3ZM296.0 172.7 299.0 172.2 299.0 177.8 296.5 178.0 295.3 177.0 295.2 174.0ZM131.0 177.6 132.0 177.7 133.2 179.0 135.0 180.0 140.0 179.9 141.5 181.0 142.2 183.0 141.7 186.0 140.9 188.0 139.0 189.9 138.0 190.3 137.0 190.0 133.4 187.0 130.6 182.0ZM207.0 178.6 207.3 179.0 207.0 180.3 206.6 180.0 206.5 179.0ZM146.0 206.8 147.0 206.9 147.4 208.0 147.5 209.0 147.0 210.0 146.0 209.5 145.3 208.0ZM229.0 210.0 229.6 212.0 229.0 212.8 228.0 212.5 227.6 211.0 228.0 210.2ZM92.0 211.6 93.0 211.5 95.0 212.6 97.9 216.0 98.6 218.0 98.0 220.9 97.0 221.3 92.0 216.7 89.2 215.0 88.9 214.0 89.4 213.0ZM266.0 230.0 268.0 229.9 269.1 231.0 270.6 234.0 272.9 237.0 272.7 238.0 272.0 238.6 270.0 238.6 269.0 238.1 264.2 235.0 264.0 233.0ZM293.0 234.9 295.0 234.0 299.0 235.4 299.0 245.0 278.3 245.0 277.3 242.0 277.6 241.0 280.1 240.0 281.0 239.0 282.0 236.6 284.0 235.7 286.0 235.7 290.0 237.1 291.0 237.0ZM247.0 238.9 249.0 239.3 251.0 240.6 253.9 245.0 248.1 245.0 247.0 244.0 246.0 243.9 245.2 245.0 241.4 245.0 242.0 243.1 243.0 241.8 245.0 239.8Z"/><path fill="#db1a24" fill-rule="evenodd" d="M139.0 61.8 142.0 61.5 145.0 63.4 148.0 64.3 149.6 66.0 149.3 69.0 149.7 72.0 151.1 76.0 150.2 77.0 146.8 78.0 146.0 79.0 146.0 80.0 147.0 82.0 149.6 85.0 151.5 89.0 150.9 90.0 148.0 91.3 146.0 92.8 139.0 92.7 136.0 93.5 133.9 93.0 133.5 92.0 134.9 88.0 134.1 85.0 134.7 81.0 133.7 78.0 134.0 76.6 135.8 74.0 137.5 64.0ZM192.0 107.3 194.0 107.7 197.1 110.0 197.1 111.0 196.1 114.0 195.0 114.8 192.0 114.4 189.6 113.0 189.6 111.0ZM146.0 134.9 150.0 134.4 155.0 134.8 156.5 136.0 156.9 138.0 156.4 139.0 155.1 140.0 150.0 142.0 140.3 142.0 138.0 141.0 137.2 140.0 137.3 139.0 139.2 137.0ZM67.0 166.5 69.0 166.9 76.0 171.2 77.2 173.0 77.6 175.0 77.0 175.5 76.0 175.5 70.4 173.0 67.4 171.0 65.8 169.0 66.0 167.4ZM43.0 175.9 44.0 176.0 43.0 177.3 42.5 177.0ZM37.0 181.8 39.0 181.5 39.5 182.0 39.6 184.0 40.4 186.0 43.0 187.5 45.0 187.5 50.0 186.1 53.0 186.3 57.0 185.6 58.0 186.0 57.5 188.0 58.5 192.0 58.0 195.0 59.6 202.0 59.2 204.0 56.4 209.0 55.3 210.0 51.0 211.2 48.0 212.8 44.0 213.5 40.0 216.1 37.0 216.3 30.0 214.7 25.0 211.7 17.0 209.2 15.7 208.0 17.2 200.0 17.5 196.0 21.0 190.3 23.7 188.0 25.0 185.8 26.0 185.3 27.0 185.4 29.0 187.0 30.0 187.0 33.4 185.0 35.0 183.0ZM160.0 213.9 162.0 213.3 164.0 213.6 166.8 216.0 171.0 216.8 173.0 217.8 173.5 220.0 172.9 225.0 171.0 226.9 168.0 228.6 168.0 231.2 169.0 232.5 170.0 232.6 174.0 230.7 178.0 231.1 180.1 232.0 181.2 234.0 181.7 241.0 182.9 245.0 174.1 245.0 173.0 243.8 171.0 243.4 169.3 244.0 168.5 245.0 112.5 245.0 112.7 242.0 114.0 240.7 116.1 240.0 116.8 239.0 117.8 235.0 119.0 234.4 121.0 234.7 122.7 236.0 125.0 241.7 126.0 241.8 126.6 241.0 128.7 238.0 129.0 236.2 129.9 237.0 129.2 239.0 129.4 243.0 130.0 244.3 131.0 244.9 134.0 244.6 135.2 243.0 134.9 241.0 133.0 237.7 130.7 236.0 131.3 235.0 135.6 232.0 138.0 229.2 141.0 230.2 142.5 230.0 144.0 225.9 145.0 224.9 147.0 224.7 151.0 223.4 152.8 225.0 154.0 225.5 156.0 225.6 158.0 225.0 159.3 224.0 158.2 221.0 157.7 216.0 158.3 215.0ZM152.0 220.8 152.9 221.0 152.0 221.7 151.5 221.0ZM15.0 221.7 18.0 222.0 19.2 223.0 19.6 224.0 19.3 225.0 16.1 227.0 16.1 228.0 17.0 228.7 19.0 229.2 32.0 230.4 34.0 229.7 37.0 227.5 43.0 228.1 46.0 225.9 49.0 225.0 49.6 226.0 49.0 229.0 50.0 231.1 51.0 231.3 53.0 227.7 54.0 227.3 57.5 231.0 58.7 236.0 58.0 237.1 54.0 235.7 52.0 236.3 49.0 238.6 45.5 243.0 42.7 245.0 8.1 245.0 7.7 243.0 11.1 241.0 12.4 235.0 15.7 228.0 15.7 227.0 15.0 226.9 14.0 225.7 13.4 224.0 14.0 222.1ZM89.0 237.9 91.0 237.1 92.0 237.2 95.1 239.0 99.4 240.0 100.9 242.0 101.5 245.0 73.3 245.0 73.4 243.0 72.7 241.0 73.0 239.9 76.0 240.4 81.0 239.0 86.0 240.0ZM-1.0 239.2 0.9 240.0 1.5 241.0 1.1 242.0 -2.0 242.5 -2.0 239.2ZM3.0 242.2 5.0 242.3 5.6 243.0 5.0 245.0 2.0 245.0 2.3 243.0ZM59.0 244.0 60.0 243.4 63.0 243.4 65.5 244.0 66.6 245.0 58.2 245.0ZM298.0 244.0 299.0 243.7 299.0 245.0 296.6 245.0Z"/><path fill="#ab1519" fill-rule="evenodd" d="M46.0 199.9 48.4 200.0 49.7 203.0 51.9 205.0 46.1 209.0 41.0 209.6 37.0 212.0 34.0 211.5 32.1 210.0 31.9 208.0 33.0 206.7 36.0 204.5 40.0 202.9 43.0 200.7ZM26.0 235.9 30.0 235.6 42.0 236.4 43.9 238.0 44.2 240.0 43.0 241.4 37.6 245.0 24.5 245.0 24.4 240.0 23.3 237.0Z"/></g><use href="#coast"/><use href="#borders"/></g></g><g transform="translate(638.7 94)" clip-path="url(#frame)"><g filter="url(#soft)"><rect x="-4" y="-4" width="305" height="252" fill="#fde68c"/><path fill="#fdd06c" fill-rule="evenodd" d="M107.0 -2.0 299.0 -2.0 299.0 245.0 -2.0 245.0 -2.0 18.4 7.0 19.5 21.0 24.5 30.0 25.4 42.7 31.0 52.0 35.7 57.0 38.9 61.0 42.5 69.3 52.0 72.1 54.0 76.0 55.8 82.0 56.8 95.0 56.1 109.0 56.7 112.1 55.0 113.6 52.0 114.2 49.0 114.4 44.0 113.2 30.0 114.6 19.0 113.3 13.0 107.4 0.0Z"/><path fill="#f7b04f" fill-rule="evenodd" d="M137.0 -2.0 299.0 -2.0 299.0 245.0 -2.0 245.0 -2.0 88.2 2.0 90.4 4.9 94.0 5.6 97.0 5.5 104.0 6.5 110.0 6.7 115.0 7.8 117.0 9.0 117.8 12.0 118.2 15.0 116.8 20.2 112.0 22.4 109.0 27.0 99.0 32.0 93.6 35.0 91.4 38.0 90.8 49.0 90.9 59.0 88.4 68.7 84.0 79.1 78.0 84.0 74.5 91.2 68.0 94.0 66.3 109.0 64.2 118.0 61.0 122.0 59.0 127.5 54.0 129.4 51.0 130.9 47.0 131.3 43.0 130.9 38.0 134.1 32.0 135.6 26.0Z"/><path fill="#ef8636" fill-rule="evenodd" d="M166.0 -2.0 299.0 -2.0 299.0 245.0 -2.0 245.0 -2.0 187.9 2.0 188.8 9.0 192.0 14.0 192.2 17.7 191.0 21.2 189.0 24.7 186.0 28.3 182.0 35.0 172.0 41.0 160.2 42.8 154.0 42.8 147.0 44.2 144.0 49.0 138.2 62.0 129.4 64.3 127.0 66.2 124.0 67.1 121.0 67.2 118.0 65.3 107.0 65.8 104.0 67.0 102.0 70.0 100.2 78.0 99.7 85.0 95.6 91.0 94.2 95.0 92.6 99.4 89.0 105.8 79.0 109.0 76.5 115.0 75.5 137.0 75.6 150.0 73.7 156.0 71.8 161.6 69.0 165.5 66.0 168.8 62.0 171.3 56.0 171.4 49.0 168.4 41.0 161.6 30.0 160.6 26.0 159.1 13.0 159.4 9.0 160.4 6.0 162.0 3.0Z"/><path fill="#f07c20" fill-rule="evenodd" d="M156.0 122.0 164.0 121.3 172.0 121.4 187.0 123.7 204.0 129.2 224.0 138.4 241.5 148.0 248.3 153.0 250.0 156.0 251.5 165.0 253.5 170.0 260.0 180.3 267.0 193.9 271.0 198.3 275.0 200.2 280.0 200.4 284.0 199.2 291.0 195.2 299.0 194.6 299.0 245.0 -2.0 245.0 -2.0 237.5 18.0 224.2 42.0 210.8 50.0 204.8 57.3 198.0 62.9 191.0 67.6 183.0 70.6 176.0 75.8 161.0 78.0 156.6 83.5 150.0 93.0 141.7 103.0 134.9 114.0 130.2 121.0 128.4Z"/><path fill="#eb5a38" fill-rule="evenodd" d="M157.0 158.9 164.0 158.2 168.0 159.0 172.0 160.5 180.8 166.0 189.0 174.0 193.5 181.0 194.7 187.0 194.3 190.0 193.2 193.0 189.0 197.9 185.0 200.3 181.0 201.6 177.0 202.1 173.0 201.6 169.0 200.3 166.0 198.6 162.0 195.3 159.1 192.0 154.8 186.0 149.7 177.0 148.4 174.0 147.9 171.0 148.4 167.0 150.6 163.0 153.0 160.8Z"/><g clip-path="url(#landclip)"><rect x="-4" y="-4" width="305" height="252" fill="#fff2b0"/><path fill="#fde68c" fill-rule="evenodd" d="M-1.0 -2.0 299.0 -2.0 299.0 245.0 -2.0 245.0 -2.0 -2.0ZM108.5 4.0 108.2 6.0 109.0 8.2 110.0 8.4 110.7 7.0 110.4 4.0 110.0 3.5 109.0 3.5Z"/><path fill="#fdd06c" fill-rule="evenodd" d="M-1.0 -2.0 78.8 -2.0 81.0 2.4 81.5 2.0 82.1 -2.0 106.9 -2.0 104.0 1.8 103.7 6.0 102.3 9.0 104.4 12.0 105.0 16.1 108.0 17.7 110.0 18.1 112.0 17.4 113.8 16.0 115.4 12.0 115.7 10.0 114.7 5.0 115.5 0.0 115.4 -2.0 299.0 -2.0 299.0 245.0 -2.0 245.0 -2.0 -2.0ZM82.0 3.0 82.0 3.0 82.0 3.0ZM150.8 118.0 148.9 119.0 151.0 119.0 153.1 118.0 152.0 117.7Z"/><path fill="#f7b04f" fill-rule="evenodd" d="M-1.0 -2.0 1.5 -2.0 1.6 0.0 -2.0 2.0 -2.0 -2.0ZM44.0 -2.0 47.7 -2.0 47.6 -1.0 47.0 0.1 45.0 0.3 44.0 -0.5ZM120.0 -2.0 247.5 -2.0 248.0 -0.8 249.1 0.0 254.0 -0.0 259.0 1.1 265.0 5.3 269.0 6.5 270.0 6.0 270.6 5.0 270.6 4.0 270.0 3.0 265.0 -1.2 260.0 -2.0 275.0 -2.0 276.0 -1.1 279.0 -2.0 298.6 -2.0 299.0 -1.3 299.0 245.0 -2.0 245.0 -2.0 59.1 -0.6 58.0 -0.3 57.0 -2.0 52.3 -2.0 41.6 0.8 43.0 2.7 46.0 4.0 47.1 8.0 48.2 10.0 51.0 11.0 51.7 14.0 52.6 17.2 52.0 17.9 53.0 17.6 55.0 18.3 57.0 21.5 59.0 22.5 60.0 23.0 61.9 24.0 62.0 26.1 60.0 27.6 55.0 31.4 49.0 35.0 45.1 38.0 43.4 39.1 42.0 39.2 41.0 37.0 38.4 36.7 37.0 37.0 35.9 38.0 35.0 41.0 34.1 41.3 35.0 40.9 39.0 44.0 41.0 46.0 44.2 47.0 44.4 50.0 43.1 54.0 42.8 58.0 43.4 61.0 41.6 61.6 39.0 59.2 33.0 57.1 30.0 56.8 29.0 57.4 26.0 55.5 22.0 55.9 20.0 57.9 16.0 58.4 10.0 60.0 8.1 62.4 8.0 63.6 9.0 63.8 10.0 63.6 11.0 60.4 14.0 59.9 19.0 61.0 21.0 62.0 21.6 66.0 22.5 71.0 22.2 76.0 24.0 80.0 24.1 83.0 25.7 88.0 27.3 92.0 27.5 96.0 30.8 99.0 31.5 101.0 30.5 103.0 27.8 105.0 26.5 107.0 25.9 109.0 26.2 110.0 25.9 114.5 21.0 118.9 15.0 119.5 12.0 118.0 7.0 117.8 5.0 119.6 -2.0ZM275.8 3.0 275.5 4.0 275.8 5.0 278.0 6.8 279.0 6.0 278.2 4.0 277.0 2.8ZM2.8 68.0 3.0 68.7 3.1 68.0ZM156.4 115.0 149.0 117.6 140.0 123.8 133.0 125.8 130.3 127.0 129.5 128.0 130.0 128.6 133.3 128.0 141.0 125.2 147.0 121.8 153.0 119.6 160.4 115.0 160.0 114.3ZM128.9 129.0 129.0 129.1 129.2 129.0 129.0 128.9ZM-1.8 7.0 -1.2 8.0 -2.0 8.6 -2.0 6.8ZM-1.8 21.0 -2.0 21.2 -2.0 20.6ZM17.0 20.9 18.1 21.0 17.0 22.3 16.8 22.0ZM-1.0 29.5 0.5 30.0 1.1 31.0 1.1 32.0 -0.1 35.0 -1.0 36.3 -2.0 36.7 -2.0 29.5ZM44.0 29.8 45.0 29.4 46.0 29.7 46.0 32.0 45.0 33.0 42.0 33.6 42.3 32.0ZM12.0 43.0 12.4 44.0 12.0 44.8 11.0 44.7 11.0 43.5Z"/><path fill="#ef8636" fill-rule="evenodd" d="M125.0 -2.0 195.6 -2.0 195.9 -1.0 197.0 0.0 199.0 0.8 202.3 1.0 207.0 5.0 212.0 6.3 215.0 7.7 217.0 7.8 219.4 6.0 221.0 5.6 222.0 7.0 221.7 8.0 219.6 10.0 219.4 12.0 220.0 13.7 221.0 13.9 224.0 12.2 228.0 13.6 233.0 12.8 234.1 14.0 234.2 19.0 233.0 21.5 231.0 21.4 229.0 20.4 226.0 17.9 224.7 19.0 224.5 21.0 225.1 22.0 226.6 23.0 230.0 24.2 233.0 24.0 233.3 25.0 233.0 27.1 230.2 29.0 231.0 29.5 239.0 31.5 240.2 31.0 240.9 30.0 242.0 26.6 248.0 23.8 250.0 23.7 251.0 24.5 251.7 26.0 252.0 29.2 251.0 29.6 249.0 29.4 248.0 29.9 247.3 31.0 248.0 32.0 252.0 31.1 253.9 35.0 255.0 35.5 257.0 35.0 260.0 31.5 261.0 31.1 262.0 31.6 262.5 34.0 261.6 38.0 261.8 41.0 264.9 43.0 266.0 45.7 267.0 46.3 273.0 46.2 273.7 46.0 274.0 45.0 270.0 44.3 268.3 43.0 269.0 40.0 268.4 39.0 264.4 37.0 263.7 36.0 263.6 35.0 264.2 34.0 265.6 33.0 269.0 31.8 271.0 30.3 272.0 30.2 273.0 32.0 271.7 37.0 271.5 38.0 272.0 38.8 276.0 39.2 277.8 40.0 280.0 42.0 281.0 41.9 282.6 41.0 281.4 36.0 280.0 33.0 280.5 27.0 281.0 26.2 284.0 25.0 287.0 22.7 288.0 22.5 292.0 25.5 293.0 25.7 297.6 23.0 297.9 21.0 299.0 20.0 299.0 245.0 -2.0 245.0 -2.0 131.0 0.0 132.0 2.0 131.4 3.1 130.0 3.6 128.0 3.4 127.0 1.2 124.0 0.8 122.0 1.1 120.0 2.5 117.0 1.7 116.0 -2.0 113.4 -2.0 94.9 2.0 96.9 3.0 96.8 4.0 95.7 6.0 95.1 9.0 96.6 14.0 97.2 15.8 96.0 15.9 93.0 18.0 91.7 19.0 91.9 19.5 93.0 19.1 96.0 20.0 97.7 25.0 96.7 26.5 95.0 27.9 91.0 25.7 87.0 26.0 84.6 26.9 83.0 25.6 81.0 25.6 80.0 27.0 77.3 29.4 76.0 29.9 75.0 29.9 72.0 31.1 69.0 33.0 67.3 36.0 66.8 37.7 68.0 39.0 70.0 40.0 70.1 42.5 67.0 46.0 65.2 51.0 66.4 54.0 65.6 56.0 66.5 56.9 64.0 56.1 60.0 56.6 59.0 57.0 58.6 59.0 60.1 60.0 59.9 60.7 59.0 60.3 58.0 58.8 57.0 58.2 56.0 59.2 54.0 60.5 53.0 68.0 52.6 68.3 54.0 67.1 56.0 67.1 57.0 68.0 59.3 69.0 59.4 71.0 58.0 77.0 51.4 80.0 49.0 82.0 49.7 91.0 50.2 92.1 51.0 94.0 54.2 95.0 55.0 98.0 55.2 101.0 56.0 104.0 54.7 108.0 55.4 109.0 55.0 110.4 53.0 110.5 52.0 108.4 48.0 108.3 46.0 109.0 44.0 110.0 43.0 114.0 40.0 116.0 39.9 118.0 41.5 119.0 41.6 122.0 39.3 126.0 38.9 127.3 38.0 127.7 37.0 127.0 35.7 125.0 34.9 124.2 34.0 123.1 31.0 121.1 28.0 120.7 26.0 121.4 22.0 122.8 19.0 124.5 13.0 123.1 9.0 122.5 4.0 122.7 2.0 124.2 -2.0ZM292.4 33.0 290.0 33.6 288.8 35.0 289.0 41.1 290.5 39.0 293.0 36.9 294.2 35.0 294.0 33.5ZM225.7 39.0 223.7 41.0 224.0 41.8 226.0 40.0 226.2 39.0ZM216.5 40.0 215.8 41.0 216.0 42.0 217.0 42.2 218.4 41.0 218.0 39.8ZM115.9 44.0 114.9 45.0 114.3 47.0 114.4 51.0 114.8 52.0 116.0 52.5 116.4 52.0 116.1 50.0 117.0 49.2 118.0 49.5 120.3 52.0 121.8 57.0 121.3 61.0 122.0 61.8 123.0 61.9 124.3 60.0 124.4 58.0 125.7 55.0 125.9 52.0 125.0 50.5 123.3 49.0 122.0 46.3 119.0 45.1 117.0 43.5ZM285.6 50.0 285.3 51.0 286.0 52.0 288.0 52.7 288.8 52.0 288.9 51.0 288.0 49.7 287.0 49.5ZM110.4 59.0 111.0 59.6 112.0 59.7 113.5 59.0 111.0 58.3ZM64.4 62.0 63.3 64.0 63.3 65.0 64.0 65.7 66.0 64.9 67.0 63.0 67.0 61.9 66.0 61.0ZM117.2 70.0 115.0 70.7 112.6 73.0 111.7 74.0 111.5 75.0 112.0 75.8 113.0 76.3 114.9 76.0 118.0 73.5 122.0 73.1 122.9 72.0 121.0 69.4 119.0 69.2ZM289.8 71.0 290.0 71.6 290.2 71.0ZM27.4 83.0 29.0 84.0 29.5 83.0 29.0 82.3ZM30.4 88.0 29.8 91.0 32.4 95.0 33.0 98.4 34.1 99.0 39.0 99.4 42.0 97.3 42.4 96.0 42.0 95.0 38.1 93.0 33.0 87.6 31.0 87.1ZM18.4 99.0 17.2 101.0 17.4 102.0 18.0 102.3 19.0 101.7 19.5 100.0 19.0 98.5ZM11.6 105.0 10.0 106.5 9.5 108.0 9.8 109.0 12.0 110.6 14.0 111.0 17.0 110.0 20.0 110.4 20.6 110.0 18.8 108.0 13.0 105.0ZM155.6 114.0 150.0 115.5 148.0 116.4 139.1 123.0 133.0 124.6 130.0 125.9 123.9 132.0 123.5 133.0 124.0 138.2 125.5 133.0 129.0 130.7 142.0 126.0 150.0 124.6 153.9 123.0 155.3 122.0 157.4 119.0 161.0 116.4 161.8 115.0 161.7 114.0 160.0 113.0ZM239.5 137.0 237.6 138.0 238.9 139.0 244.0 139.9 245.0 139.9 249.8 138.0 249.9 137.0 243.0 136.1ZM75.0 45.7 76.8 46.0 77.0 46.7 79.0 45.7 81.0 45.7 81.7 47.0 81.0 48.4 80.0 49.0 78.0 47.2 77.0 47.0 74.4 48.0 73.0 48.0ZM97.0 48.4 98.0 48.3 103.0 49.9 103.4 51.0 103.1 52.0 101.0 50.7 98.0 51.2 97.0 50.7 96.4 50.0 96.3 49.0Z"/><path fill="#f07c20" fill-rule="evenodd" d="M134.0 -1.2 134.7 -2.0 181.4 -2.0 182.0 -1.2 183.0 -0.9 186.2 -2.0 186.9 0.0 185.4 7.0 185.9 10.0 187.0 12.7 188.0 14.1 189.0 14.0 191.0 11.5 193.0 12.0 194.0 13.0 194.7 17.0 197.6 23.0 199.0 23.8 203.0 24.1 204.0 24.6 205.0 25.9 205.4 29.0 202.8 35.0 203.2 41.0 205.1 43.0 205.0 46.0 205.6 47.0 208.0 48.3 210.0 48.2 212.0 47.4 214.0 47.7 216.0 49.0 218.6 52.0 219.2 54.0 218.9 58.0 217.9 60.0 218.2 62.0 219.0 62.5 219.6 62.0 219.4 59.0 220.0 58.2 224.0 57.8 226.6 55.0 228.0 54.4 230.0 54.7 233.1 59.0 233.5 61.0 233.1 64.0 234.0 65.5 238.0 67.5 242.8 69.0 245.7 71.0 248.0 71.5 250.0 73.5 252.0 74.2 255.0 74.1 256.0 73.5 256.3 73.0 255.6 70.0 256.2 69.0 258.0 68.2 262.8 71.0 264.0 73.3 265.0 74.0 266.0 73.5 266.4 73.0 265.1 70.0 265.3 69.0 266.5 67.0 268.0 66.7 269.4 68.0 269.7 72.0 271.2 75.0 271.5 79.0 271.1 84.0 272.0 84.9 275.0 86.1 277.0 90.0 279.6 88.0 281.0 87.6 299.0 85.3 299.0 245.0 -2.0 245.0 -2.0 151.2 0.0 151.4 2.0 152.6 4.0 152.6 5.5 152.0 7.1 149.0 8.0 148.5 10.0 149.0 11.0 148.6 20.0 138.1 25.1 134.0 26.2 132.0 23.0 131.2 21.4 129.0 21.1 127.0 22.0 125.0 24.0 125.2 27.0 126.8 32.0 127.8 35.0 126.8 38.0 123.6 40.0 122.6 41.9 124.0 42.6 128.0 44.9 133.0 46.0 133.2 50.0 131.2 52.0 128.0 55.0 127.1 56.0 126.2 56.5 123.0 57.6 122.0 59.0 121.8 61.0 122.8 62.0 122.7 65.4 118.0 65.4 117.0 64.5 116.0 60.0 113.3 58.0 113.6 53.5 116.0 52.6 117.0 52.0 119.9 51.0 120.7 47.7 120.0 46.1 119.0 45.5 118.0 46.0 116.0 48.6 114.0 51.2 108.0 52.6 107.0 55.0 106.8 59.0 108.1 61.0 105.8 63.0 105.8 67.0 108.0 67.7 111.0 67.3 114.0 68.0 115.0 70.0 115.1 71.0 114.4 71.5 113.0 70.7 110.0 71.9 107.0 71.1 104.0 70.9 101.0 69.0 97.9 67.5 94.0 67.8 87.0 66.6 84.0 66.5 82.0 78.4 77.0 81.0 72.5 86.0 71.5 88.0 71.8 89.4 73.0 91.2 77.0 92.8 78.0 96.0 79.2 99.0 78.6 101.9 81.0 106.0 82.2 111.0 87.4 115.0 87.8 119.0 89.0 120.0 88.6 122.9 84.0 121.8 81.0 122.8 79.0 129.0 77.0 130.2 76.0 131.4 74.0 130.4 69.0 131.4 60.0 132.8 53.0 131.5 50.0 131.3 48.0 131.6 45.0 133.0 42.8 133.3 41.0 132.8 35.0 129.7 30.0 129.5 27.0 128.7 24.0 128.5 18.0 130.3 12.0 128.9 8.0 128.5 5.0 128.8 3.0 130.0 1.0ZM205.7 82.0 203.7 83.0 203.6 84.0 207.3 84.0 208.0 83.4 208.1 83.0 207.1 82.0ZM218.5 83.0 216.1 84.0 216.6 85.0 222.0 86.3 223.0 87.0 225.4 94.0 226.0 94.4 229.0 94.3 231.0 94.7 237.0 100.5 238.0 100.7 239.4 100.0 239.0 97.0 238.0 95.0 234.0 92.3 229.0 86.6 224.0 86.3 223.0 85.8 221.9 84.0 221.0 83.3ZM74.8 93.0 75.0 94.2 76.0 95.2 76.4 94.0 76.0 93.1ZM229.2 102.0 227.8 103.0 225.0 108.4 224.9 110.0 226.0 111.0 228.0 110.9 233.0 109.3 235.8 107.0 237.2 105.0 237.5 103.0 237.0 102.1 234.0 102.8ZM164.7 110.0 158.0 111.4 153.0 111.5 149.0 112.6 145.0 115.0 139.0 120.6 137.0 121.4 132.0 122.4 129.0 124.2 122.2 132.0 122.4 138.0 123.0 141.0 124.0 143.2 124.6 143.0 124.9 142.0 126.2 134.0 129.0 132.1 140.0 128.6 145.0 127.9 151.0 127.8 158.0 125.2 161.0 120.9 165.0 118.6 169.3 112.0 169.5 111.0 168.6 110.0 167.0 109.7ZM251.5 123.0 242.0 126.6 237.5 130.0 237.7 131.0 240.6 132.0 241.7 133.0 235.0 136.0 233.9 138.0 234.0 139.0 235.0 140.5 239.0 142.2 245.0 142.8 251.0 140.2 252.5 139.0 253.1 137.0 252.0 134.8 251.0 134.2 247.8 134.0 244.1 133.0 243.1 132.0 249.0 128.7 251.0 127.1 253.8 123.0ZM96.8 137.0 96.4 139.0 97.0 141.1 98.0 142.4 99.0 142.2 100.1 140.0 100.0 137.2 99.0 136.3 98.0 136.2ZM225.3 158.0 225.9 161.0 227.3 163.0 230.0 165.0 232.0 165.2 231.5 163.0 229.0 159.0 227.0 157.6 226.0 157.4ZM38.9 159.0 41.0 159.3 42.5 159.0 41.0 158.8ZM73.4 161.0 74.0 161.8 74.2 161.0ZM82.2 164.0 83.7 165.0 87.0 165.1 90.5 167.0 94.0 168.0 95.3 168.0 96.4 167.0 96.0 165.0 95.0 164.6 91.0 164.3 86.0 164.9 84.6 164.0ZM190.0 194.0 190.0 195.1 191.3 195.0 191.0 193.8ZM298.0 72.9 299.0 72.3 299.0 74.8 298.0 74.0ZM-1.9 140.0 3.0 141.9 4.1 144.0 3.4 146.0 1.0 146.6 -2.0 145.7Z"/><path fill="#eb5a38" fill-rule="evenodd" d="M148.0 -1.6 148.2 -2.0 162.5 -2.0 163.0 1.5 165.0 6.2 167.0 7.7 170.0 8.3 174.0 12.0 174.5 13.0 174.3 15.0 170.7 20.0 169.9 25.0 171.0 25.6 174.0 25.9 175.1 27.0 175.5 29.0 172.0 34.8 171.0 35.4 169.0 35.5 168.4 36.0 169.0 37.3 172.0 38.3 175.0 40.7 178.1 41.0 178.0 42.0 173.0 44.5 172.0 46.0 171.6 49.0 172.7 53.0 170.9 55.0 171.0 55.4 171.3 56.0 173.0 56.1 176.0 54.6 177.9 52.0 181.1 49.0 182.0 46.8 183.0 46.4 187.0 46.9 191.0 51.2 197.6 53.0 198.3 54.0 199.0 57.0 202.3 59.0 202.8 61.0 202.6 64.0 203.0 65.5 208.9 70.0 208.7 71.0 207.0 72.4 202.0 72.7 199.7 76.0 199.5 78.0 198.9 79.0 194.8 84.0 194.2 85.0 194.3 86.0 196.0 87.0 204.0 88.1 207.3 90.0 210.0 94.1 212.9 97.0 213.2 100.0 215.0 104.0 216.0 105.2 220.0 107.4 221.0 108.5 221.1 110.0 219.1 114.0 220.0 115.7 222.3 116.0 230.0 113.6 234.0 111.5 239.0 107.8 241.0 104.4 243.8 102.0 247.0 96.1 251.0 97.1 252.3 97.0 253.9 96.0 254.8 95.0 255.0 93.0 254.0 91.7 251.0 90.2 250.0 90.2 247.6 92.0 246.7 95.0 246.0 95.5 244.0 95.0 244.0 94.0 246.9 92.0 248.3 88.0 250.0 86.3 254.0 85.5 256.0 87.3 259.0 88.5 262.7 92.0 263.2 93.0 261.6 95.0 261.9 96.0 263.5 97.0 266.0 97.7 270.0 97.7 273.0 98.8 277.0 99.2 278.2 100.0 278.4 102.0 274.7 114.0 273.9 119.0 271.8 123.0 272.2 125.0 273.8 127.0 277.0 129.5 281.0 130.2 284.0 131.3 287.0 126.8 289.0 125.6 291.0 125.5 292.0 127.0 291.9 128.0 287.3 134.0 287.2 135.0 289.1 137.0 295.0 141.1 299.0 141.7 299.0 153.3 297.8 156.0 297.9 157.0 299.0 158.3 299.0 245.0 -2.0 245.0 -2.0 172.1 -1.6 171.0 -2.0 169.9 -2.0 163.8 2.0 161.6 7.0 161.5 10.0 160.8 15.0 162.5 18.0 164.4 19.0 164.5 23.0 163.1 25.7 161.0 28.0 160.1 32.0 161.1 34.0 160.3 37.0 161.6 39.0 161.8 49.4 161.0 50.6 160.0 50.9 158.0 50.0 156.5 49.0 156.0 43.0 156.6 37.0 155.8 33.0 157.7 32.0 157.1 29.6 154.0 29.1 152.0 29.4 149.0 30.6 147.0 31.6 146.0 33.0 145.8 39.0 147.2 41.0 146.6 45.0 147.5 46.0 147.0 48.0 144.9 52.0 144.8 53.1 144.0 55.0 140.6 57.4 139.0 57.7 135.0 59.0 133.4 60.0 133.5 67.0 137.2 69.6 137.0 72.0 134.0 72.0 133.0 69.4 129.0 70.5 128.0 73.0 128.0 76.6 129.0 80.0 132.3 82.0 133.7 83.0 133.7 90.0 131.5 93.3 128.0 93.5 127.0 92.8 125.0 98.3 115.0 97.9 108.0 97.4 106.0 98.0 104.5 99.3 105.0 100.4 107.0 107.0 108.9 108.0 110.0 108.6 112.0 106.8 116.0 107.0 117.1 107.8 118.0 112.0 118.2 114.0 120.5 118.0 121.5 120.0 123.1 120.8 125.0 120.6 126.0 119.0 128.1 118.4 130.0 119.2 137.0 125.0 148.0 126.0 147.7 126.2 147.0 126.0 141.0 128.0 135.3 130.0 134.0 138.0 130.9 147.0 129.8 153.0 129.8 163.0 128.2 167.0 129.9 169.0 129.8 172.0 131.2 174.0 131.4 175.7 131.0 175.1 129.0 171.5 125.0 170.0 122.0 170.1 119.0 172.6 111.0 172.0 109.0 171.0 108.1 167.0 107.1 163.0 107.3 158.0 108.2 154.0 107.2 151.0 107.0 150.0 107.2 145.0 110.3 143.0 110.0 142.5 109.0 144.0 105.2 147.0 103.8 147.6 103.0 150.6 94.0 148.0 91.8 144.3 87.0 143.5 85.0 143.6 84.0 145.0 82.5 149.0 82.1 149.4 81.0 146.8 77.0 147.3 73.0 147.0 71.8 144.0 68.6 143.0 68.2 142.5 69.0 141.0 69.6 139.6 69.0 137.7 64.0 137.5 62.0 138.0 60.9 140.0 60.1 144.0 59.6 146.0 60.9 147.0 61.0 148.0 60.0 148.8 57.0 147.0 54.0 146.9 53.0 148.4 50.0 147.0 49.1 144.0 44.7 140.7 41.0 140.3 38.0 137.9 32.0 137.6 30.0 138.0 28.0 139.9 25.0 139.9 24.0 139.0 22.0 136.6 19.0 136.7 18.0 138.8 15.0 137.4 9.0 137.8 7.0 139.5 5.0 143.0 3.2 143.2 1.0 143.7 0.0 147.0 -0.7ZM168.1 82.0 170.0 82.4 170.4 82.0 169.0 81.6ZM253.6 120.0 248.0 122.2 243.0 122.5 237.0 127.3 228.0 127.5 226.0 128.4 225.2 130.0 226.0 131.9 227.0 132.6 232.8 134.0 230.2 138.0 230.1 140.0 236.0 146.7 237.7 148.0 237.8 149.0 237.0 149.5 233.0 148.8 231.0 150.2 226.0 152.5 224.6 152.0 221.0 148.4 217.0 146.1 214.0 142.0 213.0 141.6 205.0 139.7 199.0 137.7 195.0 135.1 192.0 134.3 185.0 133.0 181.0 132.9 180.0 133.2 179.6 134.0 179.7 135.0 181.0 136.9 183.3 139.0 184.6 142.0 188.0 142.1 191.0 144.0 192.2 146.0 193.6 147.0 195.0 147.1 197.0 146.5 201.0 144.4 204.0 145.7 209.0 146.3 210.9 147.0 212.3 149.0 218.0 153.5 221.5 158.0 222.3 160.0 222.0 164.1 223.0 164.8 226.0 165.3 232.0 168.7 235.5 170.0 238.0 171.7 240.0 172.3 240.7 171.0 240.8 168.0 242.0 166.0 242.1 165.0 240.0 164.7 239.5 164.0 240.4 160.0 242.0 158.1 246.0 159.0 248.0 159.0 249.4 158.0 250.0 156.6 253.0 154.5 253.0 152.5 249.8 151.0 249.5 150.0 250.2 145.0 251.1 143.0 255.3 139.0 257.0 134.4 259.0 133.4 262.0 133.5 264.0 133.1 267.0 133.6 268.3 133.0 268.5 132.0 268.0 130.5 267.0 130.5 264.0 132.5 263.0 132.7 259.0 129.8 255.0 129.0 254.4 128.0 254.5 127.0 257.4 124.0 257.7 122.0 256.0 120.0ZM104.9 125.0 104.6 127.0 105.0 127.8 106.0 126.0 105.6 125.0ZM104.8 132.0 102.0 132.7 97.0 132.5 95.0 133.5 93.9 135.0 92.4 139.0 92.6 140.0 94.6 144.0 98.0 147.6 101.0 148.0 102.0 147.0 101.8 144.0 103.0 141.4 107.0 137.8 108.2 136.0 108.4 134.0 108.0 133.0 106.0 131.5ZM284.9 134.0 285.0 134.1 285.2 134.0 285.0 133.8ZM62.9 143.0 61.4 144.0 62.0 145.3 64.0 145.3 65.9 144.0 65.5 143.0ZM201.2 150.0 200.8 152.0 201.9 154.0 207.0 155.8 207.9 154.0 207.0 152.0 203.0 149.2 202.0 149.2ZM73.3 159.0 72.0 159.7 71.5 161.0 72.0 162.6 73.0 163.3 77.0 164.2 82.0 166.4 87.0 167.2 94.0 169.8 96.0 169.7 97.8 168.0 97.8 165.0 96.0 163.1 82.0 161.7ZM140.4 163.0 139.8 164.0 140.0 167.4 141.0 168.8 143.0 168.9 144.5 167.0 144.3 165.0 143.0 162.9 142.0 162.5ZM2.8 181.0 2.2 183.0 3.0 184.9 4.0 184.6 5.3 182.0 5.0 180.6 4.0 180.1ZM246.9 183.0 247.0 183.2 248.2 183.0 247.0 182.1ZM269.8 187.0 267.0 187.5 265.0 189.1 263.6 191.0 264.0 193.1 265.0 193.6 269.0 193.5 274.0 192.7 275.4 192.0 276.1 190.0 275.7 188.0 275.0 187.2 273.0 186.6ZM188.7 192.0 187.8 194.0 188.4 196.0 190.0 197.2 192.0 196.9 193.4 195.0 193.0 192.6 191.0 191.5ZM265.4 213.0 264.7 215.0 264.8 217.0 266.4 219.0 267.1 222.0 268.0 223.3 269.0 223.5 272.0 221.8 277.0 224.7 279.0 224.9 283.0 223.0 285.0 222.9 286.2 222.0 286.6 221.0 285.7 217.0 283.0 214.3 281.8 214.0 281.0 214.7 280.0 217.6 279.0 217.7 270.0 214.0 266.0 212.7ZM55.9 214.0 57.0 214.2 57.0 214.0 57.0 214.0ZM109.6 219.0 108.9 220.0 109.0 221.0 111.0 222.5 115.0 223.3 117.0 222.7 116.7 221.0 115.0 219.7ZM286.0 227.0 286.0 227.0 287.0 227.7 287.0 226.9ZM216.0 88.9 217.0 89.1 218.1 90.0 218.0 91.6 217.0 92.8 216.0 92.5 214.8 90.0ZM94.0 98.5 95.0 98.0 96.0 98.3 96.9 100.0 96.0 101.4 93.0 102.5 92.0 102.0ZM138.0 103.7 139.0 103.5 139.6 104.0 139.4 105.0 138.3 106.0 137.9 109.0 136.0 110.3 135.3 109.0 136.0 108.0 137.8 107.0ZM299.0 112.0 299.0 129.9 297.0 130.0 296.0 129.0 296.5 126.0 296.0 124.5 294.0 123.0 292.0 122.5 291.9 122.0 292.9 119.0 294.6 116.0Z"/><path fill="#e8433a" fill-rule="evenodd" d="M150.0 4.7 152.0 5.2 154.4 7.0 157.5 14.0 156.0 20.0 156.5 21.0 161.0 24.9 161.8 27.0 161.6 30.0 158.3 36.0 159.4 42.0 158.0 44.5 157.0 45.0 154.0 43.1 149.0 42.7 147.5 42.0 146.8 41.0 146.4 37.0 143.6 33.0 143.6 31.0 146.4 24.0 144.1 20.0 143.3 13.0 143.5 11.0 144.0 10.0 147.0 8.0 149.0 5.0ZM173.0 63.9 175.0 63.3 176.0 64.0 178.0 67.2 179.0 67.1 181.0 65.7 182.0 65.8 185.5 68.0 186.6 70.0 187.1 74.0 188.1 77.0 188.2 81.0 187.6 85.0 189.0 89.0 191.0 90.9 195.6 91.0 201.0 94.9 204.9 99.0 208.0 105.0 210.5 108.0 211.1 112.0 214.3 117.0 214.3 119.0 213.0 119.4 210.0 118.2 206.0 118.7 202.8 122.0 202.0 124.0 203.0 125.3 206.1 126.0 206.2 127.0 203.8 129.0 203.9 130.0 207.0 131.7 207.6 133.0 207.0 134.4 206.0 134.8 204.0 134.0 201.0 132.4 198.0 129.9 194.0 131.1 188.0 129.9 184.0 130.4 181.0 130.1 177.0 127.3 175.3 125.0 174.6 119.0 176.5 112.0 175.4 108.0 173.8 106.0 167.0 104.0 166.0 103.0 165.5 100.0 168.0 95.2 169.0 94.9 172.0 95.3 173.0 94.9 174.0 93.8 175.4 90.0 176.5 89.0 180.0 87.3 180.1 86.0 177.0 81.3 175.0 79.7 171.0 78.0 164.0 77.6 162.6 77.0 164.6 71.0 164.6 70.0 162.6 68.0 162.3 67.0 164.0 66.3 167.0 67.1 171.0 65.3ZM248.0 103.8 250.0 103.2 251.0 103.4 252.3 104.0 253.7 106.0 253.9 108.0 252.9 114.0 252.2 115.0 251.0 115.6 249.0 115.5 246.0 114.0 245.3 113.0 244.7 107.0ZM260.0 114.9 260.3 116.0 260.0 116.3 259.6 116.0ZM217.0 124.3 220.0 124.3 222.4 126.0 222.3 127.0 221.5 128.0 218.0 130.6 217.0 129.9 215.7 127.0 216.0 125.1ZM140.0 131.9 150.0 131.6 159.0 132.5 163.0 133.9 163.9 135.0 165.0 138.1 167.2 141.0 166.0 146.5 165.0 147.7 164.0 147.9 160.0 147.1 157.0 147.5 156.0 148.0 156.5 149.0 158.0 150.5 161.0 151.8 168.0 157.8 170.0 157.7 170.7 157.0 171.5 155.0 170.9 152.0 172.0 151.0 174.0 150.4 176.0 150.7 180.0 155.9 181.0 156.5 187.0 156.0 189.0 155.2 190.0 156.0 191.4 160.0 191.6 161.0 190.9 164.0 192.9 167.0 192.8 168.0 190.5 172.0 189.0 172.5 188.0 172.1 187.0 169.0 184.3 167.0 182.6 165.0 178.1 163.0 175.0 160.4 172.0 160.6 170.0 161.3 167.0 164.9 166.0 165.2 164.0 164.8 161.0 162.0 159.0 162.1 157.3 163.0 156.0 165.6 155.0 166.3 153.0 165.4 150.9 163.0 149.3 162.0 143.0 160.6 139.9 161.0 136.0 162.4 134.5 164.0 133.9 166.0 134.6 169.0 132.5 173.0 134.1 175.0 138.0 177.1 141.0 177.9 142.0 178.6 143.5 183.0 142.8 187.0 139.0 191.9 138.0 192.0 133.0 188.8 132.0 188.6 129.0 189.7 128.0 189.4 127.7 189.0 128.0 188.1 129.6 187.0 129.4 186.0 127.0 185.9 126.0 185.4 125.6 184.0 127.7 180.0 127.0 175.1 124.0 173.8 122.0 171.1 121.0 170.6 118.0 172.0 115.7 172.0 113.2 171.0 112.0 168.8 108.5 168.0 107.9 167.0 108.0 164.0 105.0 160.8 103.0 159.8 100.0 160.6 98.1 159.0 97.4 157.0 97.2 153.0 97.8 152.0 100.0 151.5 102.0 151.8 105.0 153.0 107.0 152.6 107.9 151.0 108.3 146.0 109.8 143.0 110.2 141.0 112.0 138.8 113.0 138.6 116.0 140.9 120.2 143.0 122.0 144.9 124.0 148.6 125.0 149.4 126.0 149.5 127.5 148.0 128.0 142.3 128.8 140.0 130.6 137.0 132.0 135.7 136.8 133.0ZM113.5 167.0 112.6 168.0 113.0 168.5 115.4 168.0 115.0 166.9ZM214.0 132.8 215.0 132.4 216.0 133.0 215.0 134.3 214.2 134.0ZM176.0 138.6 177.2 140.0 177.1 141.0 176.0 141.6 175.0 141.1 174.8 140.0 175.0 139.2ZM280.0 140.7 282.0 141.3 286.0 143.5 290.0 143.4 295.5 147.0 295.5 148.0 294.0 150.3 293.5 152.0 295.8 159.0 299.0 160.7 299.0 168.0 296.0 169.7 294.0 172.1 291.0 172.6 289.4 172.0 289.0 168.0 288.0 166.6 281.0 165.1 278.0 162.3 275.0 162.6 274.0 162.1 271.2 157.0 269.5 151.0 270.8 145.0 272.0 144.2 275.0 143.9 277.3 142.0ZM274.8 146.0 275.8 147.0 277.0 147.2 278.0 146.0 276.0 145.1ZM69.0 153.7 71.0 153.7 72.0 155.0 70.1 160.0 70.7 163.0 72.0 164.1 77.0 165.7 81.0 167.8 87.0 169.4 89.1 172.0 90.0 177.2 95.0 179.4 96.0 179.3 97.0 178.5 100.0 174.9 101.0 174.6 104.0 176.0 109.0 176.0 113.2 178.0 115.4 181.0 118.8 184.0 118.9 187.0 116.0 190.7 115.3 193.0 115.6 194.0 118.0 197.0 117.9 198.0 114.0 201.8 113.0 202.0 110.6 201.0 109.0 198.6 108.1 199.0 108.4 201.0 102.0 203.5 101.0 203.4 100.4 202.0 100.6 200.0 100.0 199.0 97.0 200.0 93.0 199.1 89.0 195.2 84.0 192.6 81.0 187.0 80.0 186.7 78.0 187.8 75.2 191.0 75.0 192.0 76.0 196.0 74.7 198.0 74.9 200.0 77.0 201.2 81.0 201.2 83.4 202.0 85.3 204.0 84.9 207.0 86.0 208.2 90.0 208.7 93.0 207.2 94.0 207.0 95.0 207.6 95.2 208.0 94.1 211.0 98.4 217.0 98.4 221.0 99.3 222.0 101.0 222.5 104.0 222.5 107.0 224.4 110.0 225.5 115.4 226.0 129.0 229.7 130.1 229.0 130.3 227.0 129.3 226.0 126.0 224.5 124.6 222.0 125.0 219.5 126.5 217.0 128.0 216.1 130.0 215.6 135.0 217.6 138.0 217.9 142.0 217.0 146.0 215.0 147.5 214.0 148.4 212.0 148.0 210.9 146.0 210.1 144.9 208.0 145.1 207.0 147.0 206.1 148.3 209.0 149.0 209.5 151.0 208.6 151.7 207.0 150.6 205.0 150.4 203.0 152.0 200.3 154.0 200.0 155.0 201.5 155.8 201.0 154.8 199.0 156.0 198.0 159.0 197.8 162.0 196.4 166.0 196.3 167.0 195.7 170.0 191.8 172.0 191.8 173.0 193.0 171.1 199.0 171.2 200.0 172.0 201.1 179.0 196.7 181.0 196.5 185.0 198.1 185.6 200.0 184.9 203.0 185.7 204.0 187.0 204.4 188.7 204.0 196.0 200.1 197.0 200.1 199.0 202.5 200.0 202.4 201.3 201.0 202.7 197.0 204.0 195.3 205.0 194.9 207.0 195.2 209.0 193.7 210.0 193.8 210.2 195.0 208.0 196.1 206.7 200.0 206.7 202.0 207.8 204.0 211.0 205.5 215.0 206.2 217.0 208.3 218.0 208.7 220.0 208.2 222.0 206.8 223.6 207.0 224.6 208.0 224.7 209.0 222.0 212.3 221.4 214.0 221.8 215.0 224.0 216.1 226.7 216.0 227.0 215.0 225.7 212.0 225.6 209.0 227.0 207.8 228.0 207.4 229.0 207.7 231.0 210.0 231.9 213.0 234.7 217.0 235.4 220.0 231.7 227.0 233.0 232.0 232.0 233.8 229.0 235.7 228.2 239.0 229.0 241.2 230.0 241.5 233.0 241.3 234.0 241.7 236.0 245.0 53.0 245.0 55.0 244.1 56.0 242.0 55.4 240.0 54.0 239.3 52.0 240.0 49.6 242.0 48.6 244.0 49.1 245.0 -2.0 245.0 -2.0 215.7 2.0 216.3 3.3 216.0 4.5 214.0 4.0 212.6 3.0 211.8 5.0 212.0 10.0 209.5 13.0 205.5 13.4 204.0 13.3 201.0 14.4 197.0 14.0 195.3 12.7 194.0 12.5 193.0 15.3 189.0 15.2 186.0 15.6 183.0 19.0 180.9 19.6 180.0 19.8 177.0 23.7 174.0 27.0 168.5 28.0 168.2 31.0 169.3 32.0 169.2 35.0 167.0 42.0 166.2 45.0 164.4 49.0 163.6 51.0 162.6 54.0 159.1 56.0 159.3 58.3 161.0 60.0 161.4 61.0 161.0 64.0 157.8 66.0 155.0ZM183.8 209.0 182.7 210.0 182.3 212.0 183.5 215.0 185.0 215.4 186.6 214.0 187.2 211.0 186.0 209.0 185.0 208.6ZM212.1 211.0 212.0 212.1 213.0 212.9 214.5 212.0 214.6 211.0 214.0 210.0 213.0 210.1ZM53.0 213.0 51.8 214.0 51.8 215.0 53.0 216.2 57.0 216.6 58.5 216.0 59.1 215.0 58.5 213.0 57.0 212.3ZM12.6 214.0 11.9 216.0 12.3 217.0 14.6 217.0 15.2 216.0 14.7 214.0 14.0 213.0 13.0 213.3ZM69.0 215.0 68.0 218.0 68.3 221.0 66.8 224.0 67.1 225.0 69.0 226.0 73.0 224.5 74.0 224.8 78.0 228.9 80.0 229.7 82.0 229.5 87.0 227.5 89.5 226.0 92.0 223.5 95.0 223.1 95.9 222.0 95.6 221.0 92.0 217.4 86.0 214.3 85.0 214.6 84.0 217.1 83.0 218.2 82.0 218.6 81.0 218.2 80.0 216.6 79.0 216.1 75.0 217.9 73.0 218.1 71.7 217.0 70.8 215.0 70.0 214.5ZM24.8 220.0 25.0 221.0 25.8 220.0 25.0 219.7ZM4.2 221.0 0.0 221.7 -0.9 222.0 -1.7 223.0 -1.5 224.0 0.0 226.0 4.0 229.4 5.0 229.5 6.0 228.5 7.0 225.6 9.0 223.9 9.8 222.0 9.0 220.3 8.0 220.0ZM203.9 221.0 204.0 221.4 205.0 222.3 205.0 220.6ZM206.0 164.8 207.0 164.3 209.5 165.0 210.2 168.0 212.3 170.0 212.5 171.0 211.3 174.0 211.9 176.0 215.0 176.4 218.0 178.8 223.0 179.1 224.2 180.0 224.6 183.0 223.0 183.9 219.0 185.0 218.0 184.7 216.0 183.0 215.0 182.8 209.0 182.7 206.0 185.0 205.0 184.3 203.5 180.0 204.5 175.0 203.8 170.0ZM168.0 167.9 169.0 167.8 171.0 169.4 173.8 175.0 173.9 177.0 172.0 178.0 165.0 177.8 162.0 178.3 160.0 179.3 159.1 179.0 157.6 175.0 158.0 174.4 161.0 175.5 162.0 174.6 163.3 170.0 166.0 169.5ZM178.0 168.9 180.0 169.2 181.1 170.0 181.5 171.0 180.0 172.0 178.0 171.5 177.3 170.0ZM297.0 172.0 299.0 171.9 299.0 178.6 296.0 179.3 294.8 179.0 294.2 178.0 294.5 173.0 295.0 172.3ZM234.0 174.9 235.7 175.0 236.5 176.0 236.9 181.0 233.9 184.0 233.3 188.0 232.0 189.3 230.0 190.4 229.0 189.7 228.9 188.0 230.3 184.0 233.1 179.0 233.2 176.0ZM227.0 176.5 227.7 177.0 227.0 177.6 226.6 177.0ZM-1.0 207.4 0.2 208.0 0.9 209.0 0.0 209.8 -2.0 210.1 -2.0 207.0ZM266.0 229.9 268.0 229.9 269.1 231.0 270.6 234.0 272.8 237.0 272.6 238.0 272.0 238.5 270.0 238.5 264.1 235.0 264.0 233.0ZM293.0 234.9 295.0 234.0 299.0 235.4 299.0 245.0 278.4 245.0 277.4 242.0 277.7 241.0 280.3 240.0 282.0 236.6 283.0 236.0 286.0 235.7 290.0 237.1 291.0 237.0ZM246.0 238.8 248.0 238.5 251.0 239.8 254.2 245.0 247.0 244.7 241.1 245.0 241.7 243.0 243.0 241.1Z"/><path fill="#db1a24" fill-rule="evenodd" d="M192.0 102.0 193.0 101.3 194.0 101.2 197.0 101.8 200.0 103.7 201.6 106.0 201.9 108.0 200.1 113.0 199.8 116.0 199.0 117.6 198.0 118.3 190.0 116.1 188.0 113.2 188.1 111.0 190.9 106.0ZM139.0 133.9 149.0 133.6 155.0 134.4 157.5 136.0 158.1 137.0 158.3 139.0 157.0 141.7 155.0 142.9 145.0 144.6 138.0 143.3 136.0 143.8 135.1 145.0 135.3 146.0 137.6 148.0 137.3 149.0 135.0 150.4 133.8 149.0 133.2 146.0 131.5 144.0 131.4 142.0 132.4 140.0 134.9 137.0ZM114.0 147.9 115.0 148.7 115.1 150.0 114.0 151.2 113.0 150.2 112.9 149.0ZM123.0 153.6 125.0 153.3 127.6 154.0 128.5 155.0 128.8 157.0 128.0 158.1 127.0 158.2 126.0 157.7 123.5 155.0ZM66.0 163.7 68.0 163.6 71.0 165.5 75.0 167.1 78.5 170.0 80.0 172.1 83.7 174.0 84.3 176.0 83.0 177.7 78.0 179.6 74.9 180.0 74.0 179.8 72.3 178.0 71.0 177.9 69.0 178.8 68.0 179.8 65.5 184.0 64.5 187.0 64.6 189.0 66.3 192.0 64.9 197.0 62.9 200.0 63.5 205.0 58.5 210.0 52.0 212.1 50.2 214.0 50.3 216.0 53.1 219.0 53.6 220.0 53.7 223.0 55.3 224.0 56.3 228.0 58.2 231.0 58.8 236.0 58.3 237.0 57.0 237.1 54.0 235.8 52.0 236.3 49.0 238.6 45.5 243.0 42.8 245.0 10.7 245.0 12.8 242.0 13.3 236.0 15.0 232.9 21.0 230.1 32.6 230.0 34.2 229.0 36.0 226.2 40.0 227.5 42.0 227.6 43.3 227.0 45.0 225.0 48.0 223.3 48.8 222.0 48.5 220.0 45.0 217.2 44.0 216.9 41.0 217.8 39.0 217.8 36.0 217.3 30.0 214.9 26.9 212.0 25.0 208.1 20.0 203.5 19.0 200.6 18.6 197.0 22.0 190.9 23.6 189.0 24.7 185.0 26.0 183.8 31.0 181.8 33.0 178.3 34.0 177.4 38.0 175.3 42.0 172.2 45.4 171.0 51.0 167.6 54.0 166.8 59.0 167.8 59.8 167.0ZM47.9 180.0 42.0 182.2 41.0 184.0 41.8 186.0 43.0 186.7 45.0 186.6 52.0 182.2 53.0 181.0 53.1 180.0 52.0 179.3 50.0 179.2ZM160.0 213.8 162.0 213.1 164.0 213.2 167.0 215.1 173.0 217.2 173.8 219.0 173.4 225.0 171.1 227.0 168.0 228.6 168.0 231.2 169.0 232.6 170.0 232.6 174.0 230.6 178.0 230.7 180.7 232.0 181.4 233.0 182.2 236.0 182.1 241.0 183.2 245.0 173.9 245.0 173.0 244.0 171.0 243.6 169.6 244.0 168.7 245.0 57.8 245.0 59.0 243.4 60.0 242.9 65.0 242.1 66.0 239.4 67.0 238.6 74.0 236.5 79.0 235.7 83.0 235.9 87.0 235.2 97.0 228.4 99.0 229.0 100.3 231.0 106.2 232.0 108.5 234.0 110.0 234.2 112.0 233.0 114.0 230.1 115.0 229.8 128.0 232.2 130.0 232.2 132.3 231.0 134.8 227.0 136.0 226.0 138.0 225.8 141.0 226.7 143.0 223.2 144.0 222.8 147.0 223.3 148.0 223.0 150.0 220.6 152.0 219.7 154.0 219.8 154.7 221.0 153.0 223.0 153.0 224.0 155.0 225.0 156.0 224.9 158.4 224.0 158.5 223.0 157.7 220.0 157.6 216.0 158.2 215.0ZM299.0 243.9 299.0 245.0 296.7 245.0 298.0 244.1Z"/><path fill="#ab1519" fill-rule="evenodd" d="M140.0 136.6 141.0 136.2 151.0 136.7 152.1 137.0 152.7 138.0 152.0 139.4 150.0 140.4 145.0 141.0 142.0 140.8 140.0 140.0 139.4 139.0 139.3 138.0ZM67.0 168.5 68.0 168.1 69.1 170.0 67.0 169.2ZM55.0 174.7 57.4 175.0 61.0 176.6 62.0 177.6 62.0 178.5 61.0 179.4 60.0 179.6 56.0 178.4 53.6 176.0 54.0 175.0ZM48.0 198.7 49.8 199.0 52.0 200.7 55.0 202.0 55.5 204.0 55.3 206.0 54.0 208.7 48.0 211.2 42.0 210.7 39.0 212.5 37.0 213.2 35.0 212.8 32.4 211.0 31.6 209.0 33.0 206.6 36.0 204.4 41.0 202.9 46.0 200.3ZM27.0 236.0 36.0 235.8 42.0 236.4 43.9 238.0 44.2 240.0 43.0 241.4 37.6 245.0 25.2 245.0 24.6 238.0 24.9 237.0ZM142.0 236.0 144.0 235.7 145.0 236.0 146.0 237.0 146.5 242.0 148.4 245.0 142.3 245.0 142.3 242.0 143.2 239.0 142.1 237.0ZM90.0 240.6 92.0 240.1 97.0 241.5 98.0 242.2 98.5 245.0 80.3 245.0 81.0 244.0 87.0 242.8ZM155.0 243.9 156.0 244.0 157.2 245.0 153.8 245.0ZM116.0 244.2 117.0 244.6 117.5 245.0 115.3 245.0Z"/></g><use href="#coast"/><use href="#borders"/></g></g>
<rect x="232.30" y="372.2" width="40.69" height="5.8" fill="#fffad2"/><rect x="272.69" y="372.2" width="40.69" height="5.8" fill="#fff2b0"/><rect x="313.08" y="372.2" width="40.69" height="5.8" fill="#fde68c"/><rect x="353.48" y="372.2" width="40.69" height="5.8" fill="#fdd06c"/><rect x="393.87" y="372.2" width="40.69" height="5.8" fill="#f7b04f"/><rect x="434.26" y="372.2" width="40.69" height="5.8" fill="#ef8636"/><rect x="474.65" y="372.2" width="40.69" height="5.8" fill="#f07c20"/><rect x="515.04" y="372.2" width="40.69" height="5.8" fill="#eb5a38"/><rect x="555.43" y="372.2" width="40.69" height="5.8" fill="#e8433a"/><rect x="595.83" y="372.2" width="40.69" height="5.8" fill="#db1a24"/><rect x="636.22" y="372.2" width="40.69" height="5.8" fill="#ab1519"/><rect x="676.61" y="372.2" width="40.69" height="5.8" fill="#6e1417"/>
<text x="10.3" y="33.7" font-size="23.5" textLength="230.5" lengthAdjust="spacing" class="b">Heatwave in Europe</text><text x="11.6" y="55.5" font-size="12.8" textLength="138.5" lengthAdjust="spacing" class="d">Temperature forecasts</text><text x="11.5" y="82.5" font-size="13" textLength="103.5" lengthAdjust="spacing" class="b">Tuesday July 19</text><text x="115.2" y="82.5" font-size="12.1" textLength="63" lengthAdjust="spacing" class="g">, 1500 GMT</text><text x="324.5" y="82.5" font-size="13" textLength="124" lengthAdjust="spacing" class="b">Wednesday July 20</text><text x="449" y="82.5" font-size="12.1" textLength="64" lengthAdjust="spacing" class="g">, 1500 GMT</text><text x="637.7" y="82.5" font-size="13" textLength="109.2" lengthAdjust="spacing" class="b">Thursday July 21</text><text x="747.6" y="82.5" font-size="12.1" textLength="64.5" lengthAdjust="spacing" class="g">, 1500 GMT</text><text x="396.3" y="364.6" font-size="13.1" textLength="160" lengthAdjust="spacing" class="d">Temperature at 2 m (in °C)</text><text x="11" y="417.9" font-size="10.1" textLength="383" lengthAdjust="spacing" class="src">Source: European Centre for Medium-Range Weather Forecasts, forecasts as of July 18</text><text x="887.0" y="418.1" font-size="14.4" textLength="32.2" lengthAdjust="spacingAndGlyphs" class="afp">AFP</text><text x="230.0" y="392.8" font-size="14.4" textLength="5.6" lengthAdjust="spacingAndGlyphs" class="num">0</text><text x="270.4" y="392.8" font-size="14.4" textLength="5.6" lengthAdjust="spacingAndGlyphs" class="num">4</text><text x="310.8" y="392.8" font-size="14.4" textLength="5.6" lengthAdjust="spacingAndGlyphs" class="num">8</text><text x="347.8" y="392.8" font-size="14.4" textLength="12.4" lengthAdjust="spacingAndGlyphs" class="num">12</text><text x="388.2" y="392.8" font-size="14.4" textLength="12.4" lengthAdjust="spacingAndGlyphs" class="num">16</text><text x="428.6" y="392.8" font-size="14.4" textLength="12.4" lengthAdjust="spacingAndGlyphs" class="num">20</text><text x="468.9" y="392.8" font-size="14.4" textLength="12.4" lengthAdjust="spacingAndGlyphs" class="num">24</text><text x="509.3" y="392.8" font-size="14.4" textLength="12.4" lengthAdjust="spacingAndGlyphs" class="num">28</text><text x="549.7" y="392.8" font-size="14.4" textLength="12.4" lengthAdjust="spacingAndGlyphs" class="num">32</text><text x="590.1" y="392.8" font-size="14.4" textLength="12.4" lengthAdjust="spacingAndGlyphs" class="num">36</text><text x="630.5" y="392.8" font-size="14.4" textLength="12.4" lengthAdjust="spacingAndGlyphs" class="num">40</text><text x="670.9" y="392.8" font-size="14.4" textLength="12.4" lengthAdjust="spacingAndGlyphs" class="num">44</text><text x="711.3" y="392.8" font-size="14.4" textLength="12.4" lengthAdjust="spacingAndGlyphs" class="num">48</text>
<rect x="0" y="0" width="950" height="3.45" fill="#000"/><rect x="0" y="428.75" width="950" height="104.25" fill="#000"/>
<circle cx="931" cy="412.3" r="8.4" fill="#1f5aa8"/>
</svg>
</body></html>
